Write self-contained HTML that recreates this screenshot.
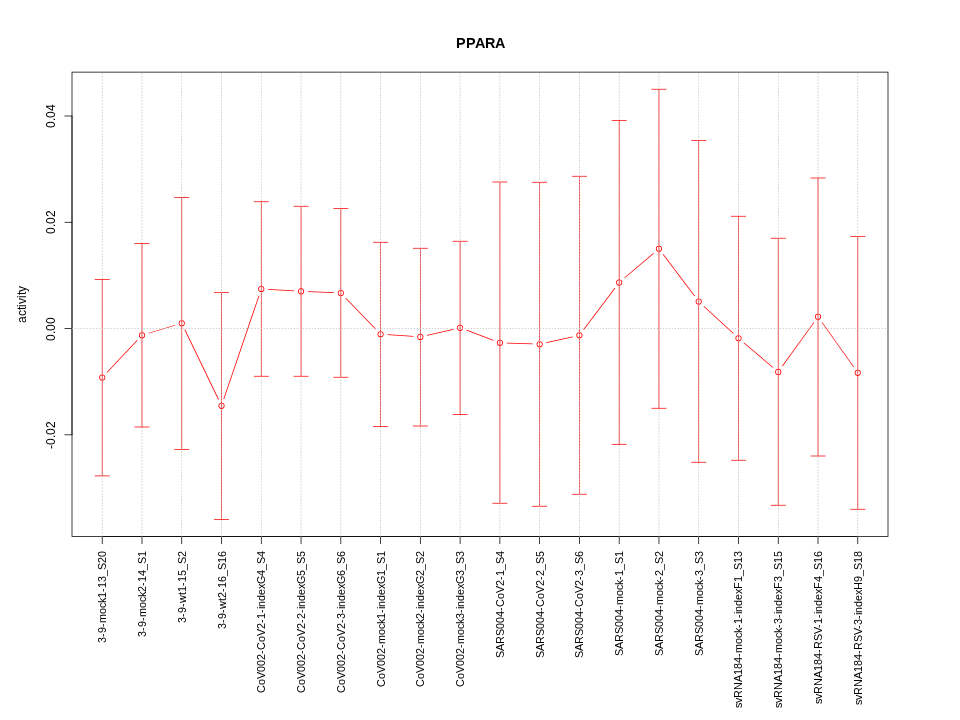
<!DOCTYPE html>
<html><head><meta charset="utf-8"><title>PPARA</title>
<style>
html,body{margin:0;padding:0;background:#fff;}
body{width:960px;height:720px;overflow:hidden;}
svg{display:block;}
text{font-family:"Liberation Sans",sans-serif;fill:#000;}
</style></head><body>
<svg width="960" height="720" viewBox="0 0 960 720">
<rect x="0" y="0" width="960" height="720" fill="#fff"/>
<g fill="#000" stroke="none">
<path fill-rule="evenodd" d="M71.625 71.625H888.375V536.775H71.625ZM72.375 72.375H887.625V536.025H72.375Z"/>
<path d="M71.625 115.71L71.625 435.115L72.375 435.115L72.375 115.71Z"/>
<path d="M72.29 115.625L64.51 115.625L64.51 116.375L72.29 116.375Z"/>
<path d="M72.29 221.9L64.51 221.9L64.51 222.65L72.29 222.65Z"/>
<path d="M72.29 328.175L64.51 328.175L64.51 328.925L72.29 328.925Z"/>
<path d="M72.29 434.45L64.51 434.45L64.51 435.2L72.29 435.2Z"/>
<path d="M101.932 536.775L858.068 536.775L858.068 536.025L101.932 536.025Z"/>
<path d="M101.847 536.11L101.847 543.89L102.597 543.89L102.597 536.11ZM141.613 536.11L141.613 543.89L142.363 543.89L142.363 536.11ZM181.379 536.11L181.379 543.89L182.129 543.89L182.129 536.11ZM221.145 536.11L221.145 543.89L221.895 543.89L221.895 536.11ZM260.912 536.11L260.912 543.89L261.662 543.89L261.662 536.11ZM300.678 536.11L300.678 543.89L301.428 543.89L301.428 536.11ZM340.444 536.11L340.444 543.89L341.194 543.89L341.194 536.11ZM380.21 536.11L380.21 543.89L380.96 543.89L380.96 536.11ZM419.976 536.11L419.976 543.89L420.726 543.89L420.726 536.11ZM459.742 536.11L459.742 543.89L460.492 543.89L460.492 536.11ZM499.508 536.11L499.508 543.89L500.258 543.89L500.258 536.11ZM539.274 536.11L539.274 543.89L540.024 543.89L540.024 536.11ZM579.04 536.11L579.04 543.89L579.79 543.89L579.79 536.11ZM618.806 536.11L618.806 543.89L619.556 543.89L619.556 536.11ZM658.572 536.11L658.572 543.89L659.322 543.89L659.322 536.11ZM698.338 536.11L698.338 543.89L699.088 543.89L699.088 536.11ZM738.105 536.11L738.105 543.89L738.855 543.89L738.855 536.11ZM777.871 536.11L777.871 543.89L778.621 543.89L778.621 536.11ZM817.637 536.11L817.637 543.89L818.387 543.89L818.387 536.11ZM857.403 536.11L857.403 543.89L858.153 543.89L858.153 536.11Z"/>
</g>
<g fill="#f00" stroke="none">
<path d="M107.231 372.725L137.525 340.539L136.979 340.025L106.685 372.211Z"/>
<path d="M148.712 333.613L175.247 325.605L175.031 324.887L148.495 332.895Z"/>
<path d="M184.417 329.637L218.182 399.688L218.858 399.363L185.093 329.312Z"/>
<path d="M224.103 399.33L259.414 295.662L258.704 295.42L223.393 399.088Z"/>
<path d="M268.164 289.765L294.132 291.234L294.175 290.485L268.207 289.016Z"/>
<path d="M307.939 291.928L333.899 293.071L333.932 292.322L307.972 291.179Z"/>
<path d="M345.345 298.235L375.519 329.535L376.059 329.015L345.884 297.715Z"/>
<path d="M387.455 335.084L413.431 336.815L413.481 336.066L387.504 334.335Z"/>
<path d="M427.169 335.716L453.467 329.665L453.299 328.934L427.001 334.985Z"/>
<path d="M466.45 330.54L493.285 340.662L493.55 339.96L466.715 329.838Z"/>
<path d="M506.774 343.385L532.73 344.364L532.758 343.615L506.802 342.636Z"/>
<path d="M546.471 343.09L572.758 337.141L572.593 336.41L546.306 342.359Z"/>
<path d="M583.874 329.958L615.321 288.244L614.722 287.792L583.275 329.506Z"/>
<path d="M624.692 278.315L653.922 253.507L653.436 252.935L624.207 277.743Z"/>
<path d="M662.802 254.497L694.259 296.304L694.859 295.853L663.402 254.046Z"/>
<path d="M703.54 306.559L733.144 333.843L733.653 333.291L704.049 306.007Z"/>
<path d="M743.512 343L772.728 367.723L773.213 367.15L743.997 342.427Z"/>
<path d="M782.591 366.514L814.274 322.574L813.666 322.136L781.983 366.076Z"/>
<path d="M821.707 322.601L853.471 367.333L854.083 366.899L822.318 322.167Z"/>
<path fill-rule="evenodd" d="M99.147 377.5a3.075 3.075 0 1 0 6.15 0a3.075 3.075 0 1 0 -6.15 0ZM99.897 377.5a2.325 2.325 0 1 0 4.65 0a2.325 2.325 0 1 0 -4.65 0Z"/>
<path fill-rule="evenodd" d="M138.913 335.25a3.075 3.075 0 1 0 6.15 0a3.075 3.075 0 1 0 -6.15 0ZM139.663 335.25a2.325 2.325 0 1 0 4.65 0a2.325 2.325 0 1 0 -4.65 0Z"/>
<path fill-rule="evenodd" d="M178.679 323.25a3.075 3.075 0 1 0 6.15 0a3.075 3.075 0 1 0 -6.15 0ZM179.429 323.25a2.325 2.325 0 1 0 4.65 0a2.325 2.325 0 1 0 -4.65 0Z"/>
<path fill-rule="evenodd" d="M218.445 405.75a3.075 3.075 0 1 0 6.15 0a3.075 3.075 0 1 0 -6.15 0ZM219.195 405.75a2.325 2.325 0 1 0 4.65 0a2.325 2.325 0 1 0 -4.65 0Z"/>
<path fill-rule="evenodd" d="M258.212 289a3.075 3.075 0 1 0 6.15 0a3.075 3.075 0 1 0 -6.15 0ZM258.962 289a2.325 2.325 0 1 0 4.65 0a2.325 2.325 0 1 0 -4.65 0Z"/>
<path fill-rule="evenodd" d="M297.978 291.25a3.075 3.075 0 1 0 6.15 0a3.075 3.075 0 1 0 -6.15 0ZM298.728 291.25a2.325 2.325 0 1 0 4.65 0a2.325 2.325 0 1 0 -4.65 0Z"/>
<path fill-rule="evenodd" d="M337.744 293a3.075 3.075 0 1 0 6.15 0a3.075 3.075 0 1 0 -6.15 0ZM338.494 293a2.325 2.325 0 1 0 4.65 0a2.325 2.325 0 1 0 -4.65 0Z"/>
<path fill-rule="evenodd" d="M377.51 334.25a3.075 3.075 0 1 0 6.15 0a3.075 3.075 0 1 0 -6.15 0ZM378.26 334.25a2.325 2.325 0 1 0 4.65 0a2.325 2.325 0 1 0 -4.65 0Z"/>
<path fill-rule="evenodd" d="M417.276 336.9a3.075 3.075 0 1 0 6.15 0a3.075 3.075 0 1 0 -6.15 0ZM418.026 336.9a2.325 2.325 0 1 0 4.65 0a2.325 2.325 0 1 0 -4.65 0Z"/>
<path fill-rule="evenodd" d="M457.042 327.75a3.075 3.075 0 1 0 6.15 0a3.075 3.075 0 1 0 -6.15 0ZM457.792 327.75a2.325 2.325 0 1 0 4.65 0a2.325 2.325 0 1 0 -4.65 0Z"/>
<path fill-rule="evenodd" d="M496.808 342.75a3.075 3.075 0 1 0 6.15 0a3.075 3.075 0 1 0 -6.15 0ZM497.558 342.75a2.325 2.325 0 1 0 4.65 0a2.325 2.325 0 1 0 -4.65 0Z"/>
<path fill-rule="evenodd" d="M536.574 344.25a3.075 3.075 0 1 0 6.15 0a3.075 3.075 0 1 0 -6.15 0ZM537.324 344.25a2.325 2.325 0 1 0 4.65 0a2.325 2.325 0 1 0 -4.65 0Z"/>
<path fill-rule="evenodd" d="M576.34 335.25a3.075 3.075 0 1 0 6.15 0a3.075 3.075 0 1 0 -6.15 0ZM577.09 335.25a2.325 2.325 0 1 0 4.65 0a2.325 2.325 0 1 0 -4.65 0Z"/>
<path fill-rule="evenodd" d="M616.106 282.5a3.075 3.075 0 1 0 6.15 0a3.075 3.075 0 1 0 -6.15 0ZM616.856 282.5a2.325 2.325 0 1 0 4.65 0a2.325 2.325 0 1 0 -4.65 0Z"/>
<path fill-rule="evenodd" d="M655.872 248.75a3.075 3.075 0 1 0 6.15 0a3.075 3.075 0 1 0 -6.15 0ZM656.622 248.75a2.325 2.325 0 1 0 4.65 0a2.325 2.325 0 1 0 -4.65 0Z"/>
<path fill-rule="evenodd" d="M695.638 301.6a3.075 3.075 0 1 0 6.15 0a3.075 3.075 0 1 0 -6.15 0ZM696.388 301.6a2.325 2.325 0 1 0 4.65 0a2.325 2.325 0 1 0 -4.65 0Z"/>
<path fill-rule="evenodd" d="M735.405 338.25a3.075 3.075 0 1 0 6.15 0a3.075 3.075 0 1 0 -6.15 0ZM736.155 338.25a2.325 2.325 0 1 0 4.65 0a2.325 2.325 0 1 0 -4.65 0Z"/>
<path fill-rule="evenodd" d="M775.171 371.9a3.075 3.075 0 1 0 6.15 0a3.075 3.075 0 1 0 -6.15 0ZM775.921 371.9a2.325 2.325 0 1 0 4.65 0a2.325 2.325 0 1 0 -4.65 0Z"/>
<path fill-rule="evenodd" d="M814.937 316.75a3.075 3.075 0 1 0 6.15 0a3.075 3.075 0 1 0 -6.15 0ZM815.687 316.75a2.325 2.325 0 1 0 4.65 0a2.325 2.325 0 1 0 -4.65 0Z"/>
<path fill-rule="evenodd" d="M854.703 372.75a3.075 3.075 0 1 0 6.15 0a3.075 3.075 0 1 0 -6.15 0ZM855.453 372.75a2.325 2.325 0 1 0 4.65 0a2.325 2.325 0 1 0 -4.65 0Z"/>
<path d="M102.597 476.17L102.597 279.21L101.847 279.21L101.847 476.17Z"/>
<path d="M94.732 279.875L109.712 279.875L109.712 279.125L94.732 279.125Z"/>
<path d="M94.732 476.255L109.712 476.255L109.712 475.505L94.732 475.505Z"/>
<path d="M142.363 427.29L142.363 243.21L141.613 243.21L141.613 427.29Z"/>
<path d="M134.498 243.875L149.478 243.875L149.478 243.125L134.498 243.125Z"/>
<path d="M134.498 427.375L149.478 427.375L149.478 426.625L134.498 426.625Z"/>
<path d="M182.129 449.69L182.129 197.21L181.379 197.21L181.379 449.69Z"/>
<path d="M174.264 197.875L189.244 197.875L189.244 197.125L174.264 197.125Z"/>
<path d="M174.264 449.775L189.244 449.775L189.244 449.025L174.264 449.025Z"/>
<path d="M221.895 519.69L221.895 292.21L221.145 292.21L221.145 519.69Z"/>
<path d="M214.03 292.875L229.01 292.875L229.01 292.125L214.03 292.125Z"/>
<path d="M214.03 519.775L229.01 519.775L229.01 519.025L214.03 519.025Z"/>
<path d="M261.662 376.54L261.662 201.46L260.912 201.46L260.912 376.54Z"/>
<path d="M253.797 202.125L268.777 202.125L268.777 201.375L253.797 201.375Z"/>
<path d="M253.797 376.625L268.777 376.625L268.777 375.875L253.797 375.875Z"/>
<path d="M301.428 376.54L301.428 205.96L300.678 205.96L300.678 376.54Z"/>
<path d="M293.563 206.625L308.543 206.625L308.543 205.875L293.563 205.875Z"/>
<path d="M293.563 376.625L308.543 376.625L308.543 375.875L293.563 375.875Z"/>
<path d="M341.194 377.54L341.194 208.21L340.444 208.21L340.444 377.54Z"/>
<path d="M333.329 208.875L348.309 208.875L348.309 208.125L333.329 208.125Z"/>
<path d="M333.329 377.625L348.309 377.625L348.309 376.875L333.329 376.875Z"/>
<path d="M380.96 426.79L380.96 241.96L380.21 241.96L380.21 426.79Z"/>
<path d="M373.095 242.625L388.075 242.625L388.075 241.875L373.095 241.875Z"/>
<path d="M373.095 426.875L388.075 426.875L388.075 426.125L373.095 426.125Z"/>
<path d="M420.726 426.29L420.726 247.96L419.976 247.96L419.976 426.29Z"/>
<path d="M412.861 248.625L427.841 248.625L427.841 247.875L412.861 247.875Z"/>
<path d="M412.861 426.375L427.841 426.375L427.841 425.625L412.861 425.625Z"/>
<path d="M460.492 414.69L460.492 240.96L459.742 240.96L459.742 414.69Z"/>
<path d="M452.627 241.625L467.607 241.625L467.607 240.875L452.627 240.875Z"/>
<path d="M452.627 414.775L467.607 414.775L467.607 414.025L452.627 414.025Z"/>
<path d="M500.258 503.54L500.258 181.71L499.508 181.71L499.508 503.54Z"/>
<path d="M492.393 182.375L507.373 182.375L507.373 181.625L492.393 181.625Z"/>
<path d="M492.393 503.625L507.373 503.625L507.373 502.875L492.393 502.875Z"/>
<path d="M540.024 506.54L540.024 181.96L539.274 181.96L539.274 506.54Z"/>
<path d="M532.159 182.625L547.139 182.625L547.139 181.875L532.159 181.875Z"/>
<path d="M532.159 506.625L547.139 506.625L547.139 505.875L532.159 505.875Z"/>
<path d="M579.79 494.54L579.79 175.96L579.04 175.96L579.04 494.54Z"/>
<path d="M571.925 176.625L586.905 176.625L586.905 175.875L571.925 175.875Z"/>
<path d="M571.925 494.625L586.905 494.625L586.905 493.875L571.925 493.875Z"/>
<path d="M619.556 444.59L619.556 120.21L618.806 120.21L618.806 444.59Z"/>
<path d="M611.691 120.875L626.671 120.875L626.671 120.125L611.691 120.125Z"/>
<path d="M611.691 444.675L626.671 444.675L626.671 443.925L611.691 443.925Z"/>
<path d="M659.322 408.54L659.322 88.96L658.572 88.96L658.572 408.54Z"/>
<path d="M651.457 89.625L666.437 89.625L666.437 88.875L651.457 88.875Z"/>
<path d="M651.457 408.625L666.437 408.625L666.437 407.875L651.457 407.875Z"/>
<path d="M699.088 462.54L699.088 140.21L698.338 140.21L698.338 462.54Z"/>
<path d="M691.223 140.875L706.203 140.875L706.203 140.125L691.223 140.125Z"/>
<path d="M691.223 462.625L706.203 462.625L706.203 461.875L691.223 461.875Z"/>
<path d="M738.855 460.54L738.855 215.96L738.105 215.96L738.105 460.54Z"/>
<path d="M730.99 216.625L745.97 216.625L745.97 215.875L730.99 215.875Z"/>
<path d="M730.99 460.625L745.97 460.625L745.97 459.875L730.99 459.875Z"/>
<path d="M778.621 505.54L778.621 237.91L777.871 237.91L777.871 505.54Z"/>
<path d="M770.756 238.575L785.736 238.575L785.736 237.825L770.756 237.825Z"/>
<path d="M770.756 505.625L785.736 505.625L785.736 504.875L770.756 504.875Z"/>
<path d="M818.387 456.29L818.387 177.71L817.637 177.71L817.637 456.29Z"/>
<path d="M810.522 178.375L825.502 178.375L825.502 177.625L810.522 177.625Z"/>
<path d="M810.522 456.375L825.502 456.375L825.502 455.625L810.522 455.625Z"/>
<path d="M858.153 509.54L858.153 236.21L857.403 236.21L857.403 509.54Z"/>
<path d="M850.288 236.875L865.268 236.875L865.268 236.125L850.288 236.125Z"/>
<path d="M850.288 509.625L865.268 509.625L865.268 508.875L850.288 508.875Z"/>
</g>
<g fill="#bebebe" stroke="none">
<path d="M101.847 535.355h0.75V536.695h-0.75ZM101.847 532.355h0.75V533.695h-0.75ZM101.847 529.355h0.75V530.695h-0.75ZM101.847 526.355h0.75V527.695h-0.75ZM101.847 523.355h0.75V524.695h-0.75ZM101.847 520.355h0.75V521.695h-0.75ZM101.847 517.355h0.75V518.695h-0.75ZM101.847 514.355h0.75V515.695h-0.75ZM101.847 511.355h0.75V512.695h-0.75ZM101.847 508.355h0.75V509.695h-0.75ZM101.847 505.355h0.75V506.695h-0.75ZM101.847 502.355h0.75V503.695h-0.75ZM101.847 499.355h0.75V500.695h-0.75ZM101.847 496.355h0.75V497.695h-0.75ZM101.847 493.355h0.75V494.695h-0.75ZM101.847 490.355h0.75V491.695h-0.75ZM101.847 487.355h0.75V488.695h-0.75ZM101.847 484.355h0.75V485.695h-0.75ZM101.847 481.355h0.75V482.695h-0.75ZM101.847 478.355h0.75V479.695h-0.75ZM101.847 475.355h0.75V476.695h-0.75ZM101.847 472.355h0.75V473.695h-0.75ZM101.847 469.355h0.75V470.695h-0.75ZM101.847 466.355h0.75V467.695h-0.75ZM101.847 463.355h0.75V464.695h-0.75ZM101.847 460.355h0.75V461.695h-0.75ZM101.847 457.355h0.75V458.695h-0.75ZM101.847 454.355h0.75V455.695h-0.75ZM101.847 451.355h0.75V452.695h-0.75ZM101.847 448.355h0.75V449.695h-0.75ZM101.847 445.355h0.75V446.695h-0.75ZM101.847 442.355h0.75V443.695h-0.75ZM101.847 439.355h0.75V440.695h-0.75ZM101.847 436.355h0.75V437.695h-0.75ZM101.847 433.355h0.75V434.695h-0.75ZM101.847 430.355h0.75V431.695h-0.75ZM101.847 427.355h0.75V428.695h-0.75ZM101.847 424.355h0.75V425.695h-0.75ZM101.847 421.355h0.75V422.695h-0.75ZM101.847 418.355h0.75V419.695h-0.75ZM101.847 415.355h0.75V416.695h-0.75ZM101.847 412.355h0.75V413.695h-0.75ZM101.847 409.355h0.75V410.695h-0.75ZM101.847 406.355h0.75V407.695h-0.75ZM101.847 403.355h0.75V404.695h-0.75ZM101.847 400.355h0.75V401.695h-0.75ZM101.847 397.355h0.75V398.695h-0.75ZM101.847 394.355h0.75V395.695h-0.75ZM101.847 391.355h0.75V392.695h-0.75ZM101.847 388.355h0.75V389.695h-0.75ZM101.847 385.355h0.75V386.695h-0.75ZM101.847 382.355h0.75V383.695h-0.75ZM101.847 379.355h0.75V380.695h-0.75ZM101.847 376.355h0.75V377.695h-0.75ZM101.847 373.355h0.75V374.695h-0.75ZM101.847 370.355h0.75V371.695h-0.75ZM101.847 367.355h0.75V368.695h-0.75ZM101.847 364.355h0.75V365.695h-0.75ZM101.847 361.355h0.75V362.695h-0.75ZM101.847 358.355h0.75V359.695h-0.75ZM101.847 355.355h0.75V356.695h-0.75ZM101.847 352.355h0.75V353.695h-0.75ZM101.847 349.355h0.75V350.695h-0.75ZM101.847 346.355h0.75V347.695h-0.75ZM101.847 343.355h0.75V344.695h-0.75ZM101.847 340.355h0.75V341.695h-0.75ZM101.847 337.355h0.75V338.695h-0.75ZM101.847 334.355h0.75V335.695h-0.75ZM101.847 331.355h0.75V332.695h-0.75ZM101.847 328.355h0.75V329.695h-0.75ZM101.847 325.355h0.75V326.695h-0.75ZM101.847 322.355h0.75V323.695h-0.75ZM101.847 319.355h0.75V320.695h-0.75ZM101.847 316.355h0.75V317.695h-0.75ZM101.847 313.355h0.75V314.695h-0.75ZM101.847 310.355h0.75V311.695h-0.75ZM101.847 307.355h0.75V308.695h-0.75ZM101.847 304.355h0.75V305.695h-0.75ZM101.847 301.355h0.75V302.695h-0.75ZM101.847 298.355h0.75V299.695h-0.75ZM101.847 295.355h0.75V296.695h-0.75ZM101.847 292.355h0.75V293.695h-0.75ZM101.847 289.355h0.75V290.695h-0.75ZM101.847 286.355h0.75V287.695h-0.75ZM101.847 283.355h0.75V284.695h-0.75ZM101.847 280.355h0.75V281.695h-0.75ZM101.847 277.355h0.75V278.695h-0.75ZM101.847 274.355h0.75V275.695h-0.75ZM101.847 271.355h0.75V272.695h-0.75ZM101.847 268.355h0.75V269.695h-0.75ZM101.847 265.355h0.75V266.695h-0.75ZM101.847 262.355h0.75V263.695h-0.75ZM101.847 259.355h0.75V260.695h-0.75ZM101.847 256.355h0.75V257.695h-0.75ZM101.847 253.355h0.75V254.695h-0.75ZM101.847 250.355h0.75V251.695h-0.75ZM101.847 247.355h0.75V248.695h-0.75ZM101.847 244.355h0.75V245.695h-0.75ZM101.847 241.355h0.75V242.695h-0.75ZM101.847 238.355h0.75V239.695h-0.75ZM101.847 235.355h0.75V236.695h-0.75ZM101.847 232.355h0.75V233.695h-0.75ZM101.847 229.355h0.75V230.695h-0.75ZM101.847 226.355h0.75V227.695h-0.75ZM101.847 223.355h0.75V224.695h-0.75ZM101.847 220.355h0.75V221.695h-0.75ZM101.847 217.355h0.75V218.695h-0.75ZM101.847 214.355h0.75V215.695h-0.75ZM101.847 211.355h0.75V212.695h-0.75ZM101.847 208.355h0.75V209.695h-0.75ZM101.847 205.355h0.75V206.695h-0.75ZM101.847 202.355h0.75V203.695h-0.75ZM101.847 199.355h0.75V200.695h-0.75ZM101.847 196.355h0.75V197.695h-0.75ZM101.847 193.355h0.75V194.695h-0.75ZM101.847 190.355h0.75V191.695h-0.75ZM101.847 187.355h0.75V188.695h-0.75ZM101.847 184.355h0.75V185.695h-0.75ZM101.847 181.355h0.75V182.695h-0.75ZM101.847 178.355h0.75V179.695h-0.75ZM101.847 175.355h0.75V176.695h-0.75ZM101.847 172.355h0.75V173.695h-0.75ZM101.847 169.355h0.75V170.695h-0.75ZM101.847 166.355h0.75V167.695h-0.75ZM101.847 163.355h0.75V164.695h-0.75ZM101.847 160.355h0.75V161.695h-0.75ZM101.847 157.355h0.75V158.695h-0.75ZM101.847 154.355h0.75V155.695h-0.75ZM101.847 151.355h0.75V152.695h-0.75ZM101.847 148.355h0.75V149.695h-0.75ZM101.847 145.355h0.75V146.695h-0.75ZM101.847 142.355h0.75V143.695h-0.75ZM101.847 139.355h0.75V140.695h-0.75ZM101.847 136.355h0.75V137.695h-0.75ZM101.847 133.355h0.75V134.695h-0.75ZM101.847 130.355h0.75V131.695h-0.75ZM101.847 127.355h0.75V128.695h-0.75ZM101.847 124.355h0.75V125.695h-0.75ZM101.847 121.355h0.75V122.695h-0.75ZM101.847 118.355h0.75V119.695h-0.75ZM101.847 115.355h0.75V116.695h-0.75ZM101.847 112.355h0.75V113.695h-0.75ZM101.847 109.355h0.75V110.695h-0.75ZM101.847 106.355h0.75V107.695h-0.75ZM101.847 103.355h0.75V104.695h-0.75ZM101.847 100.355h0.75V101.695h-0.75ZM101.847 97.355h0.75V98.695h-0.75ZM101.847 94.355h0.75V95.695h-0.75ZM101.847 91.355h0.75V92.695h-0.75ZM101.847 88.355h0.75V89.695h-0.75ZM101.847 85.355h0.75V86.695h-0.75ZM101.847 82.355h0.75V83.695h-0.75ZM101.847 79.355h0.75V80.695h-0.75ZM101.847 76.355h0.75V77.695h-0.75ZM101.847 73.355h0.75V74.695h-0.75Z"/>
<path d="M141.613 535.355h0.75V536.695h-0.75ZM141.613 532.355h0.75V533.695h-0.75ZM141.613 529.355h0.75V530.695h-0.75ZM141.613 526.355h0.75V527.695h-0.75ZM141.613 523.355h0.75V524.695h-0.75ZM141.613 520.355h0.75V521.695h-0.75ZM141.613 517.355h0.75V518.695h-0.75ZM141.613 514.355h0.75V515.695h-0.75ZM141.613 511.355h0.75V512.695h-0.75ZM141.613 508.355h0.75V509.695h-0.75ZM141.613 505.355h0.75V506.695h-0.75ZM141.613 502.355h0.75V503.695h-0.75ZM141.613 499.355h0.75V500.695h-0.75ZM141.613 496.355h0.75V497.695h-0.75ZM141.613 493.355h0.75V494.695h-0.75ZM141.613 490.355h0.75V491.695h-0.75ZM141.613 487.355h0.75V488.695h-0.75ZM141.613 484.355h0.75V485.695h-0.75ZM141.613 481.355h0.75V482.695h-0.75ZM141.613 478.355h0.75V479.695h-0.75ZM141.613 475.355h0.75V476.695h-0.75ZM141.613 472.355h0.75V473.695h-0.75ZM141.613 469.355h0.75V470.695h-0.75ZM141.613 466.355h0.75V467.695h-0.75ZM141.613 463.355h0.75V464.695h-0.75ZM141.613 460.355h0.75V461.695h-0.75ZM141.613 457.355h0.75V458.695h-0.75ZM141.613 454.355h0.75V455.695h-0.75ZM141.613 451.355h0.75V452.695h-0.75ZM141.613 448.355h0.75V449.695h-0.75ZM141.613 445.355h0.75V446.695h-0.75ZM141.613 442.355h0.75V443.695h-0.75ZM141.613 439.355h0.75V440.695h-0.75ZM141.613 436.355h0.75V437.695h-0.75ZM141.613 433.355h0.75V434.695h-0.75ZM141.613 430.355h0.75V431.695h-0.75ZM141.613 427.355h0.75V428.695h-0.75ZM141.613 424.355h0.75V425.695h-0.75ZM141.613 421.355h0.75V422.695h-0.75ZM141.613 418.355h0.75V419.695h-0.75ZM141.613 415.355h0.75V416.695h-0.75ZM141.613 412.355h0.75V413.695h-0.75ZM141.613 409.355h0.75V410.695h-0.75ZM141.613 406.355h0.75V407.695h-0.75ZM141.613 403.355h0.75V404.695h-0.75ZM141.613 400.355h0.75V401.695h-0.75ZM141.613 397.355h0.75V398.695h-0.75ZM141.613 394.355h0.75V395.695h-0.75ZM141.613 391.355h0.75V392.695h-0.75ZM141.613 388.355h0.75V389.695h-0.75ZM141.613 385.355h0.75V386.695h-0.75ZM141.613 382.355h0.75V383.695h-0.75ZM141.613 379.355h0.75V380.695h-0.75ZM141.613 376.355h0.75V377.695h-0.75ZM141.613 373.355h0.75V374.695h-0.75ZM141.613 370.355h0.75V371.695h-0.75ZM141.613 367.355h0.75V368.695h-0.75ZM141.613 364.355h0.75V365.695h-0.75ZM141.613 361.355h0.75V362.695h-0.75ZM141.613 358.355h0.75V359.695h-0.75ZM141.613 355.355h0.75V356.695h-0.75ZM141.613 352.355h0.75V353.695h-0.75ZM141.613 349.355h0.75V350.695h-0.75ZM141.613 346.355h0.75V347.695h-0.75ZM141.613 343.355h0.75V344.695h-0.75ZM141.613 340.355h0.75V341.695h-0.75ZM141.613 337.355h0.75V338.695h-0.75ZM141.613 334.355h0.75V335.695h-0.75ZM141.613 331.355h0.75V332.695h-0.75ZM141.613 328.355h0.75V329.695h-0.75ZM141.613 325.355h0.75V326.695h-0.75ZM141.613 322.355h0.75V323.695h-0.75ZM141.613 319.355h0.75V320.695h-0.75ZM141.613 316.355h0.75V317.695h-0.75ZM141.613 313.355h0.75V314.695h-0.75ZM141.613 310.355h0.75V311.695h-0.75ZM141.613 307.355h0.75V308.695h-0.75ZM141.613 304.355h0.75V305.695h-0.75ZM141.613 301.355h0.75V302.695h-0.75ZM141.613 298.355h0.75V299.695h-0.75ZM141.613 295.355h0.75V296.695h-0.75ZM141.613 292.355h0.75V293.695h-0.75ZM141.613 289.355h0.75V290.695h-0.75ZM141.613 286.355h0.75V287.695h-0.75ZM141.613 283.355h0.75V284.695h-0.75ZM141.613 280.355h0.75V281.695h-0.75ZM141.613 277.355h0.75V278.695h-0.75ZM141.613 274.355h0.75V275.695h-0.75ZM141.613 271.355h0.75V272.695h-0.75ZM141.613 268.355h0.75V269.695h-0.75ZM141.613 265.355h0.75V266.695h-0.75ZM141.613 262.355h0.75V263.695h-0.75ZM141.613 259.355h0.75V260.695h-0.75ZM141.613 256.355h0.75V257.695h-0.75ZM141.613 253.355h0.75V254.695h-0.75ZM141.613 250.355h0.75V251.695h-0.75ZM141.613 247.355h0.75V248.695h-0.75ZM141.613 244.355h0.75V245.695h-0.75ZM141.613 241.355h0.75V242.695h-0.75ZM141.613 238.355h0.75V239.695h-0.75ZM141.613 235.355h0.75V236.695h-0.75ZM141.613 232.355h0.75V233.695h-0.75ZM141.613 229.355h0.75V230.695h-0.75ZM141.613 226.355h0.75V227.695h-0.75ZM141.613 223.355h0.75V224.695h-0.75ZM141.613 220.355h0.75V221.695h-0.75ZM141.613 217.355h0.75V218.695h-0.75ZM141.613 214.355h0.75V215.695h-0.75ZM141.613 211.355h0.75V212.695h-0.75ZM141.613 208.355h0.75V209.695h-0.75ZM141.613 205.355h0.75V206.695h-0.75ZM141.613 202.355h0.75V203.695h-0.75ZM141.613 199.355h0.75V200.695h-0.75ZM141.613 196.355h0.75V197.695h-0.75ZM141.613 193.355h0.75V194.695h-0.75ZM141.613 190.355h0.75V191.695h-0.75ZM141.613 187.355h0.75V188.695h-0.75ZM141.613 184.355h0.75V185.695h-0.75ZM141.613 181.355h0.75V182.695h-0.75ZM141.613 178.355h0.75V179.695h-0.75ZM141.613 175.355h0.75V176.695h-0.75ZM141.613 172.355h0.75V173.695h-0.75ZM141.613 169.355h0.75V170.695h-0.75ZM141.613 166.355h0.75V167.695h-0.75ZM141.613 163.355h0.75V164.695h-0.75ZM141.613 160.355h0.75V161.695h-0.75ZM141.613 157.355h0.75V158.695h-0.75ZM141.613 154.355h0.75V155.695h-0.75ZM141.613 151.355h0.75V152.695h-0.75ZM141.613 148.355h0.75V149.695h-0.75ZM141.613 145.355h0.75V146.695h-0.75ZM141.613 142.355h0.75V143.695h-0.75ZM141.613 139.355h0.75V140.695h-0.75ZM141.613 136.355h0.75V137.695h-0.75ZM141.613 133.355h0.75V134.695h-0.75ZM141.613 130.355h0.75V131.695h-0.75ZM141.613 127.355h0.75V128.695h-0.75ZM141.613 124.355h0.75V125.695h-0.75ZM141.613 121.355h0.75V122.695h-0.75ZM141.613 118.355h0.75V119.695h-0.75ZM141.613 115.355h0.75V116.695h-0.75ZM141.613 112.355h0.75V113.695h-0.75ZM141.613 109.355h0.75V110.695h-0.75ZM141.613 106.355h0.75V107.695h-0.75ZM141.613 103.355h0.75V104.695h-0.75ZM141.613 100.355h0.75V101.695h-0.75ZM141.613 97.355h0.75V98.695h-0.75ZM141.613 94.355h0.75V95.695h-0.75ZM141.613 91.355h0.75V92.695h-0.75ZM141.613 88.355h0.75V89.695h-0.75ZM141.613 85.355h0.75V86.695h-0.75ZM141.613 82.355h0.75V83.695h-0.75ZM141.613 79.355h0.75V80.695h-0.75ZM141.613 76.355h0.75V77.695h-0.75ZM141.613 73.355h0.75V74.695h-0.75Z"/>
<path d="M181.379 535.355h0.75V536.695h-0.75ZM181.379 532.355h0.75V533.695h-0.75ZM181.379 529.355h0.75V530.695h-0.75ZM181.379 526.355h0.75V527.695h-0.75ZM181.379 523.355h0.75V524.695h-0.75ZM181.379 520.355h0.75V521.695h-0.75ZM181.379 517.355h0.75V518.695h-0.75ZM181.379 514.355h0.75V515.695h-0.75ZM181.379 511.355h0.75V512.695h-0.75ZM181.379 508.355h0.75V509.695h-0.75ZM181.379 505.355h0.75V506.695h-0.75ZM181.379 502.355h0.75V503.695h-0.75ZM181.379 499.355h0.75V500.695h-0.75ZM181.379 496.355h0.75V497.695h-0.75ZM181.379 493.355h0.75V494.695h-0.75ZM181.379 490.355h0.75V491.695h-0.75ZM181.379 487.355h0.75V488.695h-0.75ZM181.379 484.355h0.75V485.695h-0.75ZM181.379 481.355h0.75V482.695h-0.75ZM181.379 478.355h0.75V479.695h-0.75ZM181.379 475.355h0.75V476.695h-0.75ZM181.379 472.355h0.75V473.695h-0.75ZM181.379 469.355h0.75V470.695h-0.75ZM181.379 466.355h0.75V467.695h-0.75ZM181.379 463.355h0.75V464.695h-0.75ZM181.379 460.355h0.75V461.695h-0.75ZM181.379 457.355h0.75V458.695h-0.75ZM181.379 454.355h0.75V455.695h-0.75ZM181.379 451.355h0.75V452.695h-0.75ZM181.379 448.355h0.75V449.695h-0.75ZM181.379 445.355h0.75V446.695h-0.75ZM181.379 442.355h0.75V443.695h-0.75ZM181.379 439.355h0.75V440.695h-0.75ZM181.379 436.355h0.75V437.695h-0.75ZM181.379 433.355h0.75V434.695h-0.75ZM181.379 430.355h0.75V431.695h-0.75ZM181.379 427.355h0.75V428.695h-0.75ZM181.379 424.355h0.75V425.695h-0.75ZM181.379 421.355h0.75V422.695h-0.75ZM181.379 418.355h0.75V419.695h-0.75ZM181.379 415.355h0.75V416.695h-0.75ZM181.379 412.355h0.75V413.695h-0.75ZM181.379 409.355h0.75V410.695h-0.75ZM181.379 406.355h0.75V407.695h-0.75ZM181.379 403.355h0.75V404.695h-0.75ZM181.379 400.355h0.75V401.695h-0.75ZM181.379 397.355h0.75V398.695h-0.75ZM181.379 394.355h0.75V395.695h-0.75ZM181.379 391.355h0.75V392.695h-0.75ZM181.379 388.355h0.75V389.695h-0.75ZM181.379 385.355h0.75V386.695h-0.75ZM181.379 382.355h0.75V383.695h-0.75ZM181.379 379.355h0.75V380.695h-0.75ZM181.379 376.355h0.75V377.695h-0.75ZM181.379 373.355h0.75V374.695h-0.75ZM181.379 370.355h0.75V371.695h-0.75ZM181.379 367.355h0.75V368.695h-0.75ZM181.379 364.355h0.75V365.695h-0.75ZM181.379 361.355h0.75V362.695h-0.75ZM181.379 358.355h0.75V359.695h-0.75ZM181.379 355.355h0.75V356.695h-0.75ZM181.379 352.355h0.75V353.695h-0.75ZM181.379 349.355h0.75V350.695h-0.75ZM181.379 346.355h0.75V347.695h-0.75ZM181.379 343.355h0.75V344.695h-0.75ZM181.379 340.355h0.75V341.695h-0.75ZM181.379 337.355h0.75V338.695h-0.75ZM181.379 334.355h0.75V335.695h-0.75ZM181.379 331.355h0.75V332.695h-0.75ZM181.379 328.355h0.75V329.695h-0.75ZM181.379 325.355h0.75V326.695h-0.75ZM181.379 322.355h0.75V323.695h-0.75ZM181.379 319.355h0.75V320.695h-0.75ZM181.379 316.355h0.75V317.695h-0.75ZM181.379 313.355h0.75V314.695h-0.75ZM181.379 310.355h0.75V311.695h-0.75ZM181.379 307.355h0.75V308.695h-0.75ZM181.379 304.355h0.75V305.695h-0.75ZM181.379 301.355h0.75V302.695h-0.75ZM181.379 298.355h0.75V299.695h-0.75ZM181.379 295.355h0.75V296.695h-0.75ZM181.379 292.355h0.75V293.695h-0.75ZM181.379 289.355h0.75V290.695h-0.75ZM181.379 286.355h0.75V287.695h-0.75ZM181.379 283.355h0.75V284.695h-0.75ZM181.379 280.355h0.75V281.695h-0.75ZM181.379 277.355h0.75V278.695h-0.75ZM181.379 274.355h0.75V275.695h-0.75ZM181.379 271.355h0.75V272.695h-0.75ZM181.379 268.355h0.75V269.695h-0.75ZM181.379 265.355h0.75V266.695h-0.75ZM181.379 262.355h0.75V263.695h-0.75ZM181.379 259.355h0.75V260.695h-0.75ZM181.379 256.355h0.75V257.695h-0.75ZM181.379 253.355h0.75V254.695h-0.75ZM181.379 250.355h0.75V251.695h-0.75ZM181.379 247.355h0.75V248.695h-0.75ZM181.379 244.355h0.75V245.695h-0.75ZM181.379 241.355h0.75V242.695h-0.75ZM181.379 238.355h0.75V239.695h-0.75ZM181.379 235.355h0.75V236.695h-0.75ZM181.379 232.355h0.75V233.695h-0.75ZM181.379 229.355h0.75V230.695h-0.75ZM181.379 226.355h0.75V227.695h-0.75ZM181.379 223.355h0.75V224.695h-0.75ZM181.379 220.355h0.75V221.695h-0.75ZM181.379 217.355h0.75V218.695h-0.75ZM181.379 214.355h0.75V215.695h-0.75ZM181.379 211.355h0.75V212.695h-0.75ZM181.379 208.355h0.75V209.695h-0.75ZM181.379 205.355h0.75V206.695h-0.75ZM181.379 202.355h0.75V203.695h-0.75ZM181.379 199.355h0.75V200.695h-0.75ZM181.379 196.355h0.75V197.695h-0.75ZM181.379 193.355h0.75V194.695h-0.75ZM181.379 190.355h0.75V191.695h-0.75ZM181.379 187.355h0.75V188.695h-0.75ZM181.379 184.355h0.75V185.695h-0.75ZM181.379 181.355h0.75V182.695h-0.75ZM181.379 178.355h0.75V179.695h-0.75ZM181.379 175.355h0.75V176.695h-0.75ZM181.379 172.355h0.75V173.695h-0.75ZM181.379 169.355h0.75V170.695h-0.75ZM181.379 166.355h0.75V167.695h-0.75ZM181.379 163.355h0.75V164.695h-0.75ZM181.379 160.355h0.75V161.695h-0.75ZM181.379 157.355h0.75V158.695h-0.75ZM181.379 154.355h0.75V155.695h-0.75ZM181.379 151.355h0.75V152.695h-0.75ZM181.379 148.355h0.75V149.695h-0.75ZM181.379 145.355h0.75V146.695h-0.75ZM181.379 142.355h0.75V143.695h-0.75ZM181.379 139.355h0.75V140.695h-0.75ZM181.379 136.355h0.75V137.695h-0.75ZM181.379 133.355h0.75V134.695h-0.75ZM181.379 130.355h0.75V131.695h-0.75ZM181.379 127.355h0.75V128.695h-0.75ZM181.379 124.355h0.75V125.695h-0.75ZM181.379 121.355h0.75V122.695h-0.75ZM181.379 118.355h0.75V119.695h-0.75ZM181.379 115.355h0.75V116.695h-0.75ZM181.379 112.355h0.75V113.695h-0.75ZM181.379 109.355h0.75V110.695h-0.75ZM181.379 106.355h0.75V107.695h-0.75ZM181.379 103.355h0.75V104.695h-0.75ZM181.379 100.355h0.75V101.695h-0.75ZM181.379 97.355h0.75V98.695h-0.75ZM181.379 94.355h0.75V95.695h-0.75ZM181.379 91.355h0.75V92.695h-0.75ZM181.379 88.355h0.75V89.695h-0.75ZM181.379 85.355h0.75V86.695h-0.75ZM181.379 82.355h0.75V83.695h-0.75ZM181.379 79.355h0.75V80.695h-0.75ZM181.379 76.355h0.75V77.695h-0.75ZM181.379 73.355h0.75V74.695h-0.75Z"/>
<path d="M221.145 535.355h0.75V536.695h-0.75ZM221.145 532.355h0.75V533.695h-0.75ZM221.145 529.355h0.75V530.695h-0.75ZM221.145 526.355h0.75V527.695h-0.75ZM221.145 523.355h0.75V524.695h-0.75ZM221.145 520.355h0.75V521.695h-0.75ZM221.145 517.355h0.75V518.695h-0.75ZM221.145 514.355h0.75V515.695h-0.75ZM221.145 511.355h0.75V512.695h-0.75ZM221.145 508.355h0.75V509.695h-0.75ZM221.145 505.355h0.75V506.695h-0.75ZM221.145 502.355h0.75V503.695h-0.75ZM221.145 499.355h0.75V500.695h-0.75ZM221.145 496.355h0.75V497.695h-0.75ZM221.145 493.355h0.75V494.695h-0.75ZM221.145 490.355h0.75V491.695h-0.75ZM221.145 487.355h0.75V488.695h-0.75ZM221.145 484.355h0.75V485.695h-0.75ZM221.145 481.355h0.75V482.695h-0.75ZM221.145 478.355h0.75V479.695h-0.75ZM221.145 475.355h0.75V476.695h-0.75ZM221.145 472.355h0.75V473.695h-0.75ZM221.145 469.355h0.75V470.695h-0.75ZM221.145 466.355h0.75V467.695h-0.75ZM221.145 463.355h0.75V464.695h-0.75ZM221.145 460.355h0.75V461.695h-0.75ZM221.145 457.355h0.75V458.695h-0.75ZM221.145 454.355h0.75V455.695h-0.75ZM221.145 451.355h0.75V452.695h-0.75ZM221.145 448.355h0.75V449.695h-0.75ZM221.145 445.355h0.75V446.695h-0.75ZM221.145 442.355h0.75V443.695h-0.75ZM221.145 439.355h0.75V440.695h-0.75ZM221.145 436.355h0.75V437.695h-0.75ZM221.145 433.355h0.75V434.695h-0.75ZM221.145 430.355h0.75V431.695h-0.75ZM221.145 427.355h0.75V428.695h-0.75ZM221.145 424.355h0.75V425.695h-0.75ZM221.145 421.355h0.75V422.695h-0.75ZM221.145 418.355h0.75V419.695h-0.75ZM221.145 415.355h0.75V416.695h-0.75ZM221.145 412.355h0.75V413.695h-0.75ZM221.145 409.355h0.75V410.695h-0.75ZM221.145 406.355h0.75V407.695h-0.75ZM221.145 403.355h0.75V404.695h-0.75ZM221.145 400.355h0.75V401.695h-0.75ZM221.145 397.355h0.75V398.695h-0.75ZM221.145 394.355h0.75V395.695h-0.75ZM221.145 391.355h0.75V392.695h-0.75ZM221.145 388.355h0.75V389.695h-0.75ZM221.145 385.355h0.75V386.695h-0.75ZM221.145 382.355h0.75V383.695h-0.75ZM221.145 379.355h0.75V380.695h-0.75ZM221.145 376.355h0.75V377.695h-0.75ZM221.145 373.355h0.75V374.695h-0.75ZM221.145 370.355h0.75V371.695h-0.75ZM221.145 367.355h0.75V368.695h-0.75ZM221.145 364.355h0.75V365.695h-0.75ZM221.145 361.355h0.75V362.695h-0.75ZM221.145 358.355h0.75V359.695h-0.75ZM221.145 355.355h0.75V356.695h-0.75ZM221.145 352.355h0.75V353.695h-0.75ZM221.145 349.355h0.75V350.695h-0.75ZM221.145 346.355h0.75V347.695h-0.75ZM221.145 343.355h0.75V344.695h-0.75ZM221.145 340.355h0.75V341.695h-0.75ZM221.145 337.355h0.75V338.695h-0.75ZM221.145 334.355h0.75V335.695h-0.75ZM221.145 331.355h0.75V332.695h-0.75ZM221.145 328.355h0.75V329.695h-0.75ZM221.145 325.355h0.75V326.695h-0.75ZM221.145 322.355h0.75V323.695h-0.75ZM221.145 319.355h0.75V320.695h-0.75ZM221.145 316.355h0.75V317.695h-0.75ZM221.145 313.355h0.75V314.695h-0.75ZM221.145 310.355h0.75V311.695h-0.75ZM221.145 307.355h0.75V308.695h-0.75ZM221.145 304.355h0.75V305.695h-0.75ZM221.145 301.355h0.75V302.695h-0.75ZM221.145 298.355h0.75V299.695h-0.75ZM221.145 295.355h0.75V296.695h-0.75ZM221.145 292.355h0.75V293.695h-0.75ZM221.145 289.355h0.75V290.695h-0.75ZM221.145 286.355h0.75V287.695h-0.75ZM221.145 283.355h0.75V284.695h-0.75ZM221.145 280.355h0.75V281.695h-0.75ZM221.145 277.355h0.75V278.695h-0.75ZM221.145 274.355h0.75V275.695h-0.75ZM221.145 271.355h0.75V272.695h-0.75ZM221.145 268.355h0.75V269.695h-0.75ZM221.145 265.355h0.75V266.695h-0.75ZM221.145 262.355h0.75V263.695h-0.75ZM221.145 259.355h0.75V260.695h-0.75ZM221.145 256.355h0.75V257.695h-0.75ZM221.145 253.355h0.75V254.695h-0.75ZM221.145 250.355h0.75V251.695h-0.75ZM221.145 247.355h0.75V248.695h-0.75ZM221.145 244.355h0.75V245.695h-0.75ZM221.145 241.355h0.75V242.695h-0.75ZM221.145 238.355h0.75V239.695h-0.75ZM221.145 235.355h0.75V236.695h-0.75ZM221.145 232.355h0.75V233.695h-0.75ZM221.145 229.355h0.75V230.695h-0.75ZM221.145 226.355h0.75V227.695h-0.75ZM221.145 223.355h0.75V224.695h-0.75ZM221.145 220.355h0.75V221.695h-0.75ZM221.145 217.355h0.75V218.695h-0.75ZM221.145 214.355h0.75V215.695h-0.75ZM221.145 211.355h0.75V212.695h-0.75ZM221.145 208.355h0.75V209.695h-0.75ZM221.145 205.355h0.75V206.695h-0.75ZM221.145 202.355h0.75V203.695h-0.75ZM221.145 199.355h0.75V200.695h-0.75ZM221.145 196.355h0.75V197.695h-0.75ZM221.145 193.355h0.75V194.695h-0.75ZM221.145 190.355h0.75V191.695h-0.75ZM221.145 187.355h0.75V188.695h-0.75ZM221.145 184.355h0.75V185.695h-0.75ZM221.145 181.355h0.75V182.695h-0.75ZM221.145 178.355h0.75V179.695h-0.75ZM221.145 175.355h0.75V176.695h-0.75ZM221.145 172.355h0.75V173.695h-0.75ZM221.145 169.355h0.75V170.695h-0.75ZM221.145 166.355h0.75V167.695h-0.75ZM221.145 163.355h0.75V164.695h-0.75ZM221.145 160.355h0.75V161.695h-0.75ZM221.145 157.355h0.75V158.695h-0.75ZM221.145 154.355h0.75V155.695h-0.75ZM221.145 151.355h0.75V152.695h-0.75ZM221.145 148.355h0.75V149.695h-0.75ZM221.145 145.355h0.75V146.695h-0.75ZM221.145 142.355h0.75V143.695h-0.75ZM221.145 139.355h0.75V140.695h-0.75ZM221.145 136.355h0.75V137.695h-0.75ZM221.145 133.355h0.75V134.695h-0.75ZM221.145 130.355h0.75V131.695h-0.75ZM221.145 127.355h0.75V128.695h-0.75ZM221.145 124.355h0.75V125.695h-0.75ZM221.145 121.355h0.75V122.695h-0.75ZM221.145 118.355h0.75V119.695h-0.75ZM221.145 115.355h0.75V116.695h-0.75ZM221.145 112.355h0.75V113.695h-0.75ZM221.145 109.355h0.75V110.695h-0.75ZM221.145 106.355h0.75V107.695h-0.75ZM221.145 103.355h0.75V104.695h-0.75ZM221.145 100.355h0.75V101.695h-0.75ZM221.145 97.355h0.75V98.695h-0.75ZM221.145 94.355h0.75V95.695h-0.75ZM221.145 91.355h0.75V92.695h-0.75ZM221.145 88.355h0.75V89.695h-0.75ZM221.145 85.355h0.75V86.695h-0.75ZM221.145 82.355h0.75V83.695h-0.75ZM221.145 79.355h0.75V80.695h-0.75ZM221.145 76.355h0.75V77.695h-0.75ZM221.145 73.355h0.75V74.695h-0.75Z"/>
<path d="M260.912 535.355h0.75V536.695h-0.75ZM260.912 532.355h0.75V533.695h-0.75ZM260.912 529.355h0.75V530.695h-0.75ZM260.912 526.355h0.75V527.695h-0.75ZM260.912 523.355h0.75V524.695h-0.75ZM260.912 520.355h0.75V521.695h-0.75ZM260.912 517.355h0.75V518.695h-0.75ZM260.912 514.355h0.75V515.695h-0.75ZM260.912 511.355h0.75V512.695h-0.75ZM260.912 508.355h0.75V509.695h-0.75ZM260.912 505.355h0.75V506.695h-0.75ZM260.912 502.355h0.75V503.695h-0.75ZM260.912 499.355h0.75V500.695h-0.75ZM260.912 496.355h0.75V497.695h-0.75ZM260.912 493.355h0.75V494.695h-0.75ZM260.912 490.355h0.75V491.695h-0.75ZM260.912 487.355h0.75V488.695h-0.75ZM260.912 484.355h0.75V485.695h-0.75ZM260.912 481.355h0.75V482.695h-0.75ZM260.912 478.355h0.75V479.695h-0.75ZM260.912 475.355h0.75V476.695h-0.75ZM260.912 472.355h0.75V473.695h-0.75ZM260.912 469.355h0.75V470.695h-0.75ZM260.912 466.355h0.75V467.695h-0.75ZM260.912 463.355h0.75V464.695h-0.75ZM260.912 460.355h0.75V461.695h-0.75ZM260.912 457.355h0.75V458.695h-0.75ZM260.912 454.355h0.75V455.695h-0.75ZM260.912 451.355h0.75V452.695h-0.75ZM260.912 448.355h0.75V449.695h-0.75ZM260.912 445.355h0.75V446.695h-0.75ZM260.912 442.355h0.75V443.695h-0.75ZM260.912 439.355h0.75V440.695h-0.75ZM260.912 436.355h0.75V437.695h-0.75ZM260.912 433.355h0.75V434.695h-0.75ZM260.912 430.355h0.75V431.695h-0.75ZM260.912 427.355h0.75V428.695h-0.75ZM260.912 424.355h0.75V425.695h-0.75ZM260.912 421.355h0.75V422.695h-0.75ZM260.912 418.355h0.75V419.695h-0.75ZM260.912 415.355h0.75V416.695h-0.75ZM260.912 412.355h0.75V413.695h-0.75ZM260.912 409.355h0.75V410.695h-0.75ZM260.912 406.355h0.75V407.695h-0.75ZM260.912 403.355h0.75V404.695h-0.75ZM260.912 400.355h0.75V401.695h-0.75ZM260.912 397.355h0.75V398.695h-0.75ZM260.912 394.355h0.75V395.695h-0.75ZM260.912 391.355h0.75V392.695h-0.75ZM260.912 388.355h0.75V389.695h-0.75ZM260.912 385.355h0.75V386.695h-0.75ZM260.912 382.355h0.75V383.695h-0.75ZM260.912 379.355h0.75V380.695h-0.75ZM260.912 376.355h0.75V377.695h-0.75ZM260.912 373.355h0.75V374.695h-0.75ZM260.912 370.355h0.75V371.695h-0.75ZM260.912 367.355h0.75V368.695h-0.75ZM260.912 364.355h0.75V365.695h-0.75ZM260.912 361.355h0.75V362.695h-0.75ZM260.912 358.355h0.75V359.695h-0.75ZM260.912 355.355h0.75V356.695h-0.75ZM260.912 352.355h0.75V353.695h-0.75ZM260.912 349.355h0.75V350.695h-0.75ZM260.912 346.355h0.75V347.695h-0.75ZM260.912 343.355h0.75V344.695h-0.75ZM260.912 340.355h0.75V341.695h-0.75ZM260.912 337.355h0.75V338.695h-0.75ZM260.912 334.355h0.75V335.695h-0.75ZM260.912 331.355h0.75V332.695h-0.75ZM260.912 328.355h0.75V329.695h-0.75ZM260.912 325.355h0.75V326.695h-0.75ZM260.912 322.355h0.75V323.695h-0.75ZM260.912 319.355h0.75V320.695h-0.75ZM260.912 316.355h0.75V317.695h-0.75ZM260.912 313.355h0.75V314.695h-0.75ZM260.912 310.355h0.75V311.695h-0.75ZM260.912 307.355h0.75V308.695h-0.75ZM260.912 304.355h0.75V305.695h-0.75ZM260.912 301.355h0.75V302.695h-0.75ZM260.912 298.355h0.75V299.695h-0.75ZM260.912 295.355h0.75V296.695h-0.75ZM260.912 292.355h0.75V293.695h-0.75ZM260.912 289.355h0.75V290.695h-0.75ZM260.912 286.355h0.75V287.695h-0.75ZM260.912 283.355h0.75V284.695h-0.75ZM260.912 280.355h0.75V281.695h-0.75ZM260.912 277.355h0.75V278.695h-0.75ZM260.912 274.355h0.75V275.695h-0.75ZM260.912 271.355h0.75V272.695h-0.75ZM260.912 268.355h0.75V269.695h-0.75ZM260.912 265.355h0.75V266.695h-0.75ZM260.912 262.355h0.75V263.695h-0.75ZM260.912 259.355h0.75V260.695h-0.75ZM260.912 256.355h0.75V257.695h-0.75ZM260.912 253.355h0.75V254.695h-0.75ZM260.912 250.355h0.75V251.695h-0.75ZM260.912 247.355h0.75V248.695h-0.75ZM260.912 244.355h0.75V245.695h-0.75ZM260.912 241.355h0.75V242.695h-0.75ZM260.912 238.355h0.75V239.695h-0.75ZM260.912 235.355h0.75V236.695h-0.75ZM260.912 232.355h0.75V233.695h-0.75ZM260.912 229.355h0.75V230.695h-0.75ZM260.912 226.355h0.75V227.695h-0.75ZM260.912 223.355h0.75V224.695h-0.75ZM260.912 220.355h0.75V221.695h-0.75ZM260.912 217.355h0.75V218.695h-0.75ZM260.912 214.355h0.75V215.695h-0.75ZM260.912 211.355h0.75V212.695h-0.75ZM260.912 208.355h0.75V209.695h-0.75ZM260.912 205.355h0.75V206.695h-0.75ZM260.912 202.355h0.75V203.695h-0.75ZM260.912 199.355h0.75V200.695h-0.75ZM260.912 196.355h0.75V197.695h-0.75ZM260.912 193.355h0.75V194.695h-0.75ZM260.912 190.355h0.75V191.695h-0.75ZM260.912 187.355h0.75V188.695h-0.75ZM260.912 184.355h0.75V185.695h-0.75ZM260.912 181.355h0.75V182.695h-0.75ZM260.912 178.355h0.75V179.695h-0.75ZM260.912 175.355h0.75V176.695h-0.75ZM260.912 172.355h0.75V173.695h-0.75ZM260.912 169.355h0.75V170.695h-0.75ZM260.912 166.355h0.75V167.695h-0.75ZM260.912 163.355h0.75V164.695h-0.75ZM260.912 160.355h0.75V161.695h-0.75ZM260.912 157.355h0.75V158.695h-0.75ZM260.912 154.355h0.75V155.695h-0.75ZM260.912 151.355h0.75V152.695h-0.75ZM260.912 148.355h0.75V149.695h-0.75ZM260.912 145.355h0.75V146.695h-0.75ZM260.912 142.355h0.75V143.695h-0.75ZM260.912 139.355h0.75V140.695h-0.75ZM260.912 136.355h0.75V137.695h-0.75ZM260.912 133.355h0.75V134.695h-0.75ZM260.912 130.355h0.75V131.695h-0.75ZM260.912 127.355h0.75V128.695h-0.75ZM260.912 124.355h0.75V125.695h-0.75ZM260.912 121.355h0.75V122.695h-0.75ZM260.912 118.355h0.75V119.695h-0.75ZM260.912 115.355h0.75V116.695h-0.75ZM260.912 112.355h0.75V113.695h-0.75ZM260.912 109.355h0.75V110.695h-0.75ZM260.912 106.355h0.75V107.695h-0.75ZM260.912 103.355h0.75V104.695h-0.75ZM260.912 100.355h0.75V101.695h-0.75ZM260.912 97.355h0.75V98.695h-0.75ZM260.912 94.355h0.75V95.695h-0.75ZM260.912 91.355h0.75V92.695h-0.75ZM260.912 88.355h0.75V89.695h-0.75ZM260.912 85.355h0.75V86.695h-0.75ZM260.912 82.355h0.75V83.695h-0.75ZM260.912 79.355h0.75V80.695h-0.75ZM260.912 76.355h0.75V77.695h-0.75ZM260.912 73.355h0.75V74.695h-0.75Z"/>
<path d="M300.678 535.355h0.75V536.695h-0.75ZM300.678 532.355h0.75V533.695h-0.75ZM300.678 529.355h0.75V530.695h-0.75ZM300.678 526.355h0.75V527.695h-0.75ZM300.678 523.355h0.75V524.695h-0.75ZM300.678 520.355h0.75V521.695h-0.75ZM300.678 517.355h0.75V518.695h-0.75ZM300.678 514.355h0.75V515.695h-0.75ZM300.678 511.355h0.75V512.695h-0.75ZM300.678 508.355h0.75V509.695h-0.75ZM300.678 505.355h0.75V506.695h-0.75ZM300.678 502.355h0.75V503.695h-0.75ZM300.678 499.355h0.75V500.695h-0.75ZM300.678 496.355h0.75V497.695h-0.75ZM300.678 493.355h0.75V494.695h-0.75ZM300.678 490.355h0.75V491.695h-0.75ZM300.678 487.355h0.75V488.695h-0.75ZM300.678 484.355h0.75V485.695h-0.75ZM300.678 481.355h0.75V482.695h-0.75ZM300.678 478.355h0.75V479.695h-0.75ZM300.678 475.355h0.75V476.695h-0.75ZM300.678 472.355h0.75V473.695h-0.75ZM300.678 469.355h0.75V470.695h-0.75ZM300.678 466.355h0.75V467.695h-0.75ZM300.678 463.355h0.75V464.695h-0.75ZM300.678 460.355h0.75V461.695h-0.75ZM300.678 457.355h0.75V458.695h-0.75ZM300.678 454.355h0.75V455.695h-0.75ZM300.678 451.355h0.75V452.695h-0.75ZM300.678 448.355h0.75V449.695h-0.75ZM300.678 445.355h0.75V446.695h-0.75ZM300.678 442.355h0.75V443.695h-0.75ZM300.678 439.355h0.75V440.695h-0.75ZM300.678 436.355h0.75V437.695h-0.75ZM300.678 433.355h0.75V434.695h-0.75ZM300.678 430.355h0.75V431.695h-0.75ZM300.678 427.355h0.75V428.695h-0.75ZM300.678 424.355h0.75V425.695h-0.75ZM300.678 421.355h0.75V422.695h-0.75ZM300.678 418.355h0.75V419.695h-0.75ZM300.678 415.355h0.75V416.695h-0.75ZM300.678 412.355h0.75V413.695h-0.75ZM300.678 409.355h0.75V410.695h-0.75ZM300.678 406.355h0.75V407.695h-0.75ZM300.678 403.355h0.75V404.695h-0.75ZM300.678 400.355h0.75V401.695h-0.75ZM300.678 397.355h0.75V398.695h-0.75ZM300.678 394.355h0.75V395.695h-0.75ZM300.678 391.355h0.75V392.695h-0.75ZM300.678 388.355h0.75V389.695h-0.75ZM300.678 385.355h0.75V386.695h-0.75ZM300.678 382.355h0.75V383.695h-0.75ZM300.678 379.355h0.75V380.695h-0.75ZM300.678 376.355h0.75V377.695h-0.75ZM300.678 373.355h0.75V374.695h-0.75ZM300.678 370.355h0.75V371.695h-0.75ZM300.678 367.355h0.75V368.695h-0.75ZM300.678 364.355h0.75V365.695h-0.75ZM300.678 361.355h0.75V362.695h-0.75ZM300.678 358.355h0.75V359.695h-0.75ZM300.678 355.355h0.75V356.695h-0.75ZM300.678 352.355h0.75V353.695h-0.75ZM300.678 349.355h0.75V350.695h-0.75ZM300.678 346.355h0.75V347.695h-0.75ZM300.678 343.355h0.75V344.695h-0.75ZM300.678 340.355h0.75V341.695h-0.75ZM300.678 337.355h0.75V338.695h-0.75ZM300.678 334.355h0.75V335.695h-0.75ZM300.678 331.355h0.75V332.695h-0.75ZM300.678 328.355h0.75V329.695h-0.75ZM300.678 325.355h0.75V326.695h-0.75ZM300.678 322.355h0.75V323.695h-0.75ZM300.678 319.355h0.75V320.695h-0.75ZM300.678 316.355h0.75V317.695h-0.75ZM300.678 313.355h0.75V314.695h-0.75ZM300.678 310.355h0.75V311.695h-0.75ZM300.678 307.355h0.75V308.695h-0.75ZM300.678 304.355h0.75V305.695h-0.75ZM300.678 301.355h0.75V302.695h-0.75ZM300.678 298.355h0.75V299.695h-0.75ZM300.678 295.355h0.75V296.695h-0.75ZM300.678 292.355h0.75V293.695h-0.75ZM300.678 289.355h0.75V290.695h-0.75ZM300.678 286.355h0.75V287.695h-0.75ZM300.678 283.355h0.75V284.695h-0.75ZM300.678 280.355h0.75V281.695h-0.75ZM300.678 277.355h0.75V278.695h-0.75ZM300.678 274.355h0.75V275.695h-0.75ZM300.678 271.355h0.75V272.695h-0.75ZM300.678 268.355h0.75V269.695h-0.75ZM300.678 265.355h0.75V266.695h-0.75ZM300.678 262.355h0.75V263.695h-0.75ZM300.678 259.355h0.75V260.695h-0.75ZM300.678 256.355h0.75V257.695h-0.75ZM300.678 253.355h0.75V254.695h-0.75ZM300.678 250.355h0.75V251.695h-0.75ZM300.678 247.355h0.75V248.695h-0.75ZM300.678 244.355h0.75V245.695h-0.75ZM300.678 241.355h0.75V242.695h-0.75ZM300.678 238.355h0.75V239.695h-0.75ZM300.678 235.355h0.75V236.695h-0.75ZM300.678 232.355h0.75V233.695h-0.75ZM300.678 229.355h0.75V230.695h-0.75ZM300.678 226.355h0.75V227.695h-0.75ZM300.678 223.355h0.75V224.695h-0.75ZM300.678 220.355h0.75V221.695h-0.75ZM300.678 217.355h0.75V218.695h-0.75ZM300.678 214.355h0.75V215.695h-0.75ZM300.678 211.355h0.75V212.695h-0.75ZM300.678 208.355h0.75V209.695h-0.75ZM300.678 205.355h0.75V206.695h-0.75ZM300.678 202.355h0.75V203.695h-0.75ZM300.678 199.355h0.75V200.695h-0.75ZM300.678 196.355h0.75V197.695h-0.75ZM300.678 193.355h0.75V194.695h-0.75ZM300.678 190.355h0.75V191.695h-0.75ZM300.678 187.355h0.75V188.695h-0.75ZM300.678 184.355h0.75V185.695h-0.75ZM300.678 181.355h0.75V182.695h-0.75ZM300.678 178.355h0.75V179.695h-0.75ZM300.678 175.355h0.75V176.695h-0.75ZM300.678 172.355h0.75V173.695h-0.75ZM300.678 169.355h0.75V170.695h-0.75ZM300.678 166.355h0.75V167.695h-0.75ZM300.678 163.355h0.75V164.695h-0.75ZM300.678 160.355h0.75V161.695h-0.75ZM300.678 157.355h0.75V158.695h-0.75ZM300.678 154.355h0.75V155.695h-0.75ZM300.678 151.355h0.75V152.695h-0.75ZM300.678 148.355h0.75V149.695h-0.75ZM300.678 145.355h0.75V146.695h-0.75ZM300.678 142.355h0.75V143.695h-0.75ZM300.678 139.355h0.75V140.695h-0.75ZM300.678 136.355h0.75V137.695h-0.75ZM300.678 133.355h0.75V134.695h-0.75ZM300.678 130.355h0.75V131.695h-0.75ZM300.678 127.355h0.75V128.695h-0.75ZM300.678 124.355h0.75V125.695h-0.75ZM300.678 121.355h0.75V122.695h-0.75ZM300.678 118.355h0.75V119.695h-0.75ZM300.678 115.355h0.75V116.695h-0.75ZM300.678 112.355h0.75V113.695h-0.75ZM300.678 109.355h0.75V110.695h-0.75ZM300.678 106.355h0.75V107.695h-0.75ZM300.678 103.355h0.75V104.695h-0.75ZM300.678 100.355h0.75V101.695h-0.75ZM300.678 97.355h0.75V98.695h-0.75ZM300.678 94.355h0.75V95.695h-0.75ZM300.678 91.355h0.75V92.695h-0.75ZM300.678 88.355h0.75V89.695h-0.75ZM300.678 85.355h0.75V86.695h-0.75ZM300.678 82.355h0.75V83.695h-0.75ZM300.678 79.355h0.75V80.695h-0.75ZM300.678 76.355h0.75V77.695h-0.75ZM300.678 73.355h0.75V74.695h-0.75Z"/>
<path d="M340.444 535.355h0.75V536.695h-0.75ZM340.444 532.355h0.75V533.695h-0.75ZM340.444 529.355h0.75V530.695h-0.75ZM340.444 526.355h0.75V527.695h-0.75ZM340.444 523.355h0.75V524.695h-0.75ZM340.444 520.355h0.75V521.695h-0.75ZM340.444 517.355h0.75V518.695h-0.75ZM340.444 514.355h0.75V515.695h-0.75ZM340.444 511.355h0.75V512.695h-0.75ZM340.444 508.355h0.75V509.695h-0.75ZM340.444 505.355h0.75V506.695h-0.75ZM340.444 502.355h0.75V503.695h-0.75ZM340.444 499.355h0.75V500.695h-0.75ZM340.444 496.355h0.75V497.695h-0.75ZM340.444 493.355h0.75V494.695h-0.75ZM340.444 490.355h0.75V491.695h-0.75ZM340.444 487.355h0.75V488.695h-0.75ZM340.444 484.355h0.75V485.695h-0.75ZM340.444 481.355h0.75V482.695h-0.75ZM340.444 478.355h0.75V479.695h-0.75ZM340.444 475.355h0.75V476.695h-0.75ZM340.444 472.355h0.75V473.695h-0.75ZM340.444 469.355h0.75V470.695h-0.75ZM340.444 466.355h0.75V467.695h-0.75ZM340.444 463.355h0.75V464.695h-0.75ZM340.444 460.355h0.75V461.695h-0.75ZM340.444 457.355h0.75V458.695h-0.75ZM340.444 454.355h0.75V455.695h-0.75ZM340.444 451.355h0.75V452.695h-0.75ZM340.444 448.355h0.75V449.695h-0.75ZM340.444 445.355h0.75V446.695h-0.75ZM340.444 442.355h0.75V443.695h-0.75ZM340.444 439.355h0.75V440.695h-0.75ZM340.444 436.355h0.75V437.695h-0.75ZM340.444 433.355h0.75V434.695h-0.75ZM340.444 430.355h0.75V431.695h-0.75ZM340.444 427.355h0.75V428.695h-0.75ZM340.444 424.355h0.75V425.695h-0.75ZM340.444 421.355h0.75V422.695h-0.75ZM340.444 418.355h0.75V419.695h-0.75ZM340.444 415.355h0.75V416.695h-0.75ZM340.444 412.355h0.75V413.695h-0.75ZM340.444 409.355h0.75V410.695h-0.75ZM340.444 406.355h0.75V407.695h-0.75ZM340.444 403.355h0.75V404.695h-0.75ZM340.444 400.355h0.75V401.695h-0.75ZM340.444 397.355h0.75V398.695h-0.75ZM340.444 394.355h0.75V395.695h-0.75ZM340.444 391.355h0.75V392.695h-0.75ZM340.444 388.355h0.75V389.695h-0.75ZM340.444 385.355h0.75V386.695h-0.75ZM340.444 382.355h0.75V383.695h-0.75ZM340.444 379.355h0.75V380.695h-0.75ZM340.444 376.355h0.75V377.695h-0.75ZM340.444 373.355h0.75V374.695h-0.75ZM340.444 370.355h0.75V371.695h-0.75ZM340.444 367.355h0.75V368.695h-0.75ZM340.444 364.355h0.75V365.695h-0.75ZM340.444 361.355h0.75V362.695h-0.75ZM340.444 358.355h0.75V359.695h-0.75ZM340.444 355.355h0.75V356.695h-0.75ZM340.444 352.355h0.75V353.695h-0.75ZM340.444 349.355h0.75V350.695h-0.75ZM340.444 346.355h0.75V347.695h-0.75ZM340.444 343.355h0.75V344.695h-0.75ZM340.444 340.355h0.75V341.695h-0.75ZM340.444 337.355h0.75V338.695h-0.75ZM340.444 334.355h0.75V335.695h-0.75ZM340.444 331.355h0.75V332.695h-0.75ZM340.444 328.355h0.75V329.695h-0.75ZM340.444 325.355h0.75V326.695h-0.75ZM340.444 322.355h0.75V323.695h-0.75ZM340.444 319.355h0.75V320.695h-0.75ZM340.444 316.355h0.75V317.695h-0.75ZM340.444 313.355h0.75V314.695h-0.75ZM340.444 310.355h0.75V311.695h-0.75ZM340.444 307.355h0.75V308.695h-0.75ZM340.444 304.355h0.75V305.695h-0.75ZM340.444 301.355h0.75V302.695h-0.75ZM340.444 298.355h0.75V299.695h-0.75ZM340.444 295.355h0.75V296.695h-0.75ZM340.444 292.355h0.75V293.695h-0.75ZM340.444 289.355h0.75V290.695h-0.75ZM340.444 286.355h0.75V287.695h-0.75ZM340.444 283.355h0.75V284.695h-0.75ZM340.444 280.355h0.75V281.695h-0.75ZM340.444 277.355h0.75V278.695h-0.75ZM340.444 274.355h0.75V275.695h-0.75ZM340.444 271.355h0.75V272.695h-0.75ZM340.444 268.355h0.75V269.695h-0.75ZM340.444 265.355h0.75V266.695h-0.75ZM340.444 262.355h0.75V263.695h-0.75ZM340.444 259.355h0.75V260.695h-0.75ZM340.444 256.355h0.75V257.695h-0.75ZM340.444 253.355h0.75V254.695h-0.75ZM340.444 250.355h0.75V251.695h-0.75ZM340.444 247.355h0.75V248.695h-0.75ZM340.444 244.355h0.75V245.695h-0.75ZM340.444 241.355h0.75V242.695h-0.75ZM340.444 238.355h0.75V239.695h-0.75ZM340.444 235.355h0.75V236.695h-0.75ZM340.444 232.355h0.75V233.695h-0.75ZM340.444 229.355h0.75V230.695h-0.75ZM340.444 226.355h0.75V227.695h-0.75ZM340.444 223.355h0.75V224.695h-0.75ZM340.444 220.355h0.75V221.695h-0.75ZM340.444 217.355h0.75V218.695h-0.75ZM340.444 214.355h0.75V215.695h-0.75ZM340.444 211.355h0.75V212.695h-0.75ZM340.444 208.355h0.75V209.695h-0.75ZM340.444 205.355h0.75V206.695h-0.75ZM340.444 202.355h0.75V203.695h-0.75ZM340.444 199.355h0.75V200.695h-0.75ZM340.444 196.355h0.75V197.695h-0.75ZM340.444 193.355h0.75V194.695h-0.75ZM340.444 190.355h0.75V191.695h-0.75ZM340.444 187.355h0.75V188.695h-0.75ZM340.444 184.355h0.75V185.695h-0.75ZM340.444 181.355h0.75V182.695h-0.75ZM340.444 178.355h0.75V179.695h-0.75ZM340.444 175.355h0.75V176.695h-0.75ZM340.444 172.355h0.75V173.695h-0.75ZM340.444 169.355h0.75V170.695h-0.75ZM340.444 166.355h0.75V167.695h-0.75ZM340.444 163.355h0.75V164.695h-0.75ZM340.444 160.355h0.75V161.695h-0.75ZM340.444 157.355h0.75V158.695h-0.75ZM340.444 154.355h0.75V155.695h-0.75ZM340.444 151.355h0.75V152.695h-0.75ZM340.444 148.355h0.75V149.695h-0.75ZM340.444 145.355h0.75V146.695h-0.75ZM340.444 142.355h0.75V143.695h-0.75ZM340.444 139.355h0.75V140.695h-0.75ZM340.444 136.355h0.75V137.695h-0.75ZM340.444 133.355h0.75V134.695h-0.75ZM340.444 130.355h0.75V131.695h-0.75ZM340.444 127.355h0.75V128.695h-0.75ZM340.444 124.355h0.75V125.695h-0.75ZM340.444 121.355h0.75V122.695h-0.75ZM340.444 118.355h0.75V119.695h-0.75ZM340.444 115.355h0.75V116.695h-0.75ZM340.444 112.355h0.75V113.695h-0.75ZM340.444 109.355h0.75V110.695h-0.75ZM340.444 106.355h0.75V107.695h-0.75ZM340.444 103.355h0.75V104.695h-0.75ZM340.444 100.355h0.75V101.695h-0.75ZM340.444 97.355h0.75V98.695h-0.75ZM340.444 94.355h0.75V95.695h-0.75ZM340.444 91.355h0.75V92.695h-0.75ZM340.444 88.355h0.75V89.695h-0.75ZM340.444 85.355h0.75V86.695h-0.75ZM340.444 82.355h0.75V83.695h-0.75ZM340.444 79.355h0.75V80.695h-0.75ZM340.444 76.355h0.75V77.695h-0.75ZM340.444 73.355h0.75V74.695h-0.75Z"/>
<path d="M380.21 535.355h0.75V536.695h-0.75ZM380.21 532.355h0.75V533.695h-0.75ZM380.21 529.355h0.75V530.695h-0.75ZM380.21 526.355h0.75V527.695h-0.75ZM380.21 523.355h0.75V524.695h-0.75ZM380.21 520.355h0.75V521.695h-0.75ZM380.21 517.355h0.75V518.695h-0.75ZM380.21 514.355h0.75V515.695h-0.75ZM380.21 511.355h0.75V512.695h-0.75ZM380.21 508.355h0.75V509.695h-0.75ZM380.21 505.355h0.75V506.695h-0.75ZM380.21 502.355h0.75V503.695h-0.75ZM380.21 499.355h0.75V500.695h-0.75ZM380.21 496.355h0.75V497.695h-0.75ZM380.21 493.355h0.75V494.695h-0.75ZM380.21 490.355h0.75V491.695h-0.75ZM380.21 487.355h0.75V488.695h-0.75ZM380.21 484.355h0.75V485.695h-0.75ZM380.21 481.355h0.75V482.695h-0.75ZM380.21 478.355h0.75V479.695h-0.75ZM380.21 475.355h0.75V476.695h-0.75ZM380.21 472.355h0.75V473.695h-0.75ZM380.21 469.355h0.75V470.695h-0.75ZM380.21 466.355h0.75V467.695h-0.75ZM380.21 463.355h0.75V464.695h-0.75ZM380.21 460.355h0.75V461.695h-0.75ZM380.21 457.355h0.75V458.695h-0.75ZM380.21 454.355h0.75V455.695h-0.75ZM380.21 451.355h0.75V452.695h-0.75ZM380.21 448.355h0.75V449.695h-0.75ZM380.21 445.355h0.75V446.695h-0.75ZM380.21 442.355h0.75V443.695h-0.75ZM380.21 439.355h0.75V440.695h-0.75ZM380.21 436.355h0.75V437.695h-0.75ZM380.21 433.355h0.75V434.695h-0.75ZM380.21 430.355h0.75V431.695h-0.75ZM380.21 427.355h0.75V428.695h-0.75ZM380.21 424.355h0.75V425.695h-0.75ZM380.21 421.355h0.75V422.695h-0.75ZM380.21 418.355h0.75V419.695h-0.75ZM380.21 415.355h0.75V416.695h-0.75ZM380.21 412.355h0.75V413.695h-0.75ZM380.21 409.355h0.75V410.695h-0.75ZM380.21 406.355h0.75V407.695h-0.75ZM380.21 403.355h0.75V404.695h-0.75ZM380.21 400.355h0.75V401.695h-0.75ZM380.21 397.355h0.75V398.695h-0.75ZM380.21 394.355h0.75V395.695h-0.75ZM380.21 391.355h0.75V392.695h-0.75ZM380.21 388.355h0.75V389.695h-0.75ZM380.21 385.355h0.75V386.695h-0.75ZM380.21 382.355h0.75V383.695h-0.75ZM380.21 379.355h0.75V380.695h-0.75ZM380.21 376.355h0.75V377.695h-0.75ZM380.21 373.355h0.75V374.695h-0.75ZM380.21 370.355h0.75V371.695h-0.75ZM380.21 367.355h0.75V368.695h-0.75ZM380.21 364.355h0.75V365.695h-0.75ZM380.21 361.355h0.75V362.695h-0.75ZM380.21 358.355h0.75V359.695h-0.75ZM380.21 355.355h0.75V356.695h-0.75ZM380.21 352.355h0.75V353.695h-0.75ZM380.21 349.355h0.75V350.695h-0.75ZM380.21 346.355h0.75V347.695h-0.75ZM380.21 343.355h0.75V344.695h-0.75ZM380.21 340.355h0.75V341.695h-0.75ZM380.21 337.355h0.75V338.695h-0.75ZM380.21 334.355h0.75V335.695h-0.75ZM380.21 331.355h0.75V332.695h-0.75ZM380.21 328.355h0.75V329.695h-0.75ZM380.21 325.355h0.75V326.695h-0.75ZM380.21 322.355h0.75V323.695h-0.75ZM380.21 319.355h0.75V320.695h-0.75ZM380.21 316.355h0.75V317.695h-0.75ZM380.21 313.355h0.75V314.695h-0.75ZM380.21 310.355h0.75V311.695h-0.75ZM380.21 307.355h0.75V308.695h-0.75ZM380.21 304.355h0.75V305.695h-0.75ZM380.21 301.355h0.75V302.695h-0.75ZM380.21 298.355h0.75V299.695h-0.75ZM380.21 295.355h0.75V296.695h-0.75ZM380.21 292.355h0.75V293.695h-0.75ZM380.21 289.355h0.75V290.695h-0.75ZM380.21 286.355h0.75V287.695h-0.75ZM380.21 283.355h0.75V284.695h-0.75ZM380.21 280.355h0.75V281.695h-0.75ZM380.21 277.355h0.75V278.695h-0.75ZM380.21 274.355h0.75V275.695h-0.75ZM380.21 271.355h0.75V272.695h-0.75ZM380.21 268.355h0.75V269.695h-0.75ZM380.21 265.355h0.75V266.695h-0.75ZM380.21 262.355h0.75V263.695h-0.75ZM380.21 259.355h0.75V260.695h-0.75ZM380.21 256.355h0.75V257.695h-0.75ZM380.21 253.355h0.75V254.695h-0.75ZM380.21 250.355h0.75V251.695h-0.75ZM380.21 247.355h0.75V248.695h-0.75ZM380.21 244.355h0.75V245.695h-0.75ZM380.21 241.355h0.75V242.695h-0.75ZM380.21 238.355h0.75V239.695h-0.75ZM380.21 235.355h0.75V236.695h-0.75ZM380.21 232.355h0.75V233.695h-0.75ZM380.21 229.355h0.75V230.695h-0.75ZM380.21 226.355h0.75V227.695h-0.75ZM380.21 223.355h0.75V224.695h-0.75ZM380.21 220.355h0.75V221.695h-0.75ZM380.21 217.355h0.75V218.695h-0.75ZM380.21 214.355h0.75V215.695h-0.75ZM380.21 211.355h0.75V212.695h-0.75ZM380.21 208.355h0.75V209.695h-0.75ZM380.21 205.355h0.75V206.695h-0.75ZM380.21 202.355h0.75V203.695h-0.75ZM380.21 199.355h0.75V200.695h-0.75ZM380.21 196.355h0.75V197.695h-0.75ZM380.21 193.355h0.75V194.695h-0.75ZM380.21 190.355h0.75V191.695h-0.75ZM380.21 187.355h0.75V188.695h-0.75ZM380.21 184.355h0.75V185.695h-0.75ZM380.21 181.355h0.75V182.695h-0.75ZM380.21 178.355h0.75V179.695h-0.75ZM380.21 175.355h0.75V176.695h-0.75ZM380.21 172.355h0.75V173.695h-0.75ZM380.21 169.355h0.75V170.695h-0.75ZM380.21 166.355h0.75V167.695h-0.75ZM380.21 163.355h0.75V164.695h-0.75ZM380.21 160.355h0.75V161.695h-0.75ZM380.21 157.355h0.75V158.695h-0.75ZM380.21 154.355h0.75V155.695h-0.75ZM380.21 151.355h0.75V152.695h-0.75ZM380.21 148.355h0.75V149.695h-0.75ZM380.21 145.355h0.75V146.695h-0.75ZM380.21 142.355h0.75V143.695h-0.75ZM380.21 139.355h0.75V140.695h-0.75ZM380.21 136.355h0.75V137.695h-0.75ZM380.21 133.355h0.75V134.695h-0.75ZM380.21 130.355h0.75V131.695h-0.75ZM380.21 127.355h0.75V128.695h-0.75ZM380.21 124.355h0.75V125.695h-0.75ZM380.21 121.355h0.75V122.695h-0.75ZM380.21 118.355h0.75V119.695h-0.75ZM380.21 115.355h0.75V116.695h-0.75ZM380.21 112.355h0.75V113.695h-0.75ZM380.21 109.355h0.75V110.695h-0.75ZM380.21 106.355h0.75V107.695h-0.75ZM380.21 103.355h0.75V104.695h-0.75ZM380.21 100.355h0.75V101.695h-0.75ZM380.21 97.355h0.75V98.695h-0.75ZM380.21 94.355h0.75V95.695h-0.75ZM380.21 91.355h0.75V92.695h-0.75ZM380.21 88.355h0.75V89.695h-0.75ZM380.21 85.355h0.75V86.695h-0.75ZM380.21 82.355h0.75V83.695h-0.75ZM380.21 79.355h0.75V80.695h-0.75ZM380.21 76.355h0.75V77.695h-0.75ZM380.21 73.355h0.75V74.695h-0.75Z"/>
<path d="M419.976 535.355h0.75V536.695h-0.75ZM419.976 532.355h0.75V533.695h-0.75ZM419.976 529.355h0.75V530.695h-0.75ZM419.976 526.355h0.75V527.695h-0.75ZM419.976 523.355h0.75V524.695h-0.75ZM419.976 520.355h0.75V521.695h-0.75ZM419.976 517.355h0.75V518.695h-0.75ZM419.976 514.355h0.75V515.695h-0.75ZM419.976 511.355h0.75V512.695h-0.75ZM419.976 508.355h0.75V509.695h-0.75ZM419.976 505.355h0.75V506.695h-0.75ZM419.976 502.355h0.75V503.695h-0.75ZM419.976 499.355h0.75V500.695h-0.75ZM419.976 496.355h0.75V497.695h-0.75ZM419.976 493.355h0.75V494.695h-0.75ZM419.976 490.355h0.75V491.695h-0.75ZM419.976 487.355h0.75V488.695h-0.75ZM419.976 484.355h0.75V485.695h-0.75ZM419.976 481.355h0.75V482.695h-0.75ZM419.976 478.355h0.75V479.695h-0.75ZM419.976 475.355h0.75V476.695h-0.75ZM419.976 472.355h0.75V473.695h-0.75ZM419.976 469.355h0.75V470.695h-0.75ZM419.976 466.355h0.75V467.695h-0.75ZM419.976 463.355h0.75V464.695h-0.75ZM419.976 460.355h0.75V461.695h-0.75ZM419.976 457.355h0.75V458.695h-0.75ZM419.976 454.355h0.75V455.695h-0.75ZM419.976 451.355h0.75V452.695h-0.75ZM419.976 448.355h0.75V449.695h-0.75ZM419.976 445.355h0.75V446.695h-0.75ZM419.976 442.355h0.75V443.695h-0.75ZM419.976 439.355h0.75V440.695h-0.75ZM419.976 436.355h0.75V437.695h-0.75ZM419.976 433.355h0.75V434.695h-0.75ZM419.976 430.355h0.75V431.695h-0.75ZM419.976 427.355h0.75V428.695h-0.75ZM419.976 424.355h0.75V425.695h-0.75ZM419.976 421.355h0.75V422.695h-0.75ZM419.976 418.355h0.75V419.695h-0.75ZM419.976 415.355h0.75V416.695h-0.75ZM419.976 412.355h0.75V413.695h-0.75ZM419.976 409.355h0.75V410.695h-0.75ZM419.976 406.355h0.75V407.695h-0.75ZM419.976 403.355h0.75V404.695h-0.75ZM419.976 400.355h0.75V401.695h-0.75ZM419.976 397.355h0.75V398.695h-0.75ZM419.976 394.355h0.75V395.695h-0.75ZM419.976 391.355h0.75V392.695h-0.75ZM419.976 388.355h0.75V389.695h-0.75ZM419.976 385.355h0.75V386.695h-0.75ZM419.976 382.355h0.75V383.695h-0.75ZM419.976 379.355h0.75V380.695h-0.75ZM419.976 376.355h0.75V377.695h-0.75ZM419.976 373.355h0.75V374.695h-0.75ZM419.976 370.355h0.75V371.695h-0.75ZM419.976 367.355h0.75V368.695h-0.75ZM419.976 364.355h0.75V365.695h-0.75ZM419.976 361.355h0.75V362.695h-0.75ZM419.976 358.355h0.75V359.695h-0.75ZM419.976 355.355h0.75V356.695h-0.75ZM419.976 352.355h0.75V353.695h-0.75ZM419.976 349.355h0.75V350.695h-0.75ZM419.976 346.355h0.75V347.695h-0.75ZM419.976 343.355h0.75V344.695h-0.75ZM419.976 340.355h0.75V341.695h-0.75ZM419.976 337.355h0.75V338.695h-0.75ZM419.976 334.355h0.75V335.695h-0.75ZM419.976 331.355h0.75V332.695h-0.75ZM419.976 328.355h0.75V329.695h-0.75ZM419.976 325.355h0.75V326.695h-0.75ZM419.976 322.355h0.75V323.695h-0.75ZM419.976 319.355h0.75V320.695h-0.75ZM419.976 316.355h0.75V317.695h-0.75ZM419.976 313.355h0.75V314.695h-0.75ZM419.976 310.355h0.75V311.695h-0.75ZM419.976 307.355h0.75V308.695h-0.75ZM419.976 304.355h0.75V305.695h-0.75ZM419.976 301.355h0.75V302.695h-0.75ZM419.976 298.355h0.75V299.695h-0.75ZM419.976 295.355h0.75V296.695h-0.75ZM419.976 292.355h0.75V293.695h-0.75ZM419.976 289.355h0.75V290.695h-0.75ZM419.976 286.355h0.75V287.695h-0.75ZM419.976 283.355h0.75V284.695h-0.75ZM419.976 280.355h0.75V281.695h-0.75ZM419.976 277.355h0.75V278.695h-0.75ZM419.976 274.355h0.75V275.695h-0.75ZM419.976 271.355h0.75V272.695h-0.75ZM419.976 268.355h0.75V269.695h-0.75ZM419.976 265.355h0.75V266.695h-0.75ZM419.976 262.355h0.75V263.695h-0.75ZM419.976 259.355h0.75V260.695h-0.75ZM419.976 256.355h0.75V257.695h-0.75ZM419.976 253.355h0.75V254.695h-0.75ZM419.976 250.355h0.75V251.695h-0.75ZM419.976 247.355h0.75V248.695h-0.75ZM419.976 244.355h0.75V245.695h-0.75ZM419.976 241.355h0.75V242.695h-0.75ZM419.976 238.355h0.75V239.695h-0.75ZM419.976 235.355h0.75V236.695h-0.75ZM419.976 232.355h0.75V233.695h-0.75ZM419.976 229.355h0.75V230.695h-0.75ZM419.976 226.355h0.75V227.695h-0.75ZM419.976 223.355h0.75V224.695h-0.75ZM419.976 220.355h0.75V221.695h-0.75ZM419.976 217.355h0.75V218.695h-0.75ZM419.976 214.355h0.75V215.695h-0.75ZM419.976 211.355h0.75V212.695h-0.75ZM419.976 208.355h0.75V209.695h-0.75ZM419.976 205.355h0.75V206.695h-0.75ZM419.976 202.355h0.75V203.695h-0.75ZM419.976 199.355h0.75V200.695h-0.75ZM419.976 196.355h0.75V197.695h-0.75ZM419.976 193.355h0.75V194.695h-0.75ZM419.976 190.355h0.75V191.695h-0.75ZM419.976 187.355h0.75V188.695h-0.75ZM419.976 184.355h0.75V185.695h-0.75ZM419.976 181.355h0.75V182.695h-0.75ZM419.976 178.355h0.75V179.695h-0.75ZM419.976 175.355h0.75V176.695h-0.75ZM419.976 172.355h0.75V173.695h-0.75ZM419.976 169.355h0.75V170.695h-0.75ZM419.976 166.355h0.75V167.695h-0.75ZM419.976 163.355h0.75V164.695h-0.75ZM419.976 160.355h0.75V161.695h-0.75ZM419.976 157.355h0.75V158.695h-0.75ZM419.976 154.355h0.75V155.695h-0.75ZM419.976 151.355h0.75V152.695h-0.75ZM419.976 148.355h0.75V149.695h-0.75ZM419.976 145.355h0.75V146.695h-0.75ZM419.976 142.355h0.75V143.695h-0.75ZM419.976 139.355h0.75V140.695h-0.75ZM419.976 136.355h0.75V137.695h-0.75ZM419.976 133.355h0.75V134.695h-0.75ZM419.976 130.355h0.75V131.695h-0.75ZM419.976 127.355h0.75V128.695h-0.75ZM419.976 124.355h0.75V125.695h-0.75ZM419.976 121.355h0.75V122.695h-0.75ZM419.976 118.355h0.75V119.695h-0.75ZM419.976 115.355h0.75V116.695h-0.75ZM419.976 112.355h0.75V113.695h-0.75ZM419.976 109.355h0.75V110.695h-0.75ZM419.976 106.355h0.75V107.695h-0.75ZM419.976 103.355h0.75V104.695h-0.75ZM419.976 100.355h0.75V101.695h-0.75ZM419.976 97.355h0.75V98.695h-0.75ZM419.976 94.355h0.75V95.695h-0.75ZM419.976 91.355h0.75V92.695h-0.75ZM419.976 88.355h0.75V89.695h-0.75ZM419.976 85.355h0.75V86.695h-0.75ZM419.976 82.355h0.75V83.695h-0.75ZM419.976 79.355h0.75V80.695h-0.75ZM419.976 76.355h0.75V77.695h-0.75ZM419.976 73.355h0.75V74.695h-0.75Z"/>
<path d="M459.742 535.355h0.75V536.695h-0.75ZM459.742 532.355h0.75V533.695h-0.75ZM459.742 529.355h0.75V530.695h-0.75ZM459.742 526.355h0.75V527.695h-0.75ZM459.742 523.355h0.75V524.695h-0.75ZM459.742 520.355h0.75V521.695h-0.75ZM459.742 517.355h0.75V518.695h-0.75ZM459.742 514.355h0.75V515.695h-0.75ZM459.742 511.355h0.75V512.695h-0.75ZM459.742 508.355h0.75V509.695h-0.75ZM459.742 505.355h0.75V506.695h-0.75ZM459.742 502.355h0.75V503.695h-0.75ZM459.742 499.355h0.75V500.695h-0.75ZM459.742 496.355h0.75V497.695h-0.75ZM459.742 493.355h0.75V494.695h-0.75ZM459.742 490.355h0.75V491.695h-0.75ZM459.742 487.355h0.75V488.695h-0.75ZM459.742 484.355h0.75V485.695h-0.75ZM459.742 481.355h0.75V482.695h-0.75ZM459.742 478.355h0.75V479.695h-0.75ZM459.742 475.355h0.75V476.695h-0.75ZM459.742 472.355h0.75V473.695h-0.75ZM459.742 469.355h0.75V470.695h-0.75ZM459.742 466.355h0.75V467.695h-0.75ZM459.742 463.355h0.75V464.695h-0.75ZM459.742 460.355h0.75V461.695h-0.75ZM459.742 457.355h0.75V458.695h-0.75ZM459.742 454.355h0.75V455.695h-0.75ZM459.742 451.355h0.75V452.695h-0.75ZM459.742 448.355h0.75V449.695h-0.75ZM459.742 445.355h0.75V446.695h-0.75ZM459.742 442.355h0.75V443.695h-0.75ZM459.742 439.355h0.75V440.695h-0.75ZM459.742 436.355h0.75V437.695h-0.75ZM459.742 433.355h0.75V434.695h-0.75ZM459.742 430.355h0.75V431.695h-0.75ZM459.742 427.355h0.75V428.695h-0.75ZM459.742 424.355h0.75V425.695h-0.75ZM459.742 421.355h0.75V422.695h-0.75ZM459.742 418.355h0.75V419.695h-0.75ZM459.742 415.355h0.75V416.695h-0.75ZM459.742 412.355h0.75V413.695h-0.75ZM459.742 409.355h0.75V410.695h-0.75ZM459.742 406.355h0.75V407.695h-0.75ZM459.742 403.355h0.75V404.695h-0.75ZM459.742 400.355h0.75V401.695h-0.75ZM459.742 397.355h0.75V398.695h-0.75ZM459.742 394.355h0.75V395.695h-0.75ZM459.742 391.355h0.75V392.695h-0.75ZM459.742 388.355h0.75V389.695h-0.75ZM459.742 385.355h0.75V386.695h-0.75ZM459.742 382.355h0.75V383.695h-0.75ZM459.742 379.355h0.75V380.695h-0.75ZM459.742 376.355h0.75V377.695h-0.75ZM459.742 373.355h0.75V374.695h-0.75ZM459.742 370.355h0.75V371.695h-0.75ZM459.742 367.355h0.75V368.695h-0.75ZM459.742 364.355h0.75V365.695h-0.75ZM459.742 361.355h0.75V362.695h-0.75ZM459.742 358.355h0.75V359.695h-0.75ZM459.742 355.355h0.75V356.695h-0.75ZM459.742 352.355h0.75V353.695h-0.75ZM459.742 349.355h0.75V350.695h-0.75ZM459.742 346.355h0.75V347.695h-0.75ZM459.742 343.355h0.75V344.695h-0.75ZM459.742 340.355h0.75V341.695h-0.75ZM459.742 337.355h0.75V338.695h-0.75ZM459.742 334.355h0.75V335.695h-0.75ZM459.742 331.355h0.75V332.695h-0.75ZM459.742 328.355h0.75V329.695h-0.75ZM459.742 325.355h0.75V326.695h-0.75ZM459.742 322.355h0.75V323.695h-0.75ZM459.742 319.355h0.75V320.695h-0.75ZM459.742 316.355h0.75V317.695h-0.75ZM459.742 313.355h0.75V314.695h-0.75ZM459.742 310.355h0.75V311.695h-0.75ZM459.742 307.355h0.75V308.695h-0.75ZM459.742 304.355h0.75V305.695h-0.75ZM459.742 301.355h0.75V302.695h-0.75ZM459.742 298.355h0.75V299.695h-0.75ZM459.742 295.355h0.75V296.695h-0.75ZM459.742 292.355h0.75V293.695h-0.75ZM459.742 289.355h0.75V290.695h-0.75ZM459.742 286.355h0.75V287.695h-0.75ZM459.742 283.355h0.75V284.695h-0.75ZM459.742 280.355h0.75V281.695h-0.75ZM459.742 277.355h0.75V278.695h-0.75ZM459.742 274.355h0.75V275.695h-0.75ZM459.742 271.355h0.75V272.695h-0.75ZM459.742 268.355h0.75V269.695h-0.75ZM459.742 265.355h0.75V266.695h-0.75ZM459.742 262.355h0.75V263.695h-0.75ZM459.742 259.355h0.75V260.695h-0.75ZM459.742 256.355h0.75V257.695h-0.75ZM459.742 253.355h0.75V254.695h-0.75ZM459.742 250.355h0.75V251.695h-0.75ZM459.742 247.355h0.75V248.695h-0.75ZM459.742 244.355h0.75V245.695h-0.75ZM459.742 241.355h0.75V242.695h-0.75ZM459.742 238.355h0.75V239.695h-0.75ZM459.742 235.355h0.75V236.695h-0.75ZM459.742 232.355h0.75V233.695h-0.75ZM459.742 229.355h0.75V230.695h-0.75ZM459.742 226.355h0.75V227.695h-0.75ZM459.742 223.355h0.75V224.695h-0.75ZM459.742 220.355h0.75V221.695h-0.75ZM459.742 217.355h0.75V218.695h-0.75ZM459.742 214.355h0.75V215.695h-0.75ZM459.742 211.355h0.75V212.695h-0.75ZM459.742 208.355h0.75V209.695h-0.75ZM459.742 205.355h0.75V206.695h-0.75ZM459.742 202.355h0.75V203.695h-0.75ZM459.742 199.355h0.75V200.695h-0.75ZM459.742 196.355h0.75V197.695h-0.75ZM459.742 193.355h0.75V194.695h-0.75ZM459.742 190.355h0.75V191.695h-0.75ZM459.742 187.355h0.75V188.695h-0.75ZM459.742 184.355h0.75V185.695h-0.75ZM459.742 181.355h0.75V182.695h-0.75ZM459.742 178.355h0.75V179.695h-0.75ZM459.742 175.355h0.75V176.695h-0.75ZM459.742 172.355h0.75V173.695h-0.75ZM459.742 169.355h0.75V170.695h-0.75ZM459.742 166.355h0.75V167.695h-0.75ZM459.742 163.355h0.75V164.695h-0.75ZM459.742 160.355h0.75V161.695h-0.75ZM459.742 157.355h0.75V158.695h-0.75ZM459.742 154.355h0.75V155.695h-0.75ZM459.742 151.355h0.75V152.695h-0.75ZM459.742 148.355h0.75V149.695h-0.75ZM459.742 145.355h0.75V146.695h-0.75ZM459.742 142.355h0.75V143.695h-0.75ZM459.742 139.355h0.75V140.695h-0.75ZM459.742 136.355h0.75V137.695h-0.75ZM459.742 133.355h0.75V134.695h-0.75ZM459.742 130.355h0.75V131.695h-0.75ZM459.742 127.355h0.75V128.695h-0.75ZM459.742 124.355h0.75V125.695h-0.75ZM459.742 121.355h0.75V122.695h-0.75ZM459.742 118.355h0.75V119.695h-0.75ZM459.742 115.355h0.75V116.695h-0.75ZM459.742 112.355h0.75V113.695h-0.75ZM459.742 109.355h0.75V110.695h-0.75ZM459.742 106.355h0.75V107.695h-0.75ZM459.742 103.355h0.75V104.695h-0.75ZM459.742 100.355h0.75V101.695h-0.75ZM459.742 97.355h0.75V98.695h-0.75ZM459.742 94.355h0.75V95.695h-0.75ZM459.742 91.355h0.75V92.695h-0.75ZM459.742 88.355h0.75V89.695h-0.75ZM459.742 85.355h0.75V86.695h-0.75ZM459.742 82.355h0.75V83.695h-0.75ZM459.742 79.355h0.75V80.695h-0.75ZM459.742 76.355h0.75V77.695h-0.75ZM459.742 73.355h0.75V74.695h-0.75Z"/>
<path d="M499.508 535.355h0.75V536.695h-0.75ZM499.508 532.355h0.75V533.695h-0.75ZM499.508 529.355h0.75V530.695h-0.75ZM499.508 526.355h0.75V527.695h-0.75ZM499.508 523.355h0.75V524.695h-0.75ZM499.508 520.355h0.75V521.695h-0.75ZM499.508 517.355h0.75V518.695h-0.75ZM499.508 514.355h0.75V515.695h-0.75ZM499.508 511.355h0.75V512.695h-0.75ZM499.508 508.355h0.75V509.695h-0.75ZM499.508 505.355h0.75V506.695h-0.75ZM499.508 502.355h0.75V503.695h-0.75ZM499.508 499.355h0.75V500.695h-0.75ZM499.508 496.355h0.75V497.695h-0.75ZM499.508 493.355h0.75V494.695h-0.75ZM499.508 490.355h0.75V491.695h-0.75ZM499.508 487.355h0.75V488.695h-0.75ZM499.508 484.355h0.75V485.695h-0.75ZM499.508 481.355h0.75V482.695h-0.75ZM499.508 478.355h0.75V479.695h-0.75ZM499.508 475.355h0.75V476.695h-0.75ZM499.508 472.355h0.75V473.695h-0.75ZM499.508 469.355h0.75V470.695h-0.75ZM499.508 466.355h0.75V467.695h-0.75ZM499.508 463.355h0.75V464.695h-0.75ZM499.508 460.355h0.75V461.695h-0.75ZM499.508 457.355h0.75V458.695h-0.75ZM499.508 454.355h0.75V455.695h-0.75ZM499.508 451.355h0.75V452.695h-0.75ZM499.508 448.355h0.75V449.695h-0.75ZM499.508 445.355h0.75V446.695h-0.75ZM499.508 442.355h0.75V443.695h-0.75ZM499.508 439.355h0.75V440.695h-0.75ZM499.508 436.355h0.75V437.695h-0.75ZM499.508 433.355h0.75V434.695h-0.75ZM499.508 430.355h0.75V431.695h-0.75ZM499.508 427.355h0.75V428.695h-0.75ZM499.508 424.355h0.75V425.695h-0.75ZM499.508 421.355h0.75V422.695h-0.75ZM499.508 418.355h0.75V419.695h-0.75ZM499.508 415.355h0.75V416.695h-0.75ZM499.508 412.355h0.75V413.695h-0.75ZM499.508 409.355h0.75V410.695h-0.75ZM499.508 406.355h0.75V407.695h-0.75ZM499.508 403.355h0.75V404.695h-0.75ZM499.508 400.355h0.75V401.695h-0.75ZM499.508 397.355h0.75V398.695h-0.75ZM499.508 394.355h0.75V395.695h-0.75ZM499.508 391.355h0.75V392.695h-0.75ZM499.508 388.355h0.75V389.695h-0.75ZM499.508 385.355h0.75V386.695h-0.75ZM499.508 382.355h0.75V383.695h-0.75ZM499.508 379.355h0.75V380.695h-0.75ZM499.508 376.355h0.75V377.695h-0.75ZM499.508 373.355h0.75V374.695h-0.75ZM499.508 370.355h0.75V371.695h-0.75ZM499.508 367.355h0.75V368.695h-0.75ZM499.508 364.355h0.75V365.695h-0.75ZM499.508 361.355h0.75V362.695h-0.75ZM499.508 358.355h0.75V359.695h-0.75ZM499.508 355.355h0.75V356.695h-0.75ZM499.508 352.355h0.75V353.695h-0.75ZM499.508 349.355h0.75V350.695h-0.75ZM499.508 346.355h0.75V347.695h-0.75ZM499.508 343.355h0.75V344.695h-0.75ZM499.508 340.355h0.75V341.695h-0.75ZM499.508 337.355h0.75V338.695h-0.75ZM499.508 334.355h0.75V335.695h-0.75ZM499.508 331.355h0.75V332.695h-0.75ZM499.508 328.355h0.75V329.695h-0.75ZM499.508 325.355h0.75V326.695h-0.75ZM499.508 322.355h0.75V323.695h-0.75ZM499.508 319.355h0.75V320.695h-0.75ZM499.508 316.355h0.75V317.695h-0.75ZM499.508 313.355h0.75V314.695h-0.75ZM499.508 310.355h0.75V311.695h-0.75ZM499.508 307.355h0.75V308.695h-0.75ZM499.508 304.355h0.75V305.695h-0.75ZM499.508 301.355h0.75V302.695h-0.75ZM499.508 298.355h0.75V299.695h-0.75ZM499.508 295.355h0.75V296.695h-0.75ZM499.508 292.355h0.75V293.695h-0.75ZM499.508 289.355h0.75V290.695h-0.75ZM499.508 286.355h0.75V287.695h-0.75ZM499.508 283.355h0.75V284.695h-0.75ZM499.508 280.355h0.75V281.695h-0.75ZM499.508 277.355h0.75V278.695h-0.75ZM499.508 274.355h0.75V275.695h-0.75ZM499.508 271.355h0.75V272.695h-0.75ZM499.508 268.355h0.75V269.695h-0.75ZM499.508 265.355h0.75V266.695h-0.75ZM499.508 262.355h0.75V263.695h-0.75ZM499.508 259.355h0.75V260.695h-0.75ZM499.508 256.355h0.75V257.695h-0.75ZM499.508 253.355h0.75V254.695h-0.75ZM499.508 250.355h0.75V251.695h-0.75ZM499.508 247.355h0.75V248.695h-0.75ZM499.508 244.355h0.75V245.695h-0.75ZM499.508 241.355h0.75V242.695h-0.75ZM499.508 238.355h0.75V239.695h-0.75ZM499.508 235.355h0.75V236.695h-0.75ZM499.508 232.355h0.75V233.695h-0.75ZM499.508 229.355h0.75V230.695h-0.75ZM499.508 226.355h0.75V227.695h-0.75ZM499.508 223.355h0.75V224.695h-0.75ZM499.508 220.355h0.75V221.695h-0.75ZM499.508 217.355h0.75V218.695h-0.75ZM499.508 214.355h0.75V215.695h-0.75ZM499.508 211.355h0.75V212.695h-0.75ZM499.508 208.355h0.75V209.695h-0.75ZM499.508 205.355h0.75V206.695h-0.75ZM499.508 202.355h0.75V203.695h-0.75ZM499.508 199.355h0.75V200.695h-0.75ZM499.508 196.355h0.75V197.695h-0.75ZM499.508 193.355h0.75V194.695h-0.75ZM499.508 190.355h0.75V191.695h-0.75ZM499.508 187.355h0.75V188.695h-0.75ZM499.508 184.355h0.75V185.695h-0.75ZM499.508 181.355h0.75V182.695h-0.75ZM499.508 178.355h0.75V179.695h-0.75ZM499.508 175.355h0.75V176.695h-0.75ZM499.508 172.355h0.75V173.695h-0.75ZM499.508 169.355h0.75V170.695h-0.75ZM499.508 166.355h0.75V167.695h-0.75ZM499.508 163.355h0.75V164.695h-0.75ZM499.508 160.355h0.75V161.695h-0.75ZM499.508 157.355h0.75V158.695h-0.75ZM499.508 154.355h0.75V155.695h-0.75ZM499.508 151.355h0.75V152.695h-0.75ZM499.508 148.355h0.75V149.695h-0.75ZM499.508 145.355h0.75V146.695h-0.75ZM499.508 142.355h0.75V143.695h-0.75ZM499.508 139.355h0.75V140.695h-0.75ZM499.508 136.355h0.75V137.695h-0.75ZM499.508 133.355h0.75V134.695h-0.75ZM499.508 130.355h0.75V131.695h-0.75ZM499.508 127.355h0.75V128.695h-0.75ZM499.508 124.355h0.75V125.695h-0.75ZM499.508 121.355h0.75V122.695h-0.75ZM499.508 118.355h0.75V119.695h-0.75ZM499.508 115.355h0.75V116.695h-0.75ZM499.508 112.355h0.75V113.695h-0.75ZM499.508 109.355h0.75V110.695h-0.75ZM499.508 106.355h0.75V107.695h-0.75ZM499.508 103.355h0.75V104.695h-0.75ZM499.508 100.355h0.75V101.695h-0.75ZM499.508 97.355h0.75V98.695h-0.75ZM499.508 94.355h0.75V95.695h-0.75ZM499.508 91.355h0.75V92.695h-0.75ZM499.508 88.355h0.75V89.695h-0.75ZM499.508 85.355h0.75V86.695h-0.75ZM499.508 82.355h0.75V83.695h-0.75ZM499.508 79.355h0.75V80.695h-0.75ZM499.508 76.355h0.75V77.695h-0.75ZM499.508 73.355h0.75V74.695h-0.75Z"/>
<path d="M539.274 535.355h0.75V536.695h-0.75ZM539.274 532.355h0.75V533.695h-0.75ZM539.274 529.355h0.75V530.695h-0.75ZM539.274 526.355h0.75V527.695h-0.75ZM539.274 523.355h0.75V524.695h-0.75ZM539.274 520.355h0.75V521.695h-0.75ZM539.274 517.355h0.75V518.695h-0.75ZM539.274 514.355h0.75V515.695h-0.75ZM539.274 511.355h0.75V512.695h-0.75ZM539.274 508.355h0.75V509.695h-0.75ZM539.274 505.355h0.75V506.695h-0.75ZM539.274 502.355h0.75V503.695h-0.75ZM539.274 499.355h0.75V500.695h-0.75ZM539.274 496.355h0.75V497.695h-0.75ZM539.274 493.355h0.75V494.695h-0.75ZM539.274 490.355h0.75V491.695h-0.75ZM539.274 487.355h0.75V488.695h-0.75ZM539.274 484.355h0.75V485.695h-0.75ZM539.274 481.355h0.75V482.695h-0.75ZM539.274 478.355h0.75V479.695h-0.75ZM539.274 475.355h0.75V476.695h-0.75ZM539.274 472.355h0.75V473.695h-0.75ZM539.274 469.355h0.75V470.695h-0.75ZM539.274 466.355h0.75V467.695h-0.75ZM539.274 463.355h0.75V464.695h-0.75ZM539.274 460.355h0.75V461.695h-0.75ZM539.274 457.355h0.75V458.695h-0.75ZM539.274 454.355h0.75V455.695h-0.75ZM539.274 451.355h0.75V452.695h-0.75ZM539.274 448.355h0.75V449.695h-0.75ZM539.274 445.355h0.75V446.695h-0.75ZM539.274 442.355h0.75V443.695h-0.75ZM539.274 439.355h0.75V440.695h-0.75ZM539.274 436.355h0.75V437.695h-0.75ZM539.274 433.355h0.75V434.695h-0.75ZM539.274 430.355h0.75V431.695h-0.75ZM539.274 427.355h0.75V428.695h-0.75ZM539.274 424.355h0.75V425.695h-0.75ZM539.274 421.355h0.75V422.695h-0.75ZM539.274 418.355h0.75V419.695h-0.75ZM539.274 415.355h0.75V416.695h-0.75ZM539.274 412.355h0.75V413.695h-0.75ZM539.274 409.355h0.75V410.695h-0.75ZM539.274 406.355h0.75V407.695h-0.75ZM539.274 403.355h0.75V404.695h-0.75ZM539.274 400.355h0.75V401.695h-0.75ZM539.274 397.355h0.75V398.695h-0.75ZM539.274 394.355h0.75V395.695h-0.75ZM539.274 391.355h0.75V392.695h-0.75ZM539.274 388.355h0.75V389.695h-0.75ZM539.274 385.355h0.75V386.695h-0.75ZM539.274 382.355h0.75V383.695h-0.75ZM539.274 379.355h0.75V380.695h-0.75ZM539.274 376.355h0.75V377.695h-0.75ZM539.274 373.355h0.75V374.695h-0.75ZM539.274 370.355h0.75V371.695h-0.75ZM539.274 367.355h0.75V368.695h-0.75ZM539.274 364.355h0.75V365.695h-0.75ZM539.274 361.355h0.75V362.695h-0.75ZM539.274 358.355h0.75V359.695h-0.75ZM539.274 355.355h0.75V356.695h-0.75ZM539.274 352.355h0.75V353.695h-0.75ZM539.274 349.355h0.75V350.695h-0.75ZM539.274 346.355h0.75V347.695h-0.75ZM539.274 343.355h0.75V344.695h-0.75ZM539.274 340.355h0.75V341.695h-0.75ZM539.274 337.355h0.75V338.695h-0.75ZM539.274 334.355h0.75V335.695h-0.75ZM539.274 331.355h0.75V332.695h-0.75ZM539.274 328.355h0.75V329.695h-0.75ZM539.274 325.355h0.75V326.695h-0.75ZM539.274 322.355h0.75V323.695h-0.75ZM539.274 319.355h0.75V320.695h-0.75ZM539.274 316.355h0.75V317.695h-0.75ZM539.274 313.355h0.75V314.695h-0.75ZM539.274 310.355h0.75V311.695h-0.75ZM539.274 307.355h0.75V308.695h-0.75ZM539.274 304.355h0.75V305.695h-0.75ZM539.274 301.355h0.75V302.695h-0.75ZM539.274 298.355h0.75V299.695h-0.75ZM539.274 295.355h0.75V296.695h-0.75ZM539.274 292.355h0.75V293.695h-0.75ZM539.274 289.355h0.75V290.695h-0.75ZM539.274 286.355h0.75V287.695h-0.75ZM539.274 283.355h0.75V284.695h-0.75ZM539.274 280.355h0.75V281.695h-0.75ZM539.274 277.355h0.75V278.695h-0.75ZM539.274 274.355h0.75V275.695h-0.75ZM539.274 271.355h0.75V272.695h-0.75ZM539.274 268.355h0.75V269.695h-0.75ZM539.274 265.355h0.75V266.695h-0.75ZM539.274 262.355h0.75V263.695h-0.75ZM539.274 259.355h0.75V260.695h-0.75ZM539.274 256.355h0.75V257.695h-0.75ZM539.274 253.355h0.75V254.695h-0.75ZM539.274 250.355h0.75V251.695h-0.75ZM539.274 247.355h0.75V248.695h-0.75ZM539.274 244.355h0.75V245.695h-0.75ZM539.274 241.355h0.75V242.695h-0.75ZM539.274 238.355h0.75V239.695h-0.75ZM539.274 235.355h0.75V236.695h-0.75ZM539.274 232.355h0.75V233.695h-0.75ZM539.274 229.355h0.75V230.695h-0.75ZM539.274 226.355h0.75V227.695h-0.75ZM539.274 223.355h0.75V224.695h-0.75ZM539.274 220.355h0.75V221.695h-0.75ZM539.274 217.355h0.75V218.695h-0.75ZM539.274 214.355h0.75V215.695h-0.75ZM539.274 211.355h0.75V212.695h-0.75ZM539.274 208.355h0.75V209.695h-0.75ZM539.274 205.355h0.75V206.695h-0.75ZM539.274 202.355h0.75V203.695h-0.75ZM539.274 199.355h0.75V200.695h-0.75ZM539.274 196.355h0.75V197.695h-0.75ZM539.274 193.355h0.75V194.695h-0.75ZM539.274 190.355h0.75V191.695h-0.75ZM539.274 187.355h0.75V188.695h-0.75ZM539.274 184.355h0.75V185.695h-0.75ZM539.274 181.355h0.75V182.695h-0.75ZM539.274 178.355h0.75V179.695h-0.75ZM539.274 175.355h0.75V176.695h-0.75ZM539.274 172.355h0.75V173.695h-0.75ZM539.274 169.355h0.75V170.695h-0.75ZM539.274 166.355h0.75V167.695h-0.75ZM539.274 163.355h0.75V164.695h-0.75ZM539.274 160.355h0.75V161.695h-0.75ZM539.274 157.355h0.75V158.695h-0.75ZM539.274 154.355h0.75V155.695h-0.75ZM539.274 151.355h0.75V152.695h-0.75ZM539.274 148.355h0.75V149.695h-0.75ZM539.274 145.355h0.75V146.695h-0.75ZM539.274 142.355h0.75V143.695h-0.75ZM539.274 139.355h0.75V140.695h-0.75ZM539.274 136.355h0.75V137.695h-0.75ZM539.274 133.355h0.75V134.695h-0.75ZM539.274 130.355h0.75V131.695h-0.75ZM539.274 127.355h0.75V128.695h-0.75ZM539.274 124.355h0.75V125.695h-0.75ZM539.274 121.355h0.75V122.695h-0.75ZM539.274 118.355h0.75V119.695h-0.75ZM539.274 115.355h0.75V116.695h-0.75ZM539.274 112.355h0.75V113.695h-0.75ZM539.274 109.355h0.75V110.695h-0.75ZM539.274 106.355h0.75V107.695h-0.75ZM539.274 103.355h0.75V104.695h-0.75ZM539.274 100.355h0.75V101.695h-0.75ZM539.274 97.355h0.75V98.695h-0.75ZM539.274 94.355h0.75V95.695h-0.75ZM539.274 91.355h0.75V92.695h-0.75ZM539.274 88.355h0.75V89.695h-0.75ZM539.274 85.355h0.75V86.695h-0.75ZM539.274 82.355h0.75V83.695h-0.75ZM539.274 79.355h0.75V80.695h-0.75ZM539.274 76.355h0.75V77.695h-0.75ZM539.274 73.355h0.75V74.695h-0.75Z"/>
<path d="M579.04 535.355h0.75V536.695h-0.75ZM579.04 532.355h0.75V533.695h-0.75ZM579.04 529.355h0.75V530.695h-0.75ZM579.04 526.355h0.75V527.695h-0.75ZM579.04 523.355h0.75V524.695h-0.75ZM579.04 520.355h0.75V521.695h-0.75ZM579.04 517.355h0.75V518.695h-0.75ZM579.04 514.355h0.75V515.695h-0.75ZM579.04 511.355h0.75V512.695h-0.75ZM579.04 508.355h0.75V509.695h-0.75ZM579.04 505.355h0.75V506.695h-0.75ZM579.04 502.355h0.75V503.695h-0.75ZM579.04 499.355h0.75V500.695h-0.75ZM579.04 496.355h0.75V497.695h-0.75ZM579.04 493.355h0.75V494.695h-0.75ZM579.04 490.355h0.75V491.695h-0.75ZM579.04 487.355h0.75V488.695h-0.75ZM579.04 484.355h0.75V485.695h-0.75ZM579.04 481.355h0.75V482.695h-0.75ZM579.04 478.355h0.75V479.695h-0.75ZM579.04 475.355h0.75V476.695h-0.75ZM579.04 472.355h0.75V473.695h-0.75ZM579.04 469.355h0.75V470.695h-0.75ZM579.04 466.355h0.75V467.695h-0.75ZM579.04 463.355h0.75V464.695h-0.75ZM579.04 460.355h0.75V461.695h-0.75ZM579.04 457.355h0.75V458.695h-0.75ZM579.04 454.355h0.75V455.695h-0.75ZM579.04 451.355h0.75V452.695h-0.75ZM579.04 448.355h0.75V449.695h-0.75ZM579.04 445.355h0.75V446.695h-0.75ZM579.04 442.355h0.75V443.695h-0.75ZM579.04 439.355h0.75V440.695h-0.75ZM579.04 436.355h0.75V437.695h-0.75ZM579.04 433.355h0.75V434.695h-0.75ZM579.04 430.355h0.75V431.695h-0.75ZM579.04 427.355h0.75V428.695h-0.75ZM579.04 424.355h0.75V425.695h-0.75ZM579.04 421.355h0.75V422.695h-0.75ZM579.04 418.355h0.75V419.695h-0.75ZM579.04 415.355h0.75V416.695h-0.75ZM579.04 412.355h0.75V413.695h-0.75ZM579.04 409.355h0.75V410.695h-0.75ZM579.04 406.355h0.75V407.695h-0.75ZM579.04 403.355h0.75V404.695h-0.75ZM579.04 400.355h0.75V401.695h-0.75ZM579.04 397.355h0.75V398.695h-0.75ZM579.04 394.355h0.75V395.695h-0.75ZM579.04 391.355h0.75V392.695h-0.75ZM579.04 388.355h0.75V389.695h-0.75ZM579.04 385.355h0.75V386.695h-0.75ZM579.04 382.355h0.75V383.695h-0.75ZM579.04 379.355h0.75V380.695h-0.75ZM579.04 376.355h0.75V377.695h-0.75ZM579.04 373.355h0.75V374.695h-0.75ZM579.04 370.355h0.75V371.695h-0.75ZM579.04 367.355h0.75V368.695h-0.75ZM579.04 364.355h0.75V365.695h-0.75ZM579.04 361.355h0.75V362.695h-0.75ZM579.04 358.355h0.75V359.695h-0.75ZM579.04 355.355h0.75V356.695h-0.75ZM579.04 352.355h0.75V353.695h-0.75ZM579.04 349.355h0.75V350.695h-0.75ZM579.04 346.355h0.75V347.695h-0.75ZM579.04 343.355h0.75V344.695h-0.75ZM579.04 340.355h0.75V341.695h-0.75ZM579.04 337.355h0.75V338.695h-0.75ZM579.04 334.355h0.75V335.695h-0.75ZM579.04 331.355h0.75V332.695h-0.75ZM579.04 328.355h0.75V329.695h-0.75ZM579.04 325.355h0.75V326.695h-0.75ZM579.04 322.355h0.75V323.695h-0.75ZM579.04 319.355h0.75V320.695h-0.75ZM579.04 316.355h0.75V317.695h-0.75ZM579.04 313.355h0.75V314.695h-0.75ZM579.04 310.355h0.75V311.695h-0.75ZM579.04 307.355h0.75V308.695h-0.75ZM579.04 304.355h0.75V305.695h-0.75ZM579.04 301.355h0.75V302.695h-0.75ZM579.04 298.355h0.75V299.695h-0.75ZM579.04 295.355h0.75V296.695h-0.75ZM579.04 292.355h0.75V293.695h-0.75ZM579.04 289.355h0.75V290.695h-0.75ZM579.04 286.355h0.75V287.695h-0.75ZM579.04 283.355h0.75V284.695h-0.75ZM579.04 280.355h0.75V281.695h-0.75ZM579.04 277.355h0.75V278.695h-0.75ZM579.04 274.355h0.75V275.695h-0.75ZM579.04 271.355h0.75V272.695h-0.75ZM579.04 268.355h0.75V269.695h-0.75ZM579.04 265.355h0.75V266.695h-0.75ZM579.04 262.355h0.75V263.695h-0.75ZM579.04 259.355h0.75V260.695h-0.75ZM579.04 256.355h0.75V257.695h-0.75ZM579.04 253.355h0.75V254.695h-0.75ZM579.04 250.355h0.75V251.695h-0.75ZM579.04 247.355h0.75V248.695h-0.75ZM579.04 244.355h0.75V245.695h-0.75ZM579.04 241.355h0.75V242.695h-0.75ZM579.04 238.355h0.75V239.695h-0.75ZM579.04 235.355h0.75V236.695h-0.75ZM579.04 232.355h0.75V233.695h-0.75ZM579.04 229.355h0.75V230.695h-0.75ZM579.04 226.355h0.75V227.695h-0.75ZM579.04 223.355h0.75V224.695h-0.75ZM579.04 220.355h0.75V221.695h-0.75ZM579.04 217.355h0.75V218.695h-0.75ZM579.04 214.355h0.75V215.695h-0.75ZM579.04 211.355h0.75V212.695h-0.75ZM579.04 208.355h0.75V209.695h-0.75ZM579.04 205.355h0.75V206.695h-0.75ZM579.04 202.355h0.75V203.695h-0.75ZM579.04 199.355h0.75V200.695h-0.75ZM579.04 196.355h0.75V197.695h-0.75ZM579.04 193.355h0.75V194.695h-0.75ZM579.04 190.355h0.75V191.695h-0.75ZM579.04 187.355h0.75V188.695h-0.75ZM579.04 184.355h0.75V185.695h-0.75ZM579.04 181.355h0.75V182.695h-0.75ZM579.04 178.355h0.75V179.695h-0.75ZM579.04 175.355h0.75V176.695h-0.75ZM579.04 172.355h0.75V173.695h-0.75ZM579.04 169.355h0.75V170.695h-0.75ZM579.04 166.355h0.75V167.695h-0.75ZM579.04 163.355h0.75V164.695h-0.75ZM579.04 160.355h0.75V161.695h-0.75ZM579.04 157.355h0.75V158.695h-0.75ZM579.04 154.355h0.75V155.695h-0.75ZM579.04 151.355h0.75V152.695h-0.75ZM579.04 148.355h0.75V149.695h-0.75ZM579.04 145.355h0.75V146.695h-0.75ZM579.04 142.355h0.75V143.695h-0.75ZM579.04 139.355h0.75V140.695h-0.75ZM579.04 136.355h0.75V137.695h-0.75ZM579.04 133.355h0.75V134.695h-0.75ZM579.04 130.355h0.75V131.695h-0.75ZM579.04 127.355h0.75V128.695h-0.75ZM579.04 124.355h0.75V125.695h-0.75ZM579.04 121.355h0.75V122.695h-0.75ZM579.04 118.355h0.75V119.695h-0.75ZM579.04 115.355h0.75V116.695h-0.75ZM579.04 112.355h0.75V113.695h-0.75ZM579.04 109.355h0.75V110.695h-0.75ZM579.04 106.355h0.75V107.695h-0.75ZM579.04 103.355h0.75V104.695h-0.75ZM579.04 100.355h0.75V101.695h-0.75ZM579.04 97.355h0.75V98.695h-0.75ZM579.04 94.355h0.75V95.695h-0.75ZM579.04 91.355h0.75V92.695h-0.75ZM579.04 88.355h0.75V89.695h-0.75ZM579.04 85.355h0.75V86.695h-0.75ZM579.04 82.355h0.75V83.695h-0.75ZM579.04 79.355h0.75V80.695h-0.75ZM579.04 76.355h0.75V77.695h-0.75ZM579.04 73.355h0.75V74.695h-0.75Z"/>
<path d="M618.806 535.355h0.75V536.695h-0.75ZM618.806 532.355h0.75V533.695h-0.75ZM618.806 529.355h0.75V530.695h-0.75ZM618.806 526.355h0.75V527.695h-0.75ZM618.806 523.355h0.75V524.695h-0.75ZM618.806 520.355h0.75V521.695h-0.75ZM618.806 517.355h0.75V518.695h-0.75ZM618.806 514.355h0.75V515.695h-0.75ZM618.806 511.355h0.75V512.695h-0.75ZM618.806 508.355h0.75V509.695h-0.75ZM618.806 505.355h0.75V506.695h-0.75ZM618.806 502.355h0.75V503.695h-0.75ZM618.806 499.355h0.75V500.695h-0.75ZM618.806 496.355h0.75V497.695h-0.75ZM618.806 493.355h0.75V494.695h-0.75ZM618.806 490.355h0.75V491.695h-0.75ZM618.806 487.355h0.75V488.695h-0.75ZM618.806 484.355h0.75V485.695h-0.75ZM618.806 481.355h0.75V482.695h-0.75ZM618.806 478.355h0.75V479.695h-0.75ZM618.806 475.355h0.75V476.695h-0.75ZM618.806 472.355h0.75V473.695h-0.75ZM618.806 469.355h0.75V470.695h-0.75ZM618.806 466.355h0.75V467.695h-0.75ZM618.806 463.355h0.75V464.695h-0.75ZM618.806 460.355h0.75V461.695h-0.75ZM618.806 457.355h0.75V458.695h-0.75ZM618.806 454.355h0.75V455.695h-0.75ZM618.806 451.355h0.75V452.695h-0.75ZM618.806 448.355h0.75V449.695h-0.75ZM618.806 445.355h0.75V446.695h-0.75ZM618.806 442.355h0.75V443.695h-0.75ZM618.806 439.355h0.75V440.695h-0.75ZM618.806 436.355h0.75V437.695h-0.75ZM618.806 433.355h0.75V434.695h-0.75ZM618.806 430.355h0.75V431.695h-0.75ZM618.806 427.355h0.75V428.695h-0.75ZM618.806 424.355h0.75V425.695h-0.75ZM618.806 421.355h0.75V422.695h-0.75ZM618.806 418.355h0.75V419.695h-0.75ZM618.806 415.355h0.75V416.695h-0.75ZM618.806 412.355h0.75V413.695h-0.75ZM618.806 409.355h0.75V410.695h-0.75ZM618.806 406.355h0.75V407.695h-0.75ZM618.806 403.355h0.75V404.695h-0.75ZM618.806 400.355h0.75V401.695h-0.75ZM618.806 397.355h0.75V398.695h-0.75ZM618.806 394.355h0.75V395.695h-0.75ZM618.806 391.355h0.75V392.695h-0.75ZM618.806 388.355h0.75V389.695h-0.75ZM618.806 385.355h0.75V386.695h-0.75ZM618.806 382.355h0.75V383.695h-0.75ZM618.806 379.355h0.75V380.695h-0.75ZM618.806 376.355h0.75V377.695h-0.75ZM618.806 373.355h0.75V374.695h-0.75ZM618.806 370.355h0.75V371.695h-0.75ZM618.806 367.355h0.75V368.695h-0.75ZM618.806 364.355h0.75V365.695h-0.75ZM618.806 361.355h0.75V362.695h-0.75ZM618.806 358.355h0.75V359.695h-0.75ZM618.806 355.355h0.75V356.695h-0.75ZM618.806 352.355h0.75V353.695h-0.75ZM618.806 349.355h0.75V350.695h-0.75ZM618.806 346.355h0.75V347.695h-0.75ZM618.806 343.355h0.75V344.695h-0.75ZM618.806 340.355h0.75V341.695h-0.75ZM618.806 337.355h0.75V338.695h-0.75ZM618.806 334.355h0.75V335.695h-0.75ZM618.806 331.355h0.75V332.695h-0.75ZM618.806 328.355h0.75V329.695h-0.75ZM618.806 325.355h0.75V326.695h-0.75ZM618.806 322.355h0.75V323.695h-0.75ZM618.806 319.355h0.75V320.695h-0.75ZM618.806 316.355h0.75V317.695h-0.75ZM618.806 313.355h0.75V314.695h-0.75ZM618.806 310.355h0.75V311.695h-0.75ZM618.806 307.355h0.75V308.695h-0.75ZM618.806 304.355h0.75V305.695h-0.75ZM618.806 301.355h0.75V302.695h-0.75ZM618.806 298.355h0.75V299.695h-0.75ZM618.806 295.355h0.75V296.695h-0.75ZM618.806 292.355h0.75V293.695h-0.75ZM618.806 289.355h0.75V290.695h-0.75ZM618.806 286.355h0.75V287.695h-0.75ZM618.806 283.355h0.75V284.695h-0.75ZM618.806 280.355h0.75V281.695h-0.75ZM618.806 277.355h0.75V278.695h-0.75ZM618.806 274.355h0.75V275.695h-0.75ZM618.806 271.355h0.75V272.695h-0.75ZM618.806 268.355h0.75V269.695h-0.75ZM618.806 265.355h0.75V266.695h-0.75ZM618.806 262.355h0.75V263.695h-0.75ZM618.806 259.355h0.75V260.695h-0.75ZM618.806 256.355h0.75V257.695h-0.75ZM618.806 253.355h0.75V254.695h-0.75ZM618.806 250.355h0.75V251.695h-0.75ZM618.806 247.355h0.75V248.695h-0.75ZM618.806 244.355h0.75V245.695h-0.75ZM618.806 241.355h0.75V242.695h-0.75ZM618.806 238.355h0.75V239.695h-0.75ZM618.806 235.355h0.75V236.695h-0.75ZM618.806 232.355h0.75V233.695h-0.75ZM618.806 229.355h0.75V230.695h-0.75ZM618.806 226.355h0.75V227.695h-0.75ZM618.806 223.355h0.75V224.695h-0.75ZM618.806 220.355h0.75V221.695h-0.75ZM618.806 217.355h0.75V218.695h-0.75ZM618.806 214.355h0.75V215.695h-0.75ZM618.806 211.355h0.75V212.695h-0.75ZM618.806 208.355h0.75V209.695h-0.75ZM618.806 205.355h0.75V206.695h-0.75ZM618.806 202.355h0.75V203.695h-0.75ZM618.806 199.355h0.75V200.695h-0.75ZM618.806 196.355h0.75V197.695h-0.75ZM618.806 193.355h0.75V194.695h-0.75ZM618.806 190.355h0.75V191.695h-0.75ZM618.806 187.355h0.75V188.695h-0.75ZM618.806 184.355h0.75V185.695h-0.75ZM618.806 181.355h0.75V182.695h-0.75ZM618.806 178.355h0.75V179.695h-0.75ZM618.806 175.355h0.75V176.695h-0.75ZM618.806 172.355h0.75V173.695h-0.75ZM618.806 169.355h0.75V170.695h-0.75ZM618.806 166.355h0.75V167.695h-0.75ZM618.806 163.355h0.75V164.695h-0.75ZM618.806 160.355h0.75V161.695h-0.75ZM618.806 157.355h0.75V158.695h-0.75ZM618.806 154.355h0.75V155.695h-0.75ZM618.806 151.355h0.75V152.695h-0.75ZM618.806 148.355h0.75V149.695h-0.75ZM618.806 145.355h0.75V146.695h-0.75ZM618.806 142.355h0.75V143.695h-0.75ZM618.806 139.355h0.75V140.695h-0.75ZM618.806 136.355h0.75V137.695h-0.75ZM618.806 133.355h0.75V134.695h-0.75ZM618.806 130.355h0.75V131.695h-0.75ZM618.806 127.355h0.75V128.695h-0.75ZM618.806 124.355h0.75V125.695h-0.75ZM618.806 121.355h0.75V122.695h-0.75ZM618.806 118.355h0.75V119.695h-0.75ZM618.806 115.355h0.75V116.695h-0.75ZM618.806 112.355h0.75V113.695h-0.75ZM618.806 109.355h0.75V110.695h-0.75ZM618.806 106.355h0.75V107.695h-0.75ZM618.806 103.355h0.75V104.695h-0.75ZM618.806 100.355h0.75V101.695h-0.75ZM618.806 97.355h0.75V98.695h-0.75ZM618.806 94.355h0.75V95.695h-0.75ZM618.806 91.355h0.75V92.695h-0.75ZM618.806 88.355h0.75V89.695h-0.75ZM618.806 85.355h0.75V86.695h-0.75ZM618.806 82.355h0.75V83.695h-0.75ZM618.806 79.355h0.75V80.695h-0.75ZM618.806 76.355h0.75V77.695h-0.75ZM618.806 73.355h0.75V74.695h-0.75Z"/>
<path d="M658.572 535.355h0.75V536.695h-0.75ZM658.572 532.355h0.75V533.695h-0.75ZM658.572 529.355h0.75V530.695h-0.75ZM658.572 526.355h0.75V527.695h-0.75ZM658.572 523.355h0.75V524.695h-0.75ZM658.572 520.355h0.75V521.695h-0.75ZM658.572 517.355h0.75V518.695h-0.75ZM658.572 514.355h0.75V515.695h-0.75ZM658.572 511.355h0.75V512.695h-0.75ZM658.572 508.355h0.75V509.695h-0.75ZM658.572 505.355h0.75V506.695h-0.75ZM658.572 502.355h0.75V503.695h-0.75ZM658.572 499.355h0.75V500.695h-0.75ZM658.572 496.355h0.75V497.695h-0.75ZM658.572 493.355h0.75V494.695h-0.75ZM658.572 490.355h0.75V491.695h-0.75ZM658.572 487.355h0.75V488.695h-0.75ZM658.572 484.355h0.75V485.695h-0.75ZM658.572 481.355h0.75V482.695h-0.75ZM658.572 478.355h0.75V479.695h-0.75ZM658.572 475.355h0.75V476.695h-0.75ZM658.572 472.355h0.75V473.695h-0.75ZM658.572 469.355h0.75V470.695h-0.75ZM658.572 466.355h0.75V467.695h-0.75ZM658.572 463.355h0.75V464.695h-0.75ZM658.572 460.355h0.75V461.695h-0.75ZM658.572 457.355h0.75V458.695h-0.75ZM658.572 454.355h0.75V455.695h-0.75ZM658.572 451.355h0.75V452.695h-0.75ZM658.572 448.355h0.75V449.695h-0.75ZM658.572 445.355h0.75V446.695h-0.75ZM658.572 442.355h0.75V443.695h-0.75ZM658.572 439.355h0.75V440.695h-0.75ZM658.572 436.355h0.75V437.695h-0.75ZM658.572 433.355h0.75V434.695h-0.75ZM658.572 430.355h0.75V431.695h-0.75ZM658.572 427.355h0.75V428.695h-0.75ZM658.572 424.355h0.75V425.695h-0.75ZM658.572 421.355h0.75V422.695h-0.75ZM658.572 418.355h0.75V419.695h-0.75ZM658.572 415.355h0.75V416.695h-0.75ZM658.572 412.355h0.75V413.695h-0.75ZM658.572 409.355h0.75V410.695h-0.75ZM658.572 406.355h0.75V407.695h-0.75ZM658.572 403.355h0.75V404.695h-0.75ZM658.572 400.355h0.75V401.695h-0.75ZM658.572 397.355h0.75V398.695h-0.75ZM658.572 394.355h0.75V395.695h-0.75ZM658.572 391.355h0.75V392.695h-0.75ZM658.572 388.355h0.75V389.695h-0.75ZM658.572 385.355h0.75V386.695h-0.75ZM658.572 382.355h0.75V383.695h-0.75ZM658.572 379.355h0.75V380.695h-0.75ZM658.572 376.355h0.75V377.695h-0.75ZM658.572 373.355h0.75V374.695h-0.75ZM658.572 370.355h0.75V371.695h-0.75ZM658.572 367.355h0.75V368.695h-0.75ZM658.572 364.355h0.75V365.695h-0.75ZM658.572 361.355h0.75V362.695h-0.75ZM658.572 358.355h0.75V359.695h-0.75ZM658.572 355.355h0.75V356.695h-0.75ZM658.572 352.355h0.75V353.695h-0.75ZM658.572 349.355h0.75V350.695h-0.75ZM658.572 346.355h0.75V347.695h-0.75ZM658.572 343.355h0.75V344.695h-0.75ZM658.572 340.355h0.75V341.695h-0.75ZM658.572 337.355h0.75V338.695h-0.75ZM658.572 334.355h0.75V335.695h-0.75ZM658.572 331.355h0.75V332.695h-0.75ZM658.572 328.355h0.75V329.695h-0.75ZM658.572 325.355h0.75V326.695h-0.75ZM658.572 322.355h0.75V323.695h-0.75ZM658.572 319.355h0.75V320.695h-0.75ZM658.572 316.355h0.75V317.695h-0.75ZM658.572 313.355h0.75V314.695h-0.75ZM658.572 310.355h0.75V311.695h-0.75ZM658.572 307.355h0.75V308.695h-0.75ZM658.572 304.355h0.75V305.695h-0.75ZM658.572 301.355h0.75V302.695h-0.75ZM658.572 298.355h0.75V299.695h-0.75ZM658.572 295.355h0.75V296.695h-0.75ZM658.572 292.355h0.75V293.695h-0.75ZM658.572 289.355h0.75V290.695h-0.75ZM658.572 286.355h0.75V287.695h-0.75ZM658.572 283.355h0.75V284.695h-0.75ZM658.572 280.355h0.75V281.695h-0.75ZM658.572 277.355h0.75V278.695h-0.75ZM658.572 274.355h0.75V275.695h-0.75ZM658.572 271.355h0.75V272.695h-0.75ZM658.572 268.355h0.75V269.695h-0.75ZM658.572 265.355h0.75V266.695h-0.75ZM658.572 262.355h0.75V263.695h-0.75ZM658.572 259.355h0.75V260.695h-0.75ZM658.572 256.355h0.75V257.695h-0.75ZM658.572 253.355h0.75V254.695h-0.75ZM658.572 250.355h0.75V251.695h-0.75ZM658.572 247.355h0.75V248.695h-0.75ZM658.572 244.355h0.75V245.695h-0.75ZM658.572 241.355h0.75V242.695h-0.75ZM658.572 238.355h0.75V239.695h-0.75ZM658.572 235.355h0.75V236.695h-0.75ZM658.572 232.355h0.75V233.695h-0.75ZM658.572 229.355h0.75V230.695h-0.75ZM658.572 226.355h0.75V227.695h-0.75ZM658.572 223.355h0.75V224.695h-0.75ZM658.572 220.355h0.75V221.695h-0.75ZM658.572 217.355h0.75V218.695h-0.75ZM658.572 214.355h0.75V215.695h-0.75ZM658.572 211.355h0.75V212.695h-0.75ZM658.572 208.355h0.75V209.695h-0.75ZM658.572 205.355h0.75V206.695h-0.75ZM658.572 202.355h0.75V203.695h-0.75ZM658.572 199.355h0.75V200.695h-0.75ZM658.572 196.355h0.75V197.695h-0.75ZM658.572 193.355h0.75V194.695h-0.75ZM658.572 190.355h0.75V191.695h-0.75ZM658.572 187.355h0.75V188.695h-0.75ZM658.572 184.355h0.75V185.695h-0.75ZM658.572 181.355h0.75V182.695h-0.75ZM658.572 178.355h0.75V179.695h-0.75ZM658.572 175.355h0.75V176.695h-0.75ZM658.572 172.355h0.75V173.695h-0.75ZM658.572 169.355h0.75V170.695h-0.75ZM658.572 166.355h0.75V167.695h-0.75ZM658.572 163.355h0.75V164.695h-0.75ZM658.572 160.355h0.75V161.695h-0.75ZM658.572 157.355h0.75V158.695h-0.75ZM658.572 154.355h0.75V155.695h-0.75ZM658.572 151.355h0.75V152.695h-0.75ZM658.572 148.355h0.75V149.695h-0.75ZM658.572 145.355h0.75V146.695h-0.75ZM658.572 142.355h0.75V143.695h-0.75ZM658.572 139.355h0.75V140.695h-0.75ZM658.572 136.355h0.75V137.695h-0.75ZM658.572 133.355h0.75V134.695h-0.75ZM658.572 130.355h0.75V131.695h-0.75ZM658.572 127.355h0.75V128.695h-0.75ZM658.572 124.355h0.75V125.695h-0.75ZM658.572 121.355h0.75V122.695h-0.75ZM658.572 118.355h0.75V119.695h-0.75ZM658.572 115.355h0.75V116.695h-0.75ZM658.572 112.355h0.75V113.695h-0.75ZM658.572 109.355h0.75V110.695h-0.75ZM658.572 106.355h0.75V107.695h-0.75ZM658.572 103.355h0.75V104.695h-0.75ZM658.572 100.355h0.75V101.695h-0.75ZM658.572 97.355h0.75V98.695h-0.75ZM658.572 94.355h0.75V95.695h-0.75ZM658.572 91.355h0.75V92.695h-0.75ZM658.572 88.355h0.75V89.695h-0.75ZM658.572 85.355h0.75V86.695h-0.75ZM658.572 82.355h0.75V83.695h-0.75ZM658.572 79.355h0.75V80.695h-0.75ZM658.572 76.355h0.75V77.695h-0.75ZM658.572 73.355h0.75V74.695h-0.75Z"/>
<path d="M698.338 535.355h0.75V536.695h-0.75ZM698.338 532.355h0.75V533.695h-0.75ZM698.338 529.355h0.75V530.695h-0.75ZM698.338 526.355h0.75V527.695h-0.75ZM698.338 523.355h0.75V524.695h-0.75ZM698.338 520.355h0.75V521.695h-0.75ZM698.338 517.355h0.75V518.695h-0.75ZM698.338 514.355h0.75V515.695h-0.75ZM698.338 511.355h0.75V512.695h-0.75ZM698.338 508.355h0.75V509.695h-0.75ZM698.338 505.355h0.75V506.695h-0.75ZM698.338 502.355h0.75V503.695h-0.75ZM698.338 499.355h0.75V500.695h-0.75ZM698.338 496.355h0.75V497.695h-0.75ZM698.338 493.355h0.75V494.695h-0.75ZM698.338 490.355h0.75V491.695h-0.75ZM698.338 487.355h0.75V488.695h-0.75ZM698.338 484.355h0.75V485.695h-0.75ZM698.338 481.355h0.75V482.695h-0.75ZM698.338 478.355h0.75V479.695h-0.75ZM698.338 475.355h0.75V476.695h-0.75ZM698.338 472.355h0.75V473.695h-0.75ZM698.338 469.355h0.75V470.695h-0.75ZM698.338 466.355h0.75V467.695h-0.75ZM698.338 463.355h0.75V464.695h-0.75ZM698.338 460.355h0.75V461.695h-0.75ZM698.338 457.355h0.75V458.695h-0.75ZM698.338 454.355h0.75V455.695h-0.75ZM698.338 451.355h0.75V452.695h-0.75ZM698.338 448.355h0.75V449.695h-0.75ZM698.338 445.355h0.75V446.695h-0.75ZM698.338 442.355h0.75V443.695h-0.75ZM698.338 439.355h0.75V440.695h-0.75ZM698.338 436.355h0.75V437.695h-0.75ZM698.338 433.355h0.75V434.695h-0.75ZM698.338 430.355h0.75V431.695h-0.75ZM698.338 427.355h0.75V428.695h-0.75ZM698.338 424.355h0.75V425.695h-0.75ZM698.338 421.355h0.75V422.695h-0.75ZM698.338 418.355h0.75V419.695h-0.75ZM698.338 415.355h0.75V416.695h-0.75ZM698.338 412.355h0.75V413.695h-0.75ZM698.338 409.355h0.75V410.695h-0.75ZM698.338 406.355h0.75V407.695h-0.75ZM698.338 403.355h0.75V404.695h-0.75ZM698.338 400.355h0.75V401.695h-0.75ZM698.338 397.355h0.75V398.695h-0.75ZM698.338 394.355h0.75V395.695h-0.75ZM698.338 391.355h0.75V392.695h-0.75ZM698.338 388.355h0.75V389.695h-0.75ZM698.338 385.355h0.75V386.695h-0.75ZM698.338 382.355h0.75V383.695h-0.75ZM698.338 379.355h0.75V380.695h-0.75ZM698.338 376.355h0.75V377.695h-0.75ZM698.338 373.355h0.75V374.695h-0.75ZM698.338 370.355h0.75V371.695h-0.75ZM698.338 367.355h0.75V368.695h-0.75ZM698.338 364.355h0.75V365.695h-0.75ZM698.338 361.355h0.75V362.695h-0.75ZM698.338 358.355h0.75V359.695h-0.75ZM698.338 355.355h0.75V356.695h-0.75ZM698.338 352.355h0.75V353.695h-0.75ZM698.338 349.355h0.75V350.695h-0.75ZM698.338 346.355h0.75V347.695h-0.75ZM698.338 343.355h0.75V344.695h-0.75ZM698.338 340.355h0.75V341.695h-0.75ZM698.338 337.355h0.75V338.695h-0.75ZM698.338 334.355h0.75V335.695h-0.75ZM698.338 331.355h0.75V332.695h-0.75ZM698.338 328.355h0.75V329.695h-0.75ZM698.338 325.355h0.75V326.695h-0.75ZM698.338 322.355h0.75V323.695h-0.75ZM698.338 319.355h0.75V320.695h-0.75ZM698.338 316.355h0.75V317.695h-0.75ZM698.338 313.355h0.75V314.695h-0.75ZM698.338 310.355h0.75V311.695h-0.75ZM698.338 307.355h0.75V308.695h-0.75ZM698.338 304.355h0.75V305.695h-0.75ZM698.338 301.355h0.75V302.695h-0.75ZM698.338 298.355h0.75V299.695h-0.75ZM698.338 295.355h0.75V296.695h-0.75ZM698.338 292.355h0.75V293.695h-0.75ZM698.338 289.355h0.75V290.695h-0.75ZM698.338 286.355h0.75V287.695h-0.75ZM698.338 283.355h0.75V284.695h-0.75ZM698.338 280.355h0.75V281.695h-0.75ZM698.338 277.355h0.75V278.695h-0.75ZM698.338 274.355h0.75V275.695h-0.75ZM698.338 271.355h0.75V272.695h-0.75ZM698.338 268.355h0.75V269.695h-0.75ZM698.338 265.355h0.75V266.695h-0.75ZM698.338 262.355h0.75V263.695h-0.75ZM698.338 259.355h0.75V260.695h-0.75ZM698.338 256.355h0.75V257.695h-0.75ZM698.338 253.355h0.75V254.695h-0.75ZM698.338 250.355h0.75V251.695h-0.75ZM698.338 247.355h0.75V248.695h-0.75ZM698.338 244.355h0.75V245.695h-0.75ZM698.338 241.355h0.75V242.695h-0.75ZM698.338 238.355h0.75V239.695h-0.75ZM698.338 235.355h0.75V236.695h-0.75ZM698.338 232.355h0.75V233.695h-0.75ZM698.338 229.355h0.75V230.695h-0.75ZM698.338 226.355h0.75V227.695h-0.75ZM698.338 223.355h0.75V224.695h-0.75ZM698.338 220.355h0.75V221.695h-0.75ZM698.338 217.355h0.75V218.695h-0.75ZM698.338 214.355h0.75V215.695h-0.75ZM698.338 211.355h0.75V212.695h-0.75ZM698.338 208.355h0.75V209.695h-0.75ZM698.338 205.355h0.75V206.695h-0.75ZM698.338 202.355h0.75V203.695h-0.75ZM698.338 199.355h0.75V200.695h-0.75ZM698.338 196.355h0.75V197.695h-0.75ZM698.338 193.355h0.75V194.695h-0.75ZM698.338 190.355h0.75V191.695h-0.75ZM698.338 187.355h0.75V188.695h-0.75ZM698.338 184.355h0.75V185.695h-0.75ZM698.338 181.355h0.75V182.695h-0.75ZM698.338 178.355h0.75V179.695h-0.75ZM698.338 175.355h0.75V176.695h-0.75ZM698.338 172.355h0.75V173.695h-0.75ZM698.338 169.355h0.75V170.695h-0.75ZM698.338 166.355h0.75V167.695h-0.75ZM698.338 163.355h0.75V164.695h-0.75ZM698.338 160.355h0.75V161.695h-0.75ZM698.338 157.355h0.75V158.695h-0.75ZM698.338 154.355h0.75V155.695h-0.75ZM698.338 151.355h0.75V152.695h-0.75ZM698.338 148.355h0.75V149.695h-0.75ZM698.338 145.355h0.75V146.695h-0.75ZM698.338 142.355h0.75V143.695h-0.75ZM698.338 139.355h0.75V140.695h-0.75ZM698.338 136.355h0.75V137.695h-0.75ZM698.338 133.355h0.75V134.695h-0.75ZM698.338 130.355h0.75V131.695h-0.75ZM698.338 127.355h0.75V128.695h-0.75ZM698.338 124.355h0.75V125.695h-0.75ZM698.338 121.355h0.75V122.695h-0.75ZM698.338 118.355h0.75V119.695h-0.75ZM698.338 115.355h0.75V116.695h-0.75ZM698.338 112.355h0.75V113.695h-0.75ZM698.338 109.355h0.75V110.695h-0.75ZM698.338 106.355h0.75V107.695h-0.75ZM698.338 103.355h0.75V104.695h-0.75ZM698.338 100.355h0.75V101.695h-0.75ZM698.338 97.355h0.75V98.695h-0.75ZM698.338 94.355h0.75V95.695h-0.75ZM698.338 91.355h0.75V92.695h-0.75ZM698.338 88.355h0.75V89.695h-0.75ZM698.338 85.355h0.75V86.695h-0.75ZM698.338 82.355h0.75V83.695h-0.75ZM698.338 79.355h0.75V80.695h-0.75ZM698.338 76.355h0.75V77.695h-0.75ZM698.338 73.355h0.75V74.695h-0.75Z"/>
<path d="M738.105 535.355h0.75V536.695h-0.75ZM738.105 532.355h0.75V533.695h-0.75ZM738.105 529.355h0.75V530.695h-0.75ZM738.105 526.355h0.75V527.695h-0.75ZM738.105 523.355h0.75V524.695h-0.75ZM738.105 520.355h0.75V521.695h-0.75ZM738.105 517.355h0.75V518.695h-0.75ZM738.105 514.355h0.75V515.695h-0.75ZM738.105 511.355h0.75V512.695h-0.75ZM738.105 508.355h0.75V509.695h-0.75ZM738.105 505.355h0.75V506.695h-0.75ZM738.105 502.355h0.75V503.695h-0.75ZM738.105 499.355h0.75V500.695h-0.75ZM738.105 496.355h0.75V497.695h-0.75ZM738.105 493.355h0.75V494.695h-0.75ZM738.105 490.355h0.75V491.695h-0.75ZM738.105 487.355h0.75V488.695h-0.75ZM738.105 484.355h0.75V485.695h-0.75ZM738.105 481.355h0.75V482.695h-0.75ZM738.105 478.355h0.75V479.695h-0.75ZM738.105 475.355h0.75V476.695h-0.75ZM738.105 472.355h0.75V473.695h-0.75ZM738.105 469.355h0.75V470.695h-0.75ZM738.105 466.355h0.75V467.695h-0.75ZM738.105 463.355h0.75V464.695h-0.75ZM738.105 460.355h0.75V461.695h-0.75ZM738.105 457.355h0.75V458.695h-0.75ZM738.105 454.355h0.75V455.695h-0.75ZM738.105 451.355h0.75V452.695h-0.75ZM738.105 448.355h0.75V449.695h-0.75ZM738.105 445.355h0.75V446.695h-0.75ZM738.105 442.355h0.75V443.695h-0.75ZM738.105 439.355h0.75V440.695h-0.75ZM738.105 436.355h0.75V437.695h-0.75ZM738.105 433.355h0.75V434.695h-0.75ZM738.105 430.355h0.75V431.695h-0.75ZM738.105 427.355h0.75V428.695h-0.75ZM738.105 424.355h0.75V425.695h-0.75ZM738.105 421.355h0.75V422.695h-0.75ZM738.105 418.355h0.75V419.695h-0.75ZM738.105 415.355h0.75V416.695h-0.75ZM738.105 412.355h0.75V413.695h-0.75ZM738.105 409.355h0.75V410.695h-0.75ZM738.105 406.355h0.75V407.695h-0.75ZM738.105 403.355h0.75V404.695h-0.75ZM738.105 400.355h0.75V401.695h-0.75ZM738.105 397.355h0.75V398.695h-0.75ZM738.105 394.355h0.75V395.695h-0.75ZM738.105 391.355h0.75V392.695h-0.75ZM738.105 388.355h0.75V389.695h-0.75ZM738.105 385.355h0.75V386.695h-0.75ZM738.105 382.355h0.75V383.695h-0.75ZM738.105 379.355h0.75V380.695h-0.75ZM738.105 376.355h0.75V377.695h-0.75ZM738.105 373.355h0.75V374.695h-0.75ZM738.105 370.355h0.75V371.695h-0.75ZM738.105 367.355h0.75V368.695h-0.75ZM738.105 364.355h0.75V365.695h-0.75ZM738.105 361.355h0.75V362.695h-0.75ZM738.105 358.355h0.75V359.695h-0.75ZM738.105 355.355h0.75V356.695h-0.75ZM738.105 352.355h0.75V353.695h-0.75ZM738.105 349.355h0.75V350.695h-0.75ZM738.105 346.355h0.75V347.695h-0.75ZM738.105 343.355h0.75V344.695h-0.75ZM738.105 340.355h0.75V341.695h-0.75ZM738.105 337.355h0.75V338.695h-0.75ZM738.105 334.355h0.75V335.695h-0.75ZM738.105 331.355h0.75V332.695h-0.75ZM738.105 328.355h0.75V329.695h-0.75ZM738.105 325.355h0.75V326.695h-0.75ZM738.105 322.355h0.75V323.695h-0.75ZM738.105 319.355h0.75V320.695h-0.75ZM738.105 316.355h0.75V317.695h-0.75ZM738.105 313.355h0.75V314.695h-0.75ZM738.105 310.355h0.75V311.695h-0.75ZM738.105 307.355h0.75V308.695h-0.75ZM738.105 304.355h0.75V305.695h-0.75ZM738.105 301.355h0.75V302.695h-0.75ZM738.105 298.355h0.75V299.695h-0.75ZM738.105 295.355h0.75V296.695h-0.75ZM738.105 292.355h0.75V293.695h-0.75ZM738.105 289.355h0.75V290.695h-0.75ZM738.105 286.355h0.75V287.695h-0.75ZM738.105 283.355h0.75V284.695h-0.75ZM738.105 280.355h0.75V281.695h-0.75ZM738.105 277.355h0.75V278.695h-0.75ZM738.105 274.355h0.75V275.695h-0.75ZM738.105 271.355h0.75V272.695h-0.75ZM738.105 268.355h0.75V269.695h-0.75ZM738.105 265.355h0.75V266.695h-0.75ZM738.105 262.355h0.75V263.695h-0.75ZM738.105 259.355h0.75V260.695h-0.75ZM738.105 256.355h0.75V257.695h-0.75ZM738.105 253.355h0.75V254.695h-0.75ZM738.105 250.355h0.75V251.695h-0.75ZM738.105 247.355h0.75V248.695h-0.75ZM738.105 244.355h0.75V245.695h-0.75ZM738.105 241.355h0.75V242.695h-0.75ZM738.105 238.355h0.75V239.695h-0.75ZM738.105 235.355h0.75V236.695h-0.75ZM738.105 232.355h0.75V233.695h-0.75ZM738.105 229.355h0.75V230.695h-0.75ZM738.105 226.355h0.75V227.695h-0.75ZM738.105 223.355h0.75V224.695h-0.75ZM738.105 220.355h0.75V221.695h-0.75ZM738.105 217.355h0.75V218.695h-0.75ZM738.105 214.355h0.75V215.695h-0.75ZM738.105 211.355h0.75V212.695h-0.75ZM738.105 208.355h0.75V209.695h-0.75ZM738.105 205.355h0.75V206.695h-0.75ZM738.105 202.355h0.75V203.695h-0.75ZM738.105 199.355h0.75V200.695h-0.75ZM738.105 196.355h0.75V197.695h-0.75ZM738.105 193.355h0.75V194.695h-0.75ZM738.105 190.355h0.75V191.695h-0.75ZM738.105 187.355h0.75V188.695h-0.75ZM738.105 184.355h0.75V185.695h-0.75ZM738.105 181.355h0.75V182.695h-0.75ZM738.105 178.355h0.75V179.695h-0.75ZM738.105 175.355h0.75V176.695h-0.75ZM738.105 172.355h0.75V173.695h-0.75ZM738.105 169.355h0.75V170.695h-0.75ZM738.105 166.355h0.75V167.695h-0.75ZM738.105 163.355h0.75V164.695h-0.75ZM738.105 160.355h0.75V161.695h-0.75ZM738.105 157.355h0.75V158.695h-0.75ZM738.105 154.355h0.75V155.695h-0.75ZM738.105 151.355h0.75V152.695h-0.75ZM738.105 148.355h0.75V149.695h-0.75ZM738.105 145.355h0.75V146.695h-0.75ZM738.105 142.355h0.75V143.695h-0.75ZM738.105 139.355h0.75V140.695h-0.75ZM738.105 136.355h0.75V137.695h-0.75ZM738.105 133.355h0.75V134.695h-0.75ZM738.105 130.355h0.75V131.695h-0.75ZM738.105 127.355h0.75V128.695h-0.75ZM738.105 124.355h0.75V125.695h-0.75ZM738.105 121.355h0.75V122.695h-0.75ZM738.105 118.355h0.75V119.695h-0.75ZM738.105 115.355h0.75V116.695h-0.75ZM738.105 112.355h0.75V113.695h-0.75ZM738.105 109.355h0.75V110.695h-0.75ZM738.105 106.355h0.75V107.695h-0.75ZM738.105 103.355h0.75V104.695h-0.75ZM738.105 100.355h0.75V101.695h-0.75ZM738.105 97.355h0.75V98.695h-0.75ZM738.105 94.355h0.75V95.695h-0.75ZM738.105 91.355h0.75V92.695h-0.75ZM738.105 88.355h0.75V89.695h-0.75ZM738.105 85.355h0.75V86.695h-0.75ZM738.105 82.355h0.75V83.695h-0.75ZM738.105 79.355h0.75V80.695h-0.75ZM738.105 76.355h0.75V77.695h-0.75ZM738.105 73.355h0.75V74.695h-0.75Z"/>
<path d="M777.871 535.355h0.75V536.695h-0.75ZM777.871 532.355h0.75V533.695h-0.75ZM777.871 529.355h0.75V530.695h-0.75ZM777.871 526.355h0.75V527.695h-0.75ZM777.871 523.355h0.75V524.695h-0.75ZM777.871 520.355h0.75V521.695h-0.75ZM777.871 517.355h0.75V518.695h-0.75ZM777.871 514.355h0.75V515.695h-0.75ZM777.871 511.355h0.75V512.695h-0.75ZM777.871 508.355h0.75V509.695h-0.75ZM777.871 505.355h0.75V506.695h-0.75ZM777.871 502.355h0.75V503.695h-0.75ZM777.871 499.355h0.75V500.695h-0.75ZM777.871 496.355h0.75V497.695h-0.75ZM777.871 493.355h0.75V494.695h-0.75ZM777.871 490.355h0.75V491.695h-0.75ZM777.871 487.355h0.75V488.695h-0.75ZM777.871 484.355h0.75V485.695h-0.75ZM777.871 481.355h0.75V482.695h-0.75ZM777.871 478.355h0.75V479.695h-0.75ZM777.871 475.355h0.75V476.695h-0.75ZM777.871 472.355h0.75V473.695h-0.75ZM777.871 469.355h0.75V470.695h-0.75ZM777.871 466.355h0.75V467.695h-0.75ZM777.871 463.355h0.75V464.695h-0.75ZM777.871 460.355h0.75V461.695h-0.75ZM777.871 457.355h0.75V458.695h-0.75ZM777.871 454.355h0.75V455.695h-0.75ZM777.871 451.355h0.75V452.695h-0.75ZM777.871 448.355h0.75V449.695h-0.75ZM777.871 445.355h0.75V446.695h-0.75ZM777.871 442.355h0.75V443.695h-0.75ZM777.871 439.355h0.75V440.695h-0.75ZM777.871 436.355h0.75V437.695h-0.75ZM777.871 433.355h0.75V434.695h-0.75ZM777.871 430.355h0.75V431.695h-0.75ZM777.871 427.355h0.75V428.695h-0.75ZM777.871 424.355h0.75V425.695h-0.75ZM777.871 421.355h0.75V422.695h-0.75ZM777.871 418.355h0.75V419.695h-0.75ZM777.871 415.355h0.75V416.695h-0.75ZM777.871 412.355h0.75V413.695h-0.75ZM777.871 409.355h0.75V410.695h-0.75ZM777.871 406.355h0.75V407.695h-0.75ZM777.871 403.355h0.75V404.695h-0.75ZM777.871 400.355h0.75V401.695h-0.75ZM777.871 397.355h0.75V398.695h-0.75ZM777.871 394.355h0.75V395.695h-0.75ZM777.871 391.355h0.75V392.695h-0.75ZM777.871 388.355h0.75V389.695h-0.75ZM777.871 385.355h0.75V386.695h-0.75ZM777.871 382.355h0.75V383.695h-0.75ZM777.871 379.355h0.75V380.695h-0.75ZM777.871 376.355h0.75V377.695h-0.75ZM777.871 373.355h0.75V374.695h-0.75ZM777.871 370.355h0.75V371.695h-0.75ZM777.871 367.355h0.75V368.695h-0.75ZM777.871 364.355h0.75V365.695h-0.75ZM777.871 361.355h0.75V362.695h-0.75ZM777.871 358.355h0.75V359.695h-0.75ZM777.871 355.355h0.75V356.695h-0.75ZM777.871 352.355h0.75V353.695h-0.75ZM777.871 349.355h0.75V350.695h-0.75ZM777.871 346.355h0.75V347.695h-0.75ZM777.871 343.355h0.75V344.695h-0.75ZM777.871 340.355h0.75V341.695h-0.75ZM777.871 337.355h0.75V338.695h-0.75ZM777.871 334.355h0.75V335.695h-0.75ZM777.871 331.355h0.75V332.695h-0.75ZM777.871 328.355h0.75V329.695h-0.75ZM777.871 325.355h0.75V326.695h-0.75ZM777.871 322.355h0.75V323.695h-0.75ZM777.871 319.355h0.75V320.695h-0.75ZM777.871 316.355h0.75V317.695h-0.75ZM777.871 313.355h0.75V314.695h-0.75ZM777.871 310.355h0.75V311.695h-0.75ZM777.871 307.355h0.75V308.695h-0.75ZM777.871 304.355h0.75V305.695h-0.75ZM777.871 301.355h0.75V302.695h-0.75ZM777.871 298.355h0.75V299.695h-0.75ZM777.871 295.355h0.75V296.695h-0.75ZM777.871 292.355h0.75V293.695h-0.75ZM777.871 289.355h0.75V290.695h-0.75ZM777.871 286.355h0.75V287.695h-0.75ZM777.871 283.355h0.75V284.695h-0.75ZM777.871 280.355h0.75V281.695h-0.75ZM777.871 277.355h0.75V278.695h-0.75ZM777.871 274.355h0.75V275.695h-0.75ZM777.871 271.355h0.75V272.695h-0.75ZM777.871 268.355h0.75V269.695h-0.75ZM777.871 265.355h0.75V266.695h-0.75ZM777.871 262.355h0.75V263.695h-0.75ZM777.871 259.355h0.75V260.695h-0.75ZM777.871 256.355h0.75V257.695h-0.75ZM777.871 253.355h0.75V254.695h-0.75ZM777.871 250.355h0.75V251.695h-0.75ZM777.871 247.355h0.75V248.695h-0.75ZM777.871 244.355h0.75V245.695h-0.75ZM777.871 241.355h0.75V242.695h-0.75ZM777.871 238.355h0.75V239.695h-0.75ZM777.871 235.355h0.75V236.695h-0.75ZM777.871 232.355h0.75V233.695h-0.75ZM777.871 229.355h0.75V230.695h-0.75ZM777.871 226.355h0.75V227.695h-0.75ZM777.871 223.355h0.75V224.695h-0.75ZM777.871 220.355h0.75V221.695h-0.75ZM777.871 217.355h0.75V218.695h-0.75ZM777.871 214.355h0.75V215.695h-0.75ZM777.871 211.355h0.75V212.695h-0.75ZM777.871 208.355h0.75V209.695h-0.75ZM777.871 205.355h0.75V206.695h-0.75ZM777.871 202.355h0.75V203.695h-0.75ZM777.871 199.355h0.75V200.695h-0.75ZM777.871 196.355h0.75V197.695h-0.75ZM777.871 193.355h0.75V194.695h-0.75ZM777.871 190.355h0.75V191.695h-0.75ZM777.871 187.355h0.75V188.695h-0.75ZM777.871 184.355h0.75V185.695h-0.75ZM777.871 181.355h0.75V182.695h-0.75ZM777.871 178.355h0.75V179.695h-0.75ZM777.871 175.355h0.75V176.695h-0.75ZM777.871 172.355h0.75V173.695h-0.75ZM777.871 169.355h0.75V170.695h-0.75ZM777.871 166.355h0.75V167.695h-0.75ZM777.871 163.355h0.75V164.695h-0.75ZM777.871 160.355h0.75V161.695h-0.75ZM777.871 157.355h0.75V158.695h-0.75ZM777.871 154.355h0.75V155.695h-0.75ZM777.871 151.355h0.75V152.695h-0.75ZM777.871 148.355h0.75V149.695h-0.75ZM777.871 145.355h0.75V146.695h-0.75ZM777.871 142.355h0.75V143.695h-0.75ZM777.871 139.355h0.75V140.695h-0.75ZM777.871 136.355h0.75V137.695h-0.75ZM777.871 133.355h0.75V134.695h-0.75ZM777.871 130.355h0.75V131.695h-0.75ZM777.871 127.355h0.75V128.695h-0.75ZM777.871 124.355h0.75V125.695h-0.75ZM777.871 121.355h0.75V122.695h-0.75ZM777.871 118.355h0.75V119.695h-0.75ZM777.871 115.355h0.75V116.695h-0.75ZM777.871 112.355h0.75V113.695h-0.75ZM777.871 109.355h0.75V110.695h-0.75ZM777.871 106.355h0.75V107.695h-0.75ZM777.871 103.355h0.75V104.695h-0.75ZM777.871 100.355h0.75V101.695h-0.75ZM777.871 97.355h0.75V98.695h-0.75ZM777.871 94.355h0.75V95.695h-0.75ZM777.871 91.355h0.75V92.695h-0.75ZM777.871 88.355h0.75V89.695h-0.75ZM777.871 85.355h0.75V86.695h-0.75ZM777.871 82.355h0.75V83.695h-0.75ZM777.871 79.355h0.75V80.695h-0.75ZM777.871 76.355h0.75V77.695h-0.75ZM777.871 73.355h0.75V74.695h-0.75Z"/>
<path d="M817.637 535.355h0.75V536.695h-0.75ZM817.637 532.355h0.75V533.695h-0.75ZM817.637 529.355h0.75V530.695h-0.75ZM817.637 526.355h0.75V527.695h-0.75ZM817.637 523.355h0.75V524.695h-0.75ZM817.637 520.355h0.75V521.695h-0.75ZM817.637 517.355h0.75V518.695h-0.75ZM817.637 514.355h0.75V515.695h-0.75ZM817.637 511.355h0.75V512.695h-0.75ZM817.637 508.355h0.75V509.695h-0.75ZM817.637 505.355h0.75V506.695h-0.75ZM817.637 502.355h0.75V503.695h-0.75ZM817.637 499.355h0.75V500.695h-0.75ZM817.637 496.355h0.75V497.695h-0.75ZM817.637 493.355h0.75V494.695h-0.75ZM817.637 490.355h0.75V491.695h-0.75ZM817.637 487.355h0.75V488.695h-0.75ZM817.637 484.355h0.75V485.695h-0.75ZM817.637 481.355h0.75V482.695h-0.75ZM817.637 478.355h0.75V479.695h-0.75ZM817.637 475.355h0.75V476.695h-0.75ZM817.637 472.355h0.75V473.695h-0.75ZM817.637 469.355h0.75V470.695h-0.75ZM817.637 466.355h0.75V467.695h-0.75ZM817.637 463.355h0.75V464.695h-0.75ZM817.637 460.355h0.75V461.695h-0.75ZM817.637 457.355h0.75V458.695h-0.75ZM817.637 454.355h0.75V455.695h-0.75ZM817.637 451.355h0.75V452.695h-0.75ZM817.637 448.355h0.75V449.695h-0.75ZM817.637 445.355h0.75V446.695h-0.75ZM817.637 442.355h0.75V443.695h-0.75ZM817.637 439.355h0.75V440.695h-0.75ZM817.637 436.355h0.75V437.695h-0.75ZM817.637 433.355h0.75V434.695h-0.75ZM817.637 430.355h0.75V431.695h-0.75ZM817.637 427.355h0.75V428.695h-0.75ZM817.637 424.355h0.75V425.695h-0.75ZM817.637 421.355h0.75V422.695h-0.75ZM817.637 418.355h0.75V419.695h-0.75ZM817.637 415.355h0.75V416.695h-0.75ZM817.637 412.355h0.75V413.695h-0.75ZM817.637 409.355h0.75V410.695h-0.75ZM817.637 406.355h0.75V407.695h-0.75ZM817.637 403.355h0.75V404.695h-0.75ZM817.637 400.355h0.75V401.695h-0.75ZM817.637 397.355h0.75V398.695h-0.75ZM817.637 394.355h0.75V395.695h-0.75ZM817.637 391.355h0.75V392.695h-0.75ZM817.637 388.355h0.75V389.695h-0.75ZM817.637 385.355h0.75V386.695h-0.75ZM817.637 382.355h0.75V383.695h-0.75ZM817.637 379.355h0.75V380.695h-0.75ZM817.637 376.355h0.75V377.695h-0.75ZM817.637 373.355h0.75V374.695h-0.75ZM817.637 370.355h0.75V371.695h-0.75ZM817.637 367.355h0.75V368.695h-0.75ZM817.637 364.355h0.75V365.695h-0.75ZM817.637 361.355h0.75V362.695h-0.75ZM817.637 358.355h0.75V359.695h-0.75ZM817.637 355.355h0.75V356.695h-0.75ZM817.637 352.355h0.75V353.695h-0.75ZM817.637 349.355h0.75V350.695h-0.75ZM817.637 346.355h0.75V347.695h-0.75ZM817.637 343.355h0.75V344.695h-0.75ZM817.637 340.355h0.75V341.695h-0.75ZM817.637 337.355h0.75V338.695h-0.75ZM817.637 334.355h0.75V335.695h-0.75ZM817.637 331.355h0.75V332.695h-0.75ZM817.637 328.355h0.75V329.695h-0.75ZM817.637 325.355h0.75V326.695h-0.75ZM817.637 322.355h0.75V323.695h-0.75ZM817.637 319.355h0.75V320.695h-0.75ZM817.637 316.355h0.75V317.695h-0.75ZM817.637 313.355h0.75V314.695h-0.75ZM817.637 310.355h0.75V311.695h-0.75ZM817.637 307.355h0.75V308.695h-0.75ZM817.637 304.355h0.75V305.695h-0.75ZM817.637 301.355h0.75V302.695h-0.75ZM817.637 298.355h0.75V299.695h-0.75ZM817.637 295.355h0.75V296.695h-0.75ZM817.637 292.355h0.75V293.695h-0.75ZM817.637 289.355h0.75V290.695h-0.75ZM817.637 286.355h0.75V287.695h-0.75ZM817.637 283.355h0.75V284.695h-0.75ZM817.637 280.355h0.75V281.695h-0.75ZM817.637 277.355h0.75V278.695h-0.75ZM817.637 274.355h0.75V275.695h-0.75ZM817.637 271.355h0.75V272.695h-0.75ZM817.637 268.355h0.75V269.695h-0.75ZM817.637 265.355h0.75V266.695h-0.75ZM817.637 262.355h0.75V263.695h-0.75ZM817.637 259.355h0.75V260.695h-0.75ZM817.637 256.355h0.75V257.695h-0.75ZM817.637 253.355h0.75V254.695h-0.75ZM817.637 250.355h0.75V251.695h-0.75ZM817.637 247.355h0.75V248.695h-0.75ZM817.637 244.355h0.75V245.695h-0.75ZM817.637 241.355h0.75V242.695h-0.75ZM817.637 238.355h0.75V239.695h-0.75ZM817.637 235.355h0.75V236.695h-0.75ZM817.637 232.355h0.75V233.695h-0.75ZM817.637 229.355h0.75V230.695h-0.75ZM817.637 226.355h0.75V227.695h-0.75ZM817.637 223.355h0.75V224.695h-0.75ZM817.637 220.355h0.75V221.695h-0.75ZM817.637 217.355h0.75V218.695h-0.75ZM817.637 214.355h0.75V215.695h-0.75ZM817.637 211.355h0.75V212.695h-0.75ZM817.637 208.355h0.75V209.695h-0.75ZM817.637 205.355h0.75V206.695h-0.75ZM817.637 202.355h0.75V203.695h-0.75ZM817.637 199.355h0.75V200.695h-0.75ZM817.637 196.355h0.75V197.695h-0.75ZM817.637 193.355h0.75V194.695h-0.75ZM817.637 190.355h0.75V191.695h-0.75ZM817.637 187.355h0.75V188.695h-0.75ZM817.637 184.355h0.75V185.695h-0.75ZM817.637 181.355h0.75V182.695h-0.75ZM817.637 178.355h0.75V179.695h-0.75ZM817.637 175.355h0.75V176.695h-0.75ZM817.637 172.355h0.75V173.695h-0.75ZM817.637 169.355h0.75V170.695h-0.75ZM817.637 166.355h0.75V167.695h-0.75ZM817.637 163.355h0.75V164.695h-0.75ZM817.637 160.355h0.75V161.695h-0.75ZM817.637 157.355h0.75V158.695h-0.75ZM817.637 154.355h0.75V155.695h-0.75ZM817.637 151.355h0.75V152.695h-0.75ZM817.637 148.355h0.75V149.695h-0.75ZM817.637 145.355h0.75V146.695h-0.75ZM817.637 142.355h0.75V143.695h-0.75ZM817.637 139.355h0.75V140.695h-0.75ZM817.637 136.355h0.75V137.695h-0.75ZM817.637 133.355h0.75V134.695h-0.75ZM817.637 130.355h0.75V131.695h-0.75ZM817.637 127.355h0.75V128.695h-0.75ZM817.637 124.355h0.75V125.695h-0.75ZM817.637 121.355h0.75V122.695h-0.75ZM817.637 118.355h0.75V119.695h-0.75ZM817.637 115.355h0.75V116.695h-0.75ZM817.637 112.355h0.75V113.695h-0.75ZM817.637 109.355h0.75V110.695h-0.75ZM817.637 106.355h0.75V107.695h-0.75ZM817.637 103.355h0.75V104.695h-0.75ZM817.637 100.355h0.75V101.695h-0.75ZM817.637 97.355h0.75V98.695h-0.75ZM817.637 94.355h0.75V95.695h-0.75ZM817.637 91.355h0.75V92.695h-0.75ZM817.637 88.355h0.75V89.695h-0.75ZM817.637 85.355h0.75V86.695h-0.75ZM817.637 82.355h0.75V83.695h-0.75ZM817.637 79.355h0.75V80.695h-0.75ZM817.637 76.355h0.75V77.695h-0.75ZM817.637 73.355h0.75V74.695h-0.75Z"/>
<path d="M857.403 535.355h0.75V536.695h-0.75ZM857.403 532.355h0.75V533.695h-0.75ZM857.403 529.355h0.75V530.695h-0.75ZM857.403 526.355h0.75V527.695h-0.75ZM857.403 523.355h0.75V524.695h-0.75ZM857.403 520.355h0.75V521.695h-0.75ZM857.403 517.355h0.75V518.695h-0.75ZM857.403 514.355h0.75V515.695h-0.75ZM857.403 511.355h0.75V512.695h-0.75ZM857.403 508.355h0.75V509.695h-0.75ZM857.403 505.355h0.75V506.695h-0.75ZM857.403 502.355h0.75V503.695h-0.75ZM857.403 499.355h0.75V500.695h-0.75ZM857.403 496.355h0.75V497.695h-0.75ZM857.403 493.355h0.75V494.695h-0.75ZM857.403 490.355h0.75V491.695h-0.75ZM857.403 487.355h0.75V488.695h-0.75ZM857.403 484.355h0.75V485.695h-0.75ZM857.403 481.355h0.75V482.695h-0.75ZM857.403 478.355h0.75V479.695h-0.75ZM857.403 475.355h0.75V476.695h-0.75ZM857.403 472.355h0.75V473.695h-0.75ZM857.403 469.355h0.75V470.695h-0.75ZM857.403 466.355h0.75V467.695h-0.75ZM857.403 463.355h0.75V464.695h-0.75ZM857.403 460.355h0.75V461.695h-0.75ZM857.403 457.355h0.75V458.695h-0.75ZM857.403 454.355h0.75V455.695h-0.75ZM857.403 451.355h0.75V452.695h-0.75ZM857.403 448.355h0.75V449.695h-0.75ZM857.403 445.355h0.75V446.695h-0.75ZM857.403 442.355h0.75V443.695h-0.75ZM857.403 439.355h0.75V440.695h-0.75ZM857.403 436.355h0.75V437.695h-0.75ZM857.403 433.355h0.75V434.695h-0.75ZM857.403 430.355h0.75V431.695h-0.75ZM857.403 427.355h0.75V428.695h-0.75ZM857.403 424.355h0.75V425.695h-0.75ZM857.403 421.355h0.75V422.695h-0.75ZM857.403 418.355h0.75V419.695h-0.75ZM857.403 415.355h0.75V416.695h-0.75ZM857.403 412.355h0.75V413.695h-0.75ZM857.403 409.355h0.75V410.695h-0.75ZM857.403 406.355h0.75V407.695h-0.75ZM857.403 403.355h0.75V404.695h-0.75ZM857.403 400.355h0.75V401.695h-0.75ZM857.403 397.355h0.75V398.695h-0.75ZM857.403 394.355h0.75V395.695h-0.75ZM857.403 391.355h0.75V392.695h-0.75ZM857.403 388.355h0.75V389.695h-0.75ZM857.403 385.355h0.75V386.695h-0.75ZM857.403 382.355h0.75V383.695h-0.75ZM857.403 379.355h0.75V380.695h-0.75ZM857.403 376.355h0.75V377.695h-0.75ZM857.403 373.355h0.75V374.695h-0.75ZM857.403 370.355h0.75V371.695h-0.75ZM857.403 367.355h0.75V368.695h-0.75ZM857.403 364.355h0.75V365.695h-0.75ZM857.403 361.355h0.75V362.695h-0.75ZM857.403 358.355h0.75V359.695h-0.75ZM857.403 355.355h0.75V356.695h-0.75ZM857.403 352.355h0.75V353.695h-0.75ZM857.403 349.355h0.75V350.695h-0.75ZM857.403 346.355h0.75V347.695h-0.75ZM857.403 343.355h0.75V344.695h-0.75ZM857.403 340.355h0.75V341.695h-0.75ZM857.403 337.355h0.75V338.695h-0.75ZM857.403 334.355h0.75V335.695h-0.75ZM857.403 331.355h0.75V332.695h-0.75ZM857.403 328.355h0.75V329.695h-0.75ZM857.403 325.355h0.75V326.695h-0.75ZM857.403 322.355h0.75V323.695h-0.75ZM857.403 319.355h0.75V320.695h-0.75ZM857.403 316.355h0.75V317.695h-0.75ZM857.403 313.355h0.75V314.695h-0.75ZM857.403 310.355h0.75V311.695h-0.75ZM857.403 307.355h0.75V308.695h-0.75ZM857.403 304.355h0.75V305.695h-0.75ZM857.403 301.355h0.75V302.695h-0.75ZM857.403 298.355h0.75V299.695h-0.75ZM857.403 295.355h0.75V296.695h-0.75ZM857.403 292.355h0.75V293.695h-0.75ZM857.403 289.355h0.75V290.695h-0.75ZM857.403 286.355h0.75V287.695h-0.75ZM857.403 283.355h0.75V284.695h-0.75ZM857.403 280.355h0.75V281.695h-0.75ZM857.403 277.355h0.75V278.695h-0.75ZM857.403 274.355h0.75V275.695h-0.75ZM857.403 271.355h0.75V272.695h-0.75ZM857.403 268.355h0.75V269.695h-0.75ZM857.403 265.355h0.75V266.695h-0.75ZM857.403 262.355h0.75V263.695h-0.75ZM857.403 259.355h0.75V260.695h-0.75ZM857.403 256.355h0.75V257.695h-0.75ZM857.403 253.355h0.75V254.695h-0.75ZM857.403 250.355h0.75V251.695h-0.75ZM857.403 247.355h0.75V248.695h-0.75ZM857.403 244.355h0.75V245.695h-0.75ZM857.403 241.355h0.75V242.695h-0.75ZM857.403 238.355h0.75V239.695h-0.75ZM857.403 235.355h0.75V236.695h-0.75ZM857.403 232.355h0.75V233.695h-0.75ZM857.403 229.355h0.75V230.695h-0.75ZM857.403 226.355h0.75V227.695h-0.75ZM857.403 223.355h0.75V224.695h-0.75ZM857.403 220.355h0.75V221.695h-0.75ZM857.403 217.355h0.75V218.695h-0.75ZM857.403 214.355h0.75V215.695h-0.75ZM857.403 211.355h0.75V212.695h-0.75ZM857.403 208.355h0.75V209.695h-0.75ZM857.403 205.355h0.75V206.695h-0.75ZM857.403 202.355h0.75V203.695h-0.75ZM857.403 199.355h0.75V200.695h-0.75ZM857.403 196.355h0.75V197.695h-0.75ZM857.403 193.355h0.75V194.695h-0.75ZM857.403 190.355h0.75V191.695h-0.75ZM857.403 187.355h0.75V188.695h-0.75ZM857.403 184.355h0.75V185.695h-0.75ZM857.403 181.355h0.75V182.695h-0.75ZM857.403 178.355h0.75V179.695h-0.75ZM857.403 175.355h0.75V176.695h-0.75ZM857.403 172.355h0.75V173.695h-0.75ZM857.403 169.355h0.75V170.695h-0.75ZM857.403 166.355h0.75V167.695h-0.75ZM857.403 163.355h0.75V164.695h-0.75ZM857.403 160.355h0.75V161.695h-0.75ZM857.403 157.355h0.75V158.695h-0.75ZM857.403 154.355h0.75V155.695h-0.75ZM857.403 151.355h0.75V152.695h-0.75ZM857.403 148.355h0.75V149.695h-0.75ZM857.403 145.355h0.75V146.695h-0.75ZM857.403 142.355h0.75V143.695h-0.75ZM857.403 139.355h0.75V140.695h-0.75ZM857.403 136.355h0.75V137.695h-0.75ZM857.403 133.355h0.75V134.695h-0.75ZM857.403 130.355h0.75V131.695h-0.75ZM857.403 127.355h0.75V128.695h-0.75ZM857.403 124.355h0.75V125.695h-0.75ZM857.403 121.355h0.75V122.695h-0.75ZM857.403 118.355h0.75V119.695h-0.75ZM857.403 115.355h0.75V116.695h-0.75ZM857.403 112.355h0.75V113.695h-0.75ZM857.403 109.355h0.75V110.695h-0.75ZM857.403 106.355h0.75V107.695h-0.75ZM857.403 103.355h0.75V104.695h-0.75ZM857.403 100.355h0.75V101.695h-0.75ZM857.403 97.355h0.75V98.695h-0.75ZM857.403 94.355h0.75V95.695h-0.75ZM857.403 91.355h0.75V92.695h-0.75ZM857.403 88.355h0.75V89.695h-0.75ZM857.403 85.355h0.75V86.695h-0.75ZM857.403 82.355h0.75V83.695h-0.75ZM857.403 79.355h0.75V80.695h-0.75ZM857.403 76.355h0.75V77.695h-0.75ZM857.403 73.355h0.75V74.695h-0.75Z"/>
<path d="M71.705 328.175v0.75H73.045v-0.75ZM74.705 328.175v0.75H76.045v-0.75ZM77.705 328.175v0.75H79.045v-0.75ZM80.705 328.175v0.75H82.045v-0.75ZM83.705 328.175v0.75H85.045v-0.75ZM86.705 328.175v0.75H88.045v-0.75ZM89.705 328.175v0.75H91.045v-0.75ZM92.705 328.175v0.75H94.045v-0.75ZM95.705 328.175v0.75H97.045v-0.75ZM98.705 328.175v0.75H100.045v-0.75ZM101.705 328.175v0.75H103.045v-0.75ZM104.705 328.175v0.75H106.045v-0.75ZM107.705 328.175v0.75H109.045v-0.75ZM110.705 328.175v0.75H112.045v-0.75ZM113.705 328.175v0.75H115.045v-0.75ZM116.705 328.175v0.75H118.045v-0.75ZM119.705 328.175v0.75H121.045v-0.75ZM122.705 328.175v0.75H124.045v-0.75ZM125.705 328.175v0.75H127.045v-0.75ZM128.705 328.175v0.75H130.045v-0.75ZM131.705 328.175v0.75H133.045v-0.75ZM134.705 328.175v0.75H136.045v-0.75ZM137.705 328.175v0.75H139.045v-0.75ZM140.705 328.175v0.75H142.045v-0.75ZM143.705 328.175v0.75H145.045v-0.75ZM146.705 328.175v0.75H148.045v-0.75ZM149.705 328.175v0.75H151.045v-0.75ZM152.705 328.175v0.75H154.045v-0.75ZM155.705 328.175v0.75H157.045v-0.75ZM158.705 328.175v0.75H160.045v-0.75ZM161.705 328.175v0.75H163.045v-0.75ZM164.705 328.175v0.75H166.045v-0.75ZM167.705 328.175v0.75H169.045v-0.75ZM170.705 328.175v0.75H172.045v-0.75ZM173.705 328.175v0.75H175.045v-0.75ZM176.705 328.175v0.75H178.045v-0.75ZM179.705 328.175v0.75H181.045v-0.75ZM182.705 328.175v0.75H184.045v-0.75ZM185.705 328.175v0.75H187.045v-0.75ZM188.705 328.175v0.75H190.045v-0.75ZM191.705 328.175v0.75H193.045v-0.75ZM194.705 328.175v0.75H196.045v-0.75ZM197.705 328.175v0.75H199.045v-0.75ZM200.705 328.175v0.75H202.045v-0.75ZM203.705 328.175v0.75H205.045v-0.75ZM206.705 328.175v0.75H208.045v-0.75ZM209.705 328.175v0.75H211.045v-0.75ZM212.705 328.175v0.75H214.045v-0.75ZM215.705 328.175v0.75H217.045v-0.75ZM218.705 328.175v0.75H220.045v-0.75ZM221.705 328.175v0.75H223.045v-0.75ZM224.705 328.175v0.75H226.045v-0.75ZM227.705 328.175v0.75H229.045v-0.75ZM230.705 328.175v0.75H232.045v-0.75ZM233.705 328.175v0.75H235.045v-0.75ZM236.705 328.175v0.75H238.045v-0.75ZM239.705 328.175v0.75H241.045v-0.75ZM242.705 328.175v0.75H244.045v-0.75ZM245.705 328.175v0.75H247.045v-0.75ZM248.705 328.175v0.75H250.045v-0.75ZM251.705 328.175v0.75H253.045v-0.75ZM254.705 328.175v0.75H256.045v-0.75ZM257.705 328.175v0.75H259.045v-0.75ZM260.705 328.175v0.75H262.045v-0.75ZM263.705 328.175v0.75H265.045v-0.75ZM266.705 328.175v0.75H268.045v-0.75ZM269.705 328.175v0.75H271.045v-0.75ZM272.705 328.175v0.75H274.045v-0.75ZM275.705 328.175v0.75H277.045v-0.75ZM278.705 328.175v0.75H280.045v-0.75ZM281.705 328.175v0.75H283.045v-0.75ZM284.705 328.175v0.75H286.045v-0.75ZM287.705 328.175v0.75H289.045v-0.75ZM290.705 328.175v0.75H292.045v-0.75ZM293.705 328.175v0.75H295.045v-0.75ZM296.705 328.175v0.75H298.045v-0.75ZM299.705 328.175v0.75H301.045v-0.75ZM302.705 328.175v0.75H304.045v-0.75ZM305.705 328.175v0.75H307.045v-0.75ZM308.705 328.175v0.75H310.045v-0.75ZM311.705 328.175v0.75H313.045v-0.75ZM314.705 328.175v0.75H316.045v-0.75ZM317.705 328.175v0.75H319.045v-0.75ZM320.705 328.175v0.75H322.045v-0.75ZM323.705 328.175v0.75H325.045v-0.75ZM326.705 328.175v0.75H328.045v-0.75ZM329.705 328.175v0.75H331.045v-0.75ZM332.705 328.175v0.75H334.045v-0.75ZM335.705 328.175v0.75H337.045v-0.75ZM338.705 328.175v0.75H340.045v-0.75ZM341.705 328.175v0.75H343.045v-0.75ZM344.705 328.175v0.75H346.045v-0.75ZM347.705 328.175v0.75H349.045v-0.75ZM350.705 328.175v0.75H352.045v-0.75ZM353.705 328.175v0.75H355.045v-0.75ZM356.705 328.175v0.75H358.045v-0.75ZM359.705 328.175v0.75H361.045v-0.75ZM362.705 328.175v0.75H364.045v-0.75ZM365.705 328.175v0.75H367.045v-0.75ZM368.705 328.175v0.75H370.045v-0.75ZM371.705 328.175v0.75H373.045v-0.75ZM374.705 328.175v0.75H376.045v-0.75ZM377.705 328.175v0.75H379.045v-0.75ZM380.705 328.175v0.75H382.045v-0.75ZM383.705 328.175v0.75H385.045v-0.75ZM386.705 328.175v0.75H388.045v-0.75ZM389.705 328.175v0.75H391.045v-0.75ZM392.705 328.175v0.75H394.045v-0.75ZM395.705 328.175v0.75H397.045v-0.75ZM398.705 328.175v0.75H400.045v-0.75ZM401.705 328.175v0.75H403.045v-0.75ZM404.705 328.175v0.75H406.045v-0.75ZM407.705 328.175v0.75H409.045v-0.75ZM410.705 328.175v0.75H412.045v-0.75ZM413.705 328.175v0.75H415.045v-0.75ZM416.705 328.175v0.75H418.045v-0.75ZM419.705 328.175v0.75H421.045v-0.75ZM422.705 328.175v0.75H424.045v-0.75ZM425.705 328.175v0.75H427.045v-0.75ZM428.705 328.175v0.75H430.045v-0.75ZM431.705 328.175v0.75H433.045v-0.75ZM434.705 328.175v0.75H436.045v-0.75ZM437.705 328.175v0.75H439.045v-0.75ZM440.705 328.175v0.75H442.045v-0.75ZM443.705 328.175v0.75H445.045v-0.75ZM446.705 328.175v0.75H448.045v-0.75ZM449.705 328.175v0.75H451.045v-0.75ZM452.705 328.175v0.75H454.045v-0.75ZM455.705 328.175v0.75H457.045v-0.75ZM458.705 328.175v0.75H460.045v-0.75ZM461.705 328.175v0.75H463.045v-0.75ZM464.705 328.175v0.75H466.045v-0.75ZM467.705 328.175v0.75H469.045v-0.75ZM470.705 328.175v0.75H472.045v-0.75ZM473.705 328.175v0.75H475.045v-0.75ZM476.705 328.175v0.75H478.045v-0.75ZM479.705 328.175v0.75H481.045v-0.75ZM482.705 328.175v0.75H484.045v-0.75ZM485.705 328.175v0.75H487.045v-0.75ZM488.705 328.175v0.75H490.045v-0.75ZM491.705 328.175v0.75H493.045v-0.75ZM494.705 328.175v0.75H496.045v-0.75ZM497.705 328.175v0.75H499.045v-0.75ZM500.705 328.175v0.75H502.045v-0.75ZM503.705 328.175v0.75H505.045v-0.75ZM506.705 328.175v0.75H508.045v-0.75ZM509.705 328.175v0.75H511.045v-0.75ZM512.705 328.175v0.75H514.045v-0.75ZM515.705 328.175v0.75H517.045v-0.75ZM518.705 328.175v0.75H520.045v-0.75ZM521.705 328.175v0.75H523.045v-0.75ZM524.705 328.175v0.75H526.045v-0.75ZM527.705 328.175v0.75H529.045v-0.75ZM530.705 328.175v0.75H532.045v-0.75ZM533.705 328.175v0.75H535.045v-0.75ZM536.705 328.175v0.75H538.045v-0.75ZM539.705 328.175v0.75H541.045v-0.75ZM542.705 328.175v0.75H544.045v-0.75ZM545.705 328.175v0.75H547.045v-0.75ZM548.705 328.175v0.75H550.045v-0.75ZM551.705 328.175v0.75H553.045v-0.75ZM554.705 328.175v0.75H556.045v-0.75ZM557.705 328.175v0.75H559.045v-0.75ZM560.705 328.175v0.75H562.045v-0.75ZM563.705 328.175v0.75H565.045v-0.75ZM566.705 328.175v0.75H568.045v-0.75ZM569.705 328.175v0.75H571.045v-0.75ZM572.705 328.175v0.75H574.045v-0.75ZM575.705 328.175v0.75H577.045v-0.75ZM578.705 328.175v0.75H580.045v-0.75ZM581.705 328.175v0.75H583.045v-0.75ZM584.705 328.175v0.75H586.045v-0.75ZM587.705 328.175v0.75H589.045v-0.75ZM590.705 328.175v0.75H592.045v-0.75ZM593.705 328.175v0.75H595.045v-0.75ZM596.705 328.175v0.75H598.045v-0.75ZM599.705 328.175v0.75H601.045v-0.75ZM602.705 328.175v0.75H604.045v-0.75ZM605.705 328.175v0.75H607.045v-0.75ZM608.705 328.175v0.75H610.045v-0.75ZM611.705 328.175v0.75H613.045v-0.75ZM614.705 328.175v0.75H616.045v-0.75ZM617.705 328.175v0.75H619.045v-0.75ZM620.705 328.175v0.75H622.045v-0.75ZM623.705 328.175v0.75H625.045v-0.75ZM626.705 328.175v0.75H628.045v-0.75ZM629.705 328.175v0.75H631.045v-0.75ZM632.705 328.175v0.75H634.045v-0.75ZM635.705 328.175v0.75H637.045v-0.75ZM638.705 328.175v0.75H640.045v-0.75ZM641.705 328.175v0.75H643.045v-0.75ZM644.705 328.175v0.75H646.045v-0.75ZM647.705 328.175v0.75H649.045v-0.75ZM650.705 328.175v0.75H652.045v-0.75ZM653.705 328.175v0.75H655.045v-0.75ZM656.705 328.175v0.75H658.045v-0.75ZM659.705 328.175v0.75H661.045v-0.75ZM662.705 328.175v0.75H664.045v-0.75ZM665.705 328.175v0.75H667.045v-0.75ZM668.705 328.175v0.75H670.045v-0.75ZM671.705 328.175v0.75H673.045v-0.75ZM674.705 328.175v0.75H676.045v-0.75ZM677.705 328.175v0.75H679.045v-0.75ZM680.705 328.175v0.75H682.045v-0.75ZM683.705 328.175v0.75H685.045v-0.75ZM686.705 328.175v0.75H688.045v-0.75ZM689.705 328.175v0.75H691.045v-0.75ZM692.705 328.175v0.75H694.045v-0.75ZM695.705 328.175v0.75H697.045v-0.75ZM698.705 328.175v0.75H700.045v-0.75ZM701.705 328.175v0.75H703.045v-0.75ZM704.705 328.175v0.75H706.045v-0.75ZM707.705 328.175v0.75H709.045v-0.75ZM710.705 328.175v0.75H712.045v-0.75ZM713.705 328.175v0.75H715.045v-0.75ZM716.705 328.175v0.75H718.045v-0.75ZM719.705 328.175v0.75H721.045v-0.75ZM722.705 328.175v0.75H724.045v-0.75ZM725.705 328.175v0.75H727.045v-0.75ZM728.705 328.175v0.75H730.045v-0.75ZM731.705 328.175v0.75H733.045v-0.75ZM734.705 328.175v0.75H736.045v-0.75ZM737.705 328.175v0.75H739.045v-0.75ZM740.705 328.175v0.75H742.045v-0.75ZM743.705 328.175v0.75H745.045v-0.75ZM746.705 328.175v0.75H748.045v-0.75ZM749.705 328.175v0.75H751.045v-0.75ZM752.705 328.175v0.75H754.045v-0.75ZM755.705 328.175v0.75H757.045v-0.75ZM758.705 328.175v0.75H760.045v-0.75ZM761.705 328.175v0.75H763.045v-0.75ZM764.705 328.175v0.75H766.045v-0.75ZM767.705 328.175v0.75H769.045v-0.75ZM770.705 328.175v0.75H772.045v-0.75ZM773.705 328.175v0.75H775.045v-0.75ZM776.705 328.175v0.75H778.045v-0.75ZM779.705 328.175v0.75H781.045v-0.75ZM782.705 328.175v0.75H784.045v-0.75ZM785.705 328.175v0.75H787.045v-0.75ZM788.705 328.175v0.75H790.045v-0.75ZM791.705 328.175v0.75H793.045v-0.75ZM794.705 328.175v0.75H796.045v-0.75ZM797.705 328.175v0.75H799.045v-0.75ZM800.705 328.175v0.75H802.045v-0.75ZM803.705 328.175v0.75H805.045v-0.75ZM806.705 328.175v0.75H808.045v-0.75ZM809.705 328.175v0.75H811.045v-0.75ZM812.705 328.175v0.75H814.045v-0.75ZM815.705 328.175v0.75H817.045v-0.75ZM818.705 328.175v0.75H820.045v-0.75ZM821.705 328.175v0.75H823.045v-0.75ZM824.705 328.175v0.75H826.045v-0.75ZM827.705 328.175v0.75H829.045v-0.75ZM830.705 328.175v0.75H832.045v-0.75ZM833.705 328.175v0.75H835.045v-0.75ZM836.705 328.175v0.75H838.045v-0.75ZM839.705 328.175v0.75H841.045v-0.75ZM842.705 328.175v0.75H844.045v-0.75ZM845.705 328.175v0.75H847.045v-0.75ZM848.705 328.175v0.75H850.045v-0.75ZM851.705 328.175v0.75H853.045v-0.75ZM854.705 328.175v0.75H856.045v-0.75ZM857.705 328.175v0.75H859.045v-0.75ZM860.705 328.175v0.75H862.045v-0.75ZM863.705 328.175v0.75H865.045v-0.75ZM866.705 328.175v0.75H868.045v-0.75ZM869.705 328.175v0.75H871.045v-0.75ZM872.705 328.175v0.75H874.045v-0.75ZM875.705 328.175v0.75H877.045v-0.75ZM878.705 328.175v0.75H880.045v-0.75ZM881.705 328.175v0.75H883.045v-0.75ZM884.705 328.175v0.75H886.045v-0.75Z"/>
</g>
<g style="filter:grayscale(1)">
<g transform="translate(456,48)"><text font-size="14.4" font-weight="bold" x="0 10 19 29 39" y="0">PPARA</text></g>
<g transform="translate(55,128) rotate(-90)"><text font-size="12" x="0 7 10 17" y="0">0.04</text></g>
<g transform="translate(55,234) rotate(-90)"><text font-size="12" x="0 7 10 17" y="0">0.02</text></g>
<g transform="translate(55,341) rotate(-90)"><text font-size="12" x="0 7 10 17" y="0">0.00</text></g>
<g transform="translate(55,449) rotate(-90)"><text font-size="12" x="0 4 11 14 21" y="0">-0.02</text></g>
<g transform="translate(26,323) rotate(-90)"><text font-size="12" x="0 7 13 16 19 25 28 31" y="0">activity</text></g>
<g transform="translate(106,643) rotate(-90)"><text font-size="10.8" x="0 6 10 16 20 29 35 40 45 51 55 61 67 73 80 86" y="0">3-9-mock1-13_S20</text></g>
<g transform="translate(146,637) rotate(-90)"><text font-size="10.8" x="0 6 10 16 20 29 35 40 45 51 55 61 67 73 80" y="0">3-9-mock2-14_S1</text></g>
<g transform="translate(186,623) rotate(-90)"><text font-size="10.8" x="0 6 10 16 20 28 31 37 41 47 53 59 66" y="0">3-9-wt1-15_S2</text></g>
<g transform="translate(226,629) rotate(-90)"><text font-size="10.8" x="0 6 10 16 20 28 31 37 41 47 53 59 66 72" y="0">3-9-wt2-16_S16</text></g>
<g transform="translate(265,693) rotate(-90)"><text font-size="10.8" x="0 8 14 21 27 33 39 43 51 57 64 70 74 80 84 86 92 98 104 109 117 123 129 136" y="0">CoV002-CoV2-1-indexG4_S4</text></g>
<g transform="translate(305,693) rotate(-90)"><text font-size="10.8" x="0 8 14 21 27 33 39 43 51 57 64 70 74 80 84 86 92 98 104 109 117 123 129 136" y="0">CoV002-CoV2-2-indexG5_S5</text></g>
<g transform="translate(345,693) rotate(-90)"><text font-size="10.8" x="0 8 14 21 27 33 39 43 51 57 64 70 74 80 84 86 92 98 104 109 117 123 129 136" y="0">CoV002-CoV2-3-indexG6_S6</text></g>
<g transform="translate(385,687) rotate(-90)"><text font-size="10.8" x="0 8 14 21 27 33 39 43 52 58 63 68 74 78 80 86 92 98 103 111 117 123 130" y="0">CoV002-mock1-indexG1_S1</text></g>
<g transform="translate(424,687) rotate(-90)"><text font-size="10.8" x="0 8 14 21 27 33 39 43 52 58 63 68 74 78 80 86 92 98 103 111 117 123 130" y="0">CoV002-mock2-indexG2_S2</text></g>
<g transform="translate(464,687) rotate(-90)"><text font-size="10.8" x="0 8 14 21 27 33 39 43 52 58 63 68 74 78 80 86 92 98 103 111 117 123 130" y="0">CoV002-mock3-indexG3_S3</text></g>
<g transform="translate(504,658) rotate(-90)"><text font-size="10.8" x="0 7 14 22 29 35 41 47 51 59 65 72 78 82 88 94 101" y="0">SARS004-CoV2-1_S4</text></g>
<g transform="translate(544,658) rotate(-90)"><text font-size="10.8" x="0 7 14 22 29 35 41 47 51 59 65 72 78 82 88 94 101" y="0">SARS004-CoV2-2_S5</text></g>
<g transform="translate(583,658) rotate(-90)"><text font-size="10.8" x="0 7 14 22 29 35 41 47 51 59 65 72 78 82 88 94 101" y="0">SARS004-CoV2-3_S6</text></g>
<g transform="translate(623,656) rotate(-90)"><text font-size="10.8" x="0 7 14 22 29 35 41 47 51 60 66 71 76 80 86 92 99" y="0">SARS004-mock-1_S1</text></g>
<g transform="translate(663,656) rotate(-90)"><text font-size="10.8" x="0 7 14 22 29 35 41 47 51 60 66 71 76 80 86 92 99" y="0">SARS004-mock-2_S2</text></g>
<g transform="translate(703,656) rotate(-90)"><text font-size="10.8" x="0 7 14 22 29 35 41 47 51 60 66 71 76 80 86 92 99" y="0">SARS004-mock-3_S3</text></g>
<g transform="translate(742,708) rotate(-90)"><text font-size="10.8" x="0 5 10 18 26 33 39 45 51 55 64 70 75 80 84 90 94 96 102 108 114 119 126 132 138 145 151" y="0">svRNA184-mock-1-indexF1_S13</text></g>
<g transform="translate(782,708) rotate(-90)"><text font-size="10.8" x="0 5 10 18 26 33 39 45 51 55 64 70 75 80 84 90 94 96 102 108 114 119 126 132 138 145 151" y="0">svRNA184-mock-3-indexF3_S15</text></g>
<g transform="translate(822,704) rotate(-90)"><text font-size="10.8" x="0 5 10 18 26 33 39 45 51 55 63 70 76 80 86 90 92 98 104 110 115 122 128 134 141 147" y="0">svRNA184-RSV-1-indexF4_S16</text></g>
<g transform="translate(862,705) rotate(-90)"><text font-size="10.8" x="0 5 10 18 26 33 39 45 51 55 63 70 76 80 86 90 92 98 104 110 115 123 129 135 142 148" y="0">svRNA184-RSV-3-indexH9_S18</text></g>
</g>
</svg>
</body></html>
